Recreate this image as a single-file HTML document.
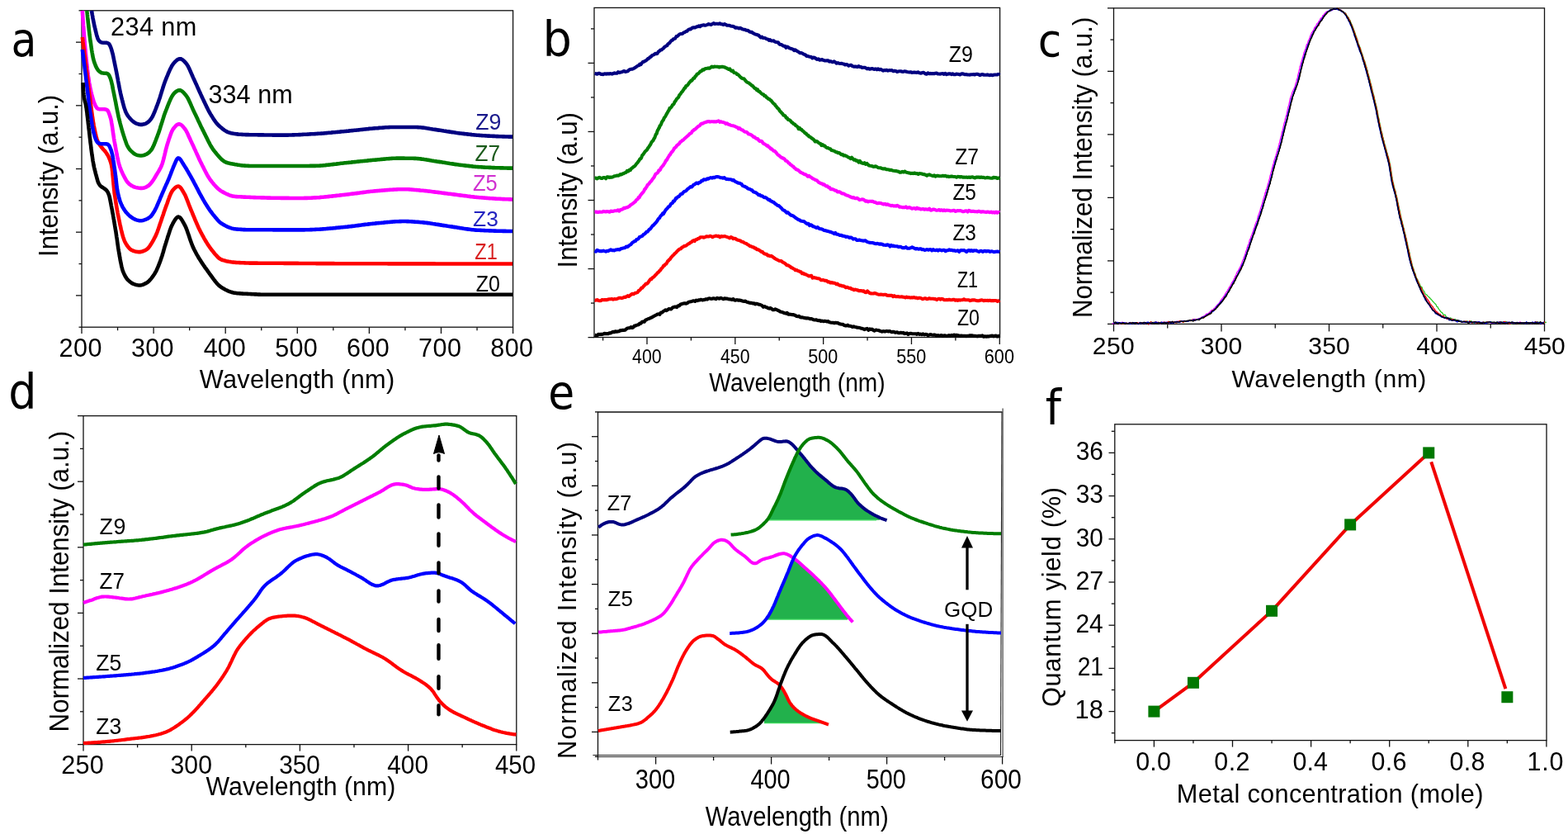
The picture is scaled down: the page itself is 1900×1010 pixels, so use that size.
<!DOCTYPE html>
<html><head><meta charset="utf-8"><title>figure</title>
<style>
html,body{margin:0;padding:0;background:#fff;}
svg{display:block;font-family:"Liberation Sans",Arial,sans-serif;}
</style></head><body>
<svg width="1900" height="1010" viewBox="0 0 1900 1010">
<rect width="1900" height="1010" fill="#fff"/>
<rect x="99" y="12.8" width="522.6" height="383.4" fill="none" stroke="#111" stroke-width="1.3"/>
<line x1="99" y1="396.2" x2="99" y2="404" stroke="#111" stroke-width="1.3"/>
<line x1="142.55" y1="396.2" x2="142.55" y2="400.2" stroke="#111" stroke-width="1.3"/>
<line x1="186.1" y1="396.2" x2="186.1" y2="404" stroke="#111" stroke-width="1.3"/>
<line x1="229.65" y1="396.2" x2="229.65" y2="400.2" stroke="#111" stroke-width="1.3"/>
<line x1="273.2" y1="396.2" x2="273.2" y2="404" stroke="#111" stroke-width="1.3"/>
<line x1="316.75" y1="396.2" x2="316.75" y2="400.2" stroke="#111" stroke-width="1.3"/>
<line x1="360.3" y1="396.2" x2="360.3" y2="404" stroke="#111" stroke-width="1.3"/>
<line x1="403.85" y1="396.2" x2="403.85" y2="400.2" stroke="#111" stroke-width="1.3"/>
<line x1="447.4" y1="396.2" x2="447.4" y2="404" stroke="#111" stroke-width="1.3"/>
<line x1="490.95" y1="396.2" x2="490.95" y2="400.2" stroke="#111" stroke-width="1.3"/>
<line x1="534.5" y1="396.2" x2="534.5" y2="404" stroke="#111" stroke-width="1.3"/>
<line x1="578.05" y1="396.2" x2="578.05" y2="400.2" stroke="#111" stroke-width="1.3"/>
<line x1="621.6" y1="396.2" x2="621.6" y2="404" stroke="#111" stroke-width="1.3"/>
<line x1="95.5" y1="12.8" x2="99" y2="12.8" stroke="#111" stroke-width="1.3"/>
<line x1="92" y1="51.14" x2="99" y2="51.14" stroke="#111" stroke-width="1.3"/>
<line x1="95.5" y1="89.48" x2="99" y2="89.48" stroke="#111" stroke-width="1.3"/>
<line x1="92" y1="127.82" x2="99" y2="127.82" stroke="#111" stroke-width="1.3"/>
<line x1="95.5" y1="166.16" x2="99" y2="166.16" stroke="#111" stroke-width="1.3"/>
<line x1="92" y1="204.5" x2="99" y2="204.5" stroke="#111" stroke-width="1.3"/>
<line x1="95.5" y1="242.84" x2="99" y2="242.84" stroke="#111" stroke-width="1.3"/>
<line x1="92" y1="281.18" x2="99" y2="281.18" stroke="#111" stroke-width="1.3"/>
<line x1="95.5" y1="319.52" x2="99" y2="319.52" stroke="#111" stroke-width="1.3"/>
<line x1="92" y1="357.86" x2="99" y2="357.86" stroke="#111" stroke-width="1.3"/>
<line x1="95.5" y1="396.2" x2="99" y2="396.2" stroke="#111" stroke-width="1.3"/>
<text x="13.57" y="67.85" font-size="56.87" textLength="30.91" lengthAdjust="spacingAndGlyphs" font-family="DejaVu Sans, sans-serif" fill="#000">a</text>
<text x="133.96" y="42.9" font-size="30.71" letter-spacing="0.389" fill="#000">234 nm</text>
<text x="252.58" y="124.6" font-size="30.57" letter-spacing="0.020" fill="#000">334 nm</text>
<text x="576.2" y="157.4" font-size="27.68" textLength="31.16" lengthAdjust="spacingAndGlyphs" fill="#1a1a8c">Z9</text>
<text x="575.51" y="194.8" font-size="27.1" textLength="30.55" lengthAdjust="spacingAndGlyphs" fill="#1b5a1b">Z7</text>
<text x="572.94" y="231" font-size="27.39" textLength="29.74" lengthAdjust="spacingAndGlyphs" fill="#d030d0">Z5</text>
<text x="572.91" y="273.7" font-size="26.38" letter-spacing="0.117" fill="#2424c0">Z3</text>
<text x="575.3" y="313.6" font-size="27.39" textLength="27.41" lengthAdjust="spacingAndGlyphs" fill="#d82020">Z1</text>
<text x="576.65" y="352.9" font-size="26.81" textLength="29.18" lengthAdjust="spacingAndGlyphs" fill="#000">Z0</text>
<text transform="translate(70.3,310.88) rotate(-90)" font-size="32.9" textLength="195.97" lengthAdjust="spacingAndGlyphs" fill="#000">Intensity (a.u.)</text>
<text x="71.57" y="431.6" font-size="30.57" letter-spacing="0.449" fill="#000">200</text>
<text x="158.98" y="431.6" font-size="30.57" letter-spacing="0.296" fill="#000">300</text>
<text x="246.69" y="431.6" font-size="30.57" textLength="50.99" lengthAdjust="spacingAndGlyphs" fill="#000">400</text>
<text x="333.18" y="431.6" font-size="30.57" letter-spacing="0.296" fill="#000">500</text>
<text x="419.97" y="431.6" font-size="30.57" letter-spacing="0.449" fill="#000">600</text>
<text x="507.07" y="431.6" font-size="30.57" letter-spacing="0.449" fill="#000">700</text>
<text x="594.32" y="431.6" font-size="30.57" letter-spacing="0.372" fill="#000">800</text>
<text x="241.85" y="470.4" font-size="30.72" letter-spacing="0.254" fill="#000">Wavelength (nm)</text>
<path d="M111.0,13.0 111.2,14.5 111.5,16.0 111.7,17.4 112.0,18.9 112.3,20.4 112.5,21.9 112.8,23.3 113.1,24.8 113.4,26.3 113.7,27.8 114.0,29.2 114.3,30.7 114.6,32.2 115.0,33.6 115.3,35.1 115.7,36.5 116.0,38.0 116.4,39.4 116.7,40.9 117.1,42.4 117.5,43.8 118.0,45.2 118.4,46.7 119.1,48.0 119.9,49.2 120.9,50.3 122.2,51.1 123.5,51.5 125.0,51.7 126.5,51.7 128.0,51.8 129.5,51.9 130.9,52.4 132.1,53.2 132.9,54.4 133.5,55.7 134.1,57.1 134.6,58.5 135.1,59.9 135.5,61.4 135.9,62.8 136.3,64.3 136.7,65.7 137.0,67.2 137.3,68.6 137.6,70.1 137.9,71.6 138.2,73.1 138.5,74.5 138.8,76.0 139.1,77.5 139.4,78.9 139.7,80.4 140.0,81.9 140.3,83.3 140.6,84.8 140.9,86.3 141.2,87.8 141.5,89.2 141.8,90.7 142.0,92.2 142.3,93.7 142.6,95.1 142.9,96.6 143.1,98.1 143.4,99.6 143.7,101.0 144.0,102.5 144.2,104.0 144.5,105.4 144.8,106.9 145.1,108.4 145.4,109.9 145.7,111.3 146.0,112.8 146.4,114.3 146.7,115.7 147.0,117.2 147.4,118.6 147.9,120.6 148.3,122.0 148.6,123.5 149.0,124.9 149.4,126.4 149.8,127.8 150.2,129.3 150.6,130.7 151.1,132.1 151.6,133.6 152.1,135.0 152.7,136.3 153.4,137.7 154.1,139.0 154.9,140.2 155.8,141.4 156.8,142.6 157.8,143.7 158.8,144.8 159.9,145.9 161.0,146.9 162.1,147.8 163.4,148.6 164.7,149.3 166.1,149.9 167.5,150.3 169.0,150.7 170.4,150.9 171.9,150.9 173.4,150.6 174.9,150.3 176.3,149.8 177.6,149.1 178.9,148.3 180.0,147.4 181.1,146.3 182.0,145.2 183.0,144.0 183.8,142.7 184.6,141.5 185.3,140.1 185.9,138.8 186.5,137.4 187.1,136.0 187.7,134.6 188.2,133.2 188.8,131.8 189.3,130.4 189.8,129.0 190.4,127.6 190.9,126.2 191.4,124.8 192.0,123.4 192.4,122.0 192.9,120.6 193.4,119.2 193.9,117.7 194.3,116.3 194.7,114.9 195.2,113.4 195.6,112.0 196.1,110.6 196.5,109.1 197.0,107.7 197.4,106.3 197.9,104.8 198.3,103.4 198.8,102.0 199.3,100.6 199.8,99.2 200.3,97.8 200.9,96.4 201.4,95.0 202.0,93.6 202.6,92.2 203.2,90.8 203.7,89.4 204.3,88.0 204.9,86.7 205.5,85.3 206.2,83.9 206.8,82.6 207.5,81.3 208.2,79.9 209.0,78.7 209.9,77.4 210.8,76.3 211.8,75.2 212.9,74.1 214.0,73.1 215.2,72.2 216.5,71.5 217.9,71.2 219.3,71.4 220.6,72.0 221.8,72.9 222.9,73.9 224.0,75.0 225.0,76.1 226.0,77.2 226.8,78.5 227.6,79.7 228.3,81.1 228.9,82.4 229.6,83.8 230.2,85.1 230.8,86.5 231.4,87.9 232.0,89.3 232.6,90.6 233.2,92.0 233.8,93.4 234.4,94.7 235.1,96.1 235.7,97.5 236.3,98.8 236.9,100.2 237.6,101.6 238.2,102.9 238.8,104.3 239.4,105.7 240.0,107.0 240.6,108.4 241.2,109.8 241.8,111.1 242.5,112.5 243.1,113.9 243.7,115.2 244.3,116.6 245.0,118.0 245.6,119.3 246.3,120.7 246.9,122.0 247.5,123.4 248.2,124.7 248.8,126.1 249.5,127.4 250.1,128.8 250.8,130.1 251.5,131.5 252.1,132.8 252.8,134.2 253.5,135.5 254.3,136.8 255.0,138.1 255.8,139.4 256.6,140.6 257.4,141.9 258.2,143.2 259.0,144.4 259.8,145.7 260.7,146.9 261.6,148.1 262.5,149.3 263.5,150.4 264.5,151.5 265.6,152.5 266.7,153.5 268.3,154.8 269.4,155.8 270.6,156.7 271.8,157.6 273.1,158.4 274.4,159.2 275.7,159.8 277.1,160.4 278.5,160.8 280.0,161.2 281.5,161.5 282.9,161.8 284.4,162.0 285.9,162.2 287.4,162.4 288.9,162.6 290.4,162.7 291.9,162.8 293.4,162.9 294.9,163.0 296.4,163.0 297.9,163.1 299.4,163.1 300.9,163.1 302.4,163.2 303.9,163.2 305.4,163.2 306.9,163.3 308.4,163.3 309.9,163.3 311.4,163.3 312.9,163.4 314.4,163.4 315.9,163.4 317.4,163.4 318.9,163.4 320.4,163.5 321.9,163.5 323.3,163.5 324.8,163.5 326.3,163.5 327.8,163.5 329.3,163.5 330.8,163.6 332.3,163.6 333.8,163.6 335.3,163.6 336.8,163.6 338.3,163.6 339.8,163.6 341.3,163.6 342.8,163.6 344.3,163.6 345.8,163.6 347.3,163.6 348.8,163.6 350.3,163.5 351.8,163.5 353.3,163.5 354.8,163.4 356.3,163.4 357.8,163.3 359.3,163.3 360.8,163.2 362.3,163.1 363.8,163.1 365.3,163.0 366.8,162.9 368.3,162.8 369.8,162.8 371.3,162.7 372.8,162.6 374.3,162.5 375.8,162.4 377.3,162.3 378.8,162.3 380.3,162.2 381.8,162.1 383.3,162.0 384.8,161.9 386.3,161.8 387.8,161.7 389.3,161.6 390.8,161.5 392.3,161.4 393.8,161.2 395.3,161.1 396.8,161.0 398.3,160.8 399.8,160.7 401.3,160.6 402.7,160.4 404.2,160.3 405.7,160.2 407.2,160.0 408.7,159.9 410.2,159.7 411.7,159.6 413.2,159.4 414.7,159.3 416.2,159.2 417.7,159.0 419.2,158.9 420.7,158.7 422.2,158.6 423.7,158.4 425.1,158.3 426.6,158.1 428.1,158.0 429.6,157.8 431.1,157.7 432.6,157.5 434.1,157.4 435.6,157.2 437.1,157.0 438.6,156.9 440.1,156.7 441.6,156.5 443.0,156.4 444.5,156.2 446.0,156.1 447.5,155.9 449.0,155.8 450.5,155.7 452.0,155.5 453.5,155.4 455.0,155.3 456.5,155.2 458.0,155.1 459.5,154.9 461.0,154.8 462.5,154.7 464.0,154.6 465.5,154.5 467.0,154.3 468.5,154.2 470.0,154.2 471.4,154.1 472.9,154.0 474.4,154.0 475.9,154.0 477.4,154.0 478.9,154.0 480.4,154.0 481.9,154.0 483.4,154.0 484.9,154.0 486.4,154.0 487.9,154.0 489.4,154.0 490.9,154.0 492.4,154.0 493.9,154.0 495.4,154.0 496.9,154.0 498.4,154.0 499.9,154.0 501.4,154.0 503.4,154.0 504.9,154.0 506.4,154.1 507.9,154.2 509.4,154.3 510.9,154.5 512.4,154.6 513.9,154.8 515.4,155.0 516.9,155.3 518.4,155.5 519.8,155.7 521.3,156.0 522.8,156.2 524.3,156.5 525.8,156.7 527.2,156.9 528.7,157.1 530.2,157.4 531.7,157.6 533.2,157.8 534.7,158.0 536.1,158.2 537.6,158.5 539.1,158.7 540.6,158.9 542.1,159.2 543.6,159.4 545.0,159.6 546.5,159.9 548.0,160.1 549.5,160.3 551.0,160.5 552.5,160.8 553.9,161.0 555.4,161.2 556.9,161.4 558.4,161.5 559.9,161.7 561.4,161.9 562.9,162.1 564.4,162.3 565.8,162.4 567.3,162.6 568.8,162.8 570.3,162.9 571.8,163.1 573.3,163.2 574.8,163.4 576.3,163.5 577.8,163.7 579.3,163.8 580.8,163.9 582.3,164.0 583.8,164.1 585.3,164.2 586.8,164.3 588.3,164.4 589.8,164.5 591.3,164.6 592.8,164.6 594.2,164.7 595.7,164.8 597.2,164.9 598.7,164.9 600.2,165.0 601.7,165.1 603.2,165.1 604.7,165.2 606.2,165.3 607.7,165.3 609.2,165.4 610.7,165.4 612.2,165.5 613.7,165.5 615.2,165.5 616.7,165.6 618.2,165.6 619.7,165.6 621.0,165.6" fill="none" stroke="#000080" stroke-width="4.6" stroke-linejoin="round" stroke-linecap="butt" />
<path d="M105.4,13.0 105.5,14.5 105.7,16.0 105.8,17.5 106.0,19.0 106.1,20.5 106.3,22.0 106.4,23.4 106.6,24.9 106.7,26.4 106.9,27.9 107.1,29.4 107.2,30.9 107.4,32.4 107.6,33.9 107.7,35.4 107.9,36.9 108.1,38.4 108.3,39.8 108.4,41.3 108.6,42.8 108.8,44.3 109.0,45.8 109.2,47.3 109.4,48.8 109.6,50.3 109.9,51.7 110.1,53.2 110.3,54.7 110.5,56.2 110.7,57.7 110.9,59.2 111.1,60.6 111.4,62.1 111.6,63.6 111.9,65.1 112.1,66.6 112.4,68.0 112.7,69.5 113.0,71.0 113.4,72.4 113.8,73.9 114.2,75.3 114.7,76.7 115.3,78.1 115.8,79.5 116.4,80.9 117.1,82.2 117.9,83.5 118.7,84.8 119.7,85.9 120.8,86.9 122.0,87.7 123.3,88.3 124.8,88.5 126.3,88.7 127.8,88.7 129.3,88.9 130.6,89.4 131.6,90.4 132.4,91.6 133.0,93.0 133.6,94.4 134.1,95.8 134.5,97.2 134.9,98.7 135.3,100.1 135.6,101.6 136.0,103.0 136.3,104.5 136.5,106.0 136.8,107.5 137.1,108.9 137.4,110.4 137.7,111.9 138.0,113.3 138.3,114.8 138.6,116.3 138.9,117.8 139.2,119.2 139.5,120.7 139.8,122.2 140.1,123.6 140.4,125.1 140.7,127.1 141.0,128.5 141.3,130.0 141.6,131.5 141.9,133.0 142.2,134.4 142.5,135.9 142.8,137.4 143.1,138.8 143.4,140.3 143.7,141.8 144.1,143.2 144.4,144.7 144.8,146.1 145.2,147.6 145.5,149.0 145.9,150.5 146.3,151.9 146.7,153.4 147.1,154.8 147.5,156.3 147.9,157.7 148.3,159.2 148.7,160.6 149.2,162.0 149.6,163.5 150.1,164.9 150.6,166.3 151.0,167.8 151.5,169.2 152.0,170.6 152.5,172.0 153.0,173.4 153.5,174.8 154.1,176.2 154.8,177.5 155.6,178.8 156.4,180.1 157.3,181.2 158.3,182.4 159.4,183.4 160.5,184.4 161.6,185.4 162.8,186.3 164.1,187.0 165.5,187.6 166.9,188.0 168.4,188.3 169.9,188.5 171.4,188.5 172.9,188.3 174.3,188.0 175.7,187.5 177.1,186.9 178.4,186.2 179.6,185.3 180.8,184.4 181.8,183.3 182.8,182.2 183.7,181.0 184.5,179.7 185.2,178.4 185.8,177.0 186.5,175.7 187.0,174.3 187.6,172.9 188.1,171.5 188.7,170.1 189.2,168.7 189.7,167.3 190.3,165.9 190.8,164.5 191.3,163.1 191.9,161.7 192.4,160.3 192.9,158.8 193.3,157.4 193.8,156.0 194.2,154.6 194.7,153.1 195.1,151.7 195.6,150.3 196.0,148.8 196.5,147.4 196.9,146.0 197.4,144.5 197.8,143.1 198.3,141.7 198.7,140.2 199.2,138.8 199.7,137.4 200.2,136.0 200.8,134.6 201.3,133.2 201.9,131.8 202.4,130.4 203.0,129.0 203.5,127.6 204.1,126.2 204.6,124.8 205.2,123.4 205.8,122.1 206.4,120.7 207.0,119.3 207.7,118.0 208.4,116.7 209.2,115.4 210.0,114.2 211.0,113.0 212.1,112.0 213.2,111.0 214.5,110.2 215.8,109.5 217.2,109.2 218.6,109.4 219.9,110.0 221.1,110.9 222.2,111.9 223.2,113.0 224.2,114.1 225.2,115.3 226.1,116.5 226.9,117.7 227.7,119.0 228.3,120.4 229.0,121.7 229.6,123.1 230.3,124.4 230.9,125.8 231.5,127.2 232.1,128.6 232.7,129.9 233.3,131.3 233.9,132.7 234.5,134.0 235.2,135.4 235.8,136.7 236.5,138.1 237.1,139.4 237.8,140.8 238.4,142.2 239.1,143.5 239.7,144.9 240.3,146.2 241.0,147.6 241.6,148.9 242.3,150.3 242.9,151.7 243.5,153.0 244.2,154.4 244.9,155.7 245.5,157.1 246.2,158.4 246.9,159.7 247.5,161.1 248.2,162.4 248.9,163.8 249.5,165.1 250.2,166.4 250.9,167.8 251.5,169.1 252.2,170.5 252.9,171.8 253.6,173.1 254.3,174.5 255.0,175.8 256.0,177.5 256.8,178.8 257.6,180.1 258.5,181.3 259.4,182.5 260.3,183.6 261.2,184.8 262.2,186.0 263.1,187.1 264.1,188.3 265.1,189.4 266.1,190.5 267.1,191.6 268.2,192.7 269.3,193.7 270.5,194.6 271.7,195.5 273.0,196.2 274.4,196.8 275.8,197.2 277.3,197.6 278.7,197.9 280.2,198.2 281.7,198.5 283.1,198.8 284.6,199.1 286.1,199.3 287.6,199.6 289.1,199.8 290.5,200.0 292.0,200.2 293.5,200.4 295.0,200.5 296.5,200.6 298.0,200.8 299.5,200.8 301.0,200.9 302.5,201.0 304.0,201.0 305.5,201.0 307.0,201.0 308.5,201.0 310.0,201.0 311.5,201.0 313.0,201.0 314.5,201.0 316.0,201.0 317.5,201.0 319.0,201.0 320.5,201.0 322.0,201.0 323.5,201.0 325.0,201.0 326.5,201.0 328.0,201.0 329.5,201.0 331.0,201.0 332.5,201.0 334.0,201.0 335.5,201.0 337.0,201.0 338.5,201.0 340.0,201.0 341.5,201.0 343.0,201.0 344.5,201.0 346.0,201.0 347.5,201.0 349.0,201.0 350.5,201.0 352.0,201.0 353.5,201.0 355.0,201.0 356.5,201.0 358.0,201.0 359.5,201.0 361.0,201.0 362.5,201.0 364.0,201.0 365.5,201.0 367.0,201.0 368.5,201.0 370.0,201.0 371.5,201.0 373.0,201.0 374.5,201.0 376.0,200.9 377.5,200.9 379.0,200.9 380.5,200.9 382.0,200.9 383.5,200.8 385.0,200.7 386.5,200.7 388.0,200.6 389.5,200.5 391.0,200.4 392.5,200.2 394.0,200.1 395.5,199.9 397.0,199.8 398.5,199.6 399.9,199.5 401.4,199.3 402.9,199.1 404.4,198.9 405.9,198.7 407.4,198.6 408.9,198.4 410.4,198.2 411.9,198.0 413.3,197.8 414.8,197.7 416.3,197.5 417.8,197.3 419.3,197.2 420.8,197.0 422.3,196.9 423.8,196.7 425.3,196.6 426.8,196.4 428.3,196.3 429.8,196.1 431.2,196.0 432.7,195.8 434.2,195.6 435.7,195.5 437.2,195.3 438.7,195.2 440.2,195.0 441.7,194.9 443.2,194.7 444.7,194.6 446.2,194.4 447.7,194.3 449.2,194.1 450.6,194.0 452.1,193.8 453.6,193.7 455.1,193.6 456.6,193.5 458.1,193.3 459.6,193.2 461.1,193.0 462.6,192.9 464.1,192.8 465.6,192.6 467.1,192.5 468.6,192.3 470.1,192.2 471.6,192.1 473.1,192.0 474.6,191.9 476.1,191.8 477.5,191.7 479.0,191.7 480.5,191.6 482.0,191.6 483.5,191.6 485.0,191.6 486.5,191.6 488.0,191.6 489.5,191.6 491.0,191.7 492.5,191.7 494.0,191.7 495.5,191.7 497.5,191.8 499.0,191.8 500.5,191.8 502.0,191.9 503.5,191.9 505.0,192.0 506.5,192.1 508.0,192.2 509.5,192.4 511.0,192.6 512.5,192.7 514.0,193.0 515.5,193.2 516.9,193.4 518.4,193.7 519.9,193.9 521.4,194.2 522.9,194.5 524.3,194.7 525.8,195.0 527.3,195.2 528.8,195.4 530.3,195.7 531.7,195.9 533.2,196.1 534.7,196.3 536.2,196.6 537.7,196.8 539.2,197.0 540.6,197.3 542.1,197.5 543.6,197.7 545.1,198.0 546.6,198.2 548.0,198.4 549.5,198.6 551.0,198.9 552.5,199.1 554.0,199.3 555.5,199.5 557.0,199.7 558.5,199.9 559.9,200.0 561.4,200.2 562.9,200.4 564.4,200.6 565.9,200.8 567.4,200.9 568.9,201.1 570.4,201.3 571.9,201.4 573.4,201.6 574.8,201.7 576.3,201.9 577.8,202.0 579.3,202.1 580.8,202.2 582.3,202.3 583.8,202.4 585.3,202.5 586.8,202.6 588.3,202.7 589.8,202.7 591.3,202.8 592.8,202.9 594.3,202.9 595.8,203.0 597.3,203.1 598.8,203.1 600.3,203.2 601.8,203.2 603.3,203.3 604.8,203.3 606.3,203.4 607.8,203.4 609.3,203.4 610.8,203.5 612.3,203.5 613.8,203.5 615.3,203.6 616.8,203.6 618.3,203.6 619.7,203.6 621.0,203.6" fill="none" stroke="#007d00" stroke-width="4.6" stroke-linejoin="round" stroke-linecap="butt" />
<path d="M99.8,13.0 99.9,14.5 100.0,16.0 100.1,17.5 100.2,19.0 100.3,20.5 100.4,22.0 100.5,23.5 100.6,25.0 100.7,26.5 100.8,28.0 100.9,29.5 101.0,31.0 101.2,32.5 101.3,33.9 101.4,35.4 101.5,36.9 101.6,38.4 101.7,39.9 101.8,41.4 101.9,42.9 102.1,44.4 102.2,45.9 102.3,47.4 102.4,48.9 102.5,50.4 102.7,51.9 102.8,53.4 102.9,54.9 103.1,56.4 103.2,57.9 103.3,59.4 103.5,60.9 103.6,62.4 103.7,63.8 103.9,65.3 104.0,66.8 104.2,68.3 104.3,69.8 104.5,71.3 104.7,72.8 104.8,74.3 105.0,75.8 105.2,77.3 105.3,78.8 105.5,80.3 105.7,81.7 105.8,83.2 106.0,84.7 106.2,86.2 106.4,87.7 106.6,89.2 106.7,90.7 106.9,92.2 107.1,93.7 107.4,95.1 107.6,96.6 107.8,98.1 108.0,99.6 108.3,101.1 108.5,102.5 108.8,104.0 109.1,105.5 109.4,107.0 109.7,108.4 110.1,109.9 110.4,111.3 110.8,112.8 111.1,114.3 111.5,115.7 111.9,117.2 112.3,118.6 112.7,120.0 113.1,121.5 113.6,122.9 114.1,124.3 114.7,125.7 115.3,127.1 115.9,128.4 116.6,129.7 117.5,130.9 118.6,131.8 120.0,132.1 121.5,132.2 123.0,132.2 124.5,132.3 126.0,132.3 127.5,132.4 128.9,132.7 130.1,133.4 130.9,134.6 131.6,135.9 132.1,137.3 132.6,138.7 133.1,140.1 133.5,141.6 134.0,143.0 134.4,144.4 134.7,145.9 135.0,147.4 135.2,148.9 135.5,150.3 135.7,151.8 136.0,153.3 136.2,154.8 136.4,156.3 136.6,157.8 136.8,159.2 137.0,160.7 137.2,162.2 137.5,163.7 137.7,165.2 137.9,166.7 138.1,168.1 138.4,169.6 138.6,171.1 138.9,172.6 139.2,174.0 139.4,175.5 139.7,177.0 140.0,178.5 140.2,180.0 140.5,181.4 140.8,182.9 141.1,184.4 141.4,185.8 141.6,187.3 141.9,188.8 142.2,190.3 142.5,191.7 142.9,193.2 143.2,194.7 143.5,196.1 143.9,197.6 144.3,199.0 144.8,200.4 145.2,201.9 145.7,203.3 146.2,204.7 146.8,206.1 147.4,207.5 148.0,208.8 148.6,210.2 149.3,211.6 149.9,212.9 150.6,214.2 151.3,215.5 152.1,216.9 152.8,218.2 153.6,219.4 154.5,220.6 155.5,221.7 156.6,222.8 157.8,223.7 159.0,224.6 160.3,225.3 161.6,226.0 163.0,226.5 164.5,226.9 165.9,227.2 167.4,227.5 168.9,227.7 170.4,227.9 171.9,227.9 173.4,227.8 174.8,227.5 176.2,226.9 177.5,226.3 178.8,225.5 180.1,224.7 181.2,223.7 182.2,222.6 183.2,221.5 184.1,220.3 185.0,219.1 185.9,217.9 186.7,216.6 187.5,215.3 188.2,214.0 189.0,212.7 189.7,211.4 190.5,210.2 191.3,208.9 192.1,207.6 192.8,206.3 193.6,205.0 194.3,203.7 195.0,202.3 195.6,201.0 196.1,199.6 196.7,198.2 197.1,196.7 197.5,195.3 197.9,193.9 198.3,192.4 198.7,190.9 199.0,189.5 199.4,188.0 199.7,186.6 200.1,185.1 200.4,183.7 200.8,182.2 201.1,180.7 201.5,179.3 201.9,177.8 202.3,176.4 202.7,175.0 203.2,173.5 203.6,172.1 204.1,170.7 204.5,169.2 205.0,167.8 205.5,166.4 206.0,165.0 206.5,163.6 207.0,162.2 207.5,160.8 208.1,159.4 208.8,158.0 209.5,156.7 210.4,155.5 211.3,154.3 212.3,153.2 213.3,152.1 214.5,151.1 215.7,150.5 217.1,150.2 218.5,150.6 219.8,151.4 220.9,152.4 221.9,153.5 222.8,154.6 223.8,155.8 224.7,157.0 225.5,158.2 226.2,159.6 226.9,160.9 227.5,162.3 228.1,163.6 228.7,165.0 229.3,166.4 230.0,167.7 230.6,169.1 231.2,170.5 231.9,171.8 232.5,173.2 233.1,174.5 233.8,175.9 234.4,177.2 235.0,178.6 235.6,180.0 236.3,181.3 236.9,182.7 237.5,184.1 238.1,185.4 238.7,186.8 239.4,188.2 240.0,189.5 240.6,190.9 241.2,192.3 241.9,193.6 242.5,195.0 243.2,196.3 243.8,197.7 244.5,199.0 245.4,200.8 246.1,202.1 246.8,203.5 247.4,204.8 248.1,206.2 248.8,207.5 249.5,208.8 250.2,210.1 250.9,211.5 251.6,212.8 252.4,214.1 253.2,215.3 254.0,216.6 254.9,217.8 255.8,219.0 256.7,220.2 257.7,221.4 258.6,222.5 259.6,223.7 260.6,224.8 261.6,225.9 262.6,227.0 263.7,228.0 264.8,229.0 266.0,229.9 267.2,230.8 268.5,231.7 269.8,232.4 271.1,233.1 272.4,233.8 273.7,234.5 275.1,235.1 276.5,235.7 277.9,236.3 279.3,236.8 280.7,237.2 282.2,237.6 283.6,237.8 285.1,238.0 286.6,238.1 288.1,238.2 289.6,238.3 291.1,238.3 292.6,238.4 294.1,238.5 295.6,238.6 297.1,238.6 298.6,238.7 300.1,238.8 301.6,238.8 303.1,238.9 304.6,239.0 306.1,239.0 307.6,239.1 309.1,239.1 310.6,239.2 312.1,239.2 313.6,239.3 315.1,239.3 316.6,239.4 318.1,239.4 319.6,239.4 321.1,239.5 322.6,239.5 324.1,239.6 325.6,239.6 327.1,239.6 328.6,239.7 330.1,239.7 331.6,239.7 333.1,239.7 334.6,239.8 336.1,239.8 337.6,239.8 339.1,239.8 340.6,239.9 342.1,239.9 343.6,239.9 345.1,239.9 346.6,239.9 348.1,239.9 349.6,239.9 351.1,240.0 352.6,240.0 354.1,240.0 355.6,240.0 357.1,240.0 358.6,240.0 360.1,240.0 361.6,240.0 363.1,240.0 364.6,240.0 366.1,240.0 367.6,240.0 369.1,239.9 370.6,239.9 372.1,239.9 373.6,239.8 375.1,239.7 376.6,239.7 378.1,239.6 379.6,239.5 381.1,239.4 382.6,239.4 384.1,239.3 385.6,239.2 387.1,239.1 388.6,238.9 390.1,238.8 391.5,238.7 393.0,238.5 394.5,238.4 396.0,238.3 397.5,238.1 399.0,237.9 400.5,237.8 402.0,237.6 403.5,237.4 405.0,237.3 406.5,237.1 408.0,236.9 409.4,236.7 410.9,236.6 412.4,236.4 413.9,236.2 415.4,236.0 416.9,235.9 418.4,235.7 419.9,235.5 421.4,235.4 422.9,235.2 424.3,235.0 425.8,234.8 427.3,234.6 428.8,234.5 430.3,234.3 431.8,234.1 433.3,233.9 434.8,233.7 436.2,233.5 437.7,233.3 439.2,233.1 440.7,232.9 442.2,232.7 443.7,232.5 445.2,232.3 446.7,232.1 448.1,232.0 449.6,231.8 451.1,231.7 452.6,231.5 454.1,231.4 455.6,231.3 457.1,231.1 458.6,231.0 460.1,230.9 461.6,230.8 463.1,230.6 464.6,230.5 466.1,230.4 467.6,230.3 469.1,230.1 470.6,230.0 472.1,229.9 473.6,229.8 475.1,229.7 476.5,229.6 478.0,229.5 479.5,229.5 481.0,229.4 482.5,229.3 484.0,229.3 485.5,229.2 487.0,229.2 488.5,229.2 490.0,229.2 491.5,229.2 493.0,229.3 494.5,229.3 496.0,229.4 497.5,229.5 499.0,229.6 500.5,229.7 502.0,229.9 503.5,230.0 505.0,230.1 506.5,230.3 508.0,230.4 509.5,230.6 511.0,230.7 512.5,230.8 514.0,231.0 515.5,231.1 517.0,231.3 518.4,231.5 519.9,231.6 521.4,231.8 522.9,232.0 524.4,232.2 525.9,232.4 527.4,232.6 528.9,232.8 530.3,232.9 531.8,233.1 533.3,233.3 534.8,233.5 536.3,233.7 537.8,233.9 539.3,234.1 540.8,234.3 542.2,234.5 543.7,234.7 545.2,234.8 546.7,235.0 548.2,235.2 549.7,235.4 551.2,235.6 552.7,235.8 554.2,236.0 555.6,236.2 557.1,236.4 558.6,236.6 560.1,236.8 561.6,237.0 563.1,237.1 564.6,237.3 566.1,237.5 567.5,237.7 569.0,237.9 570.5,238.1 572.0,238.2 573.5,238.4 575.0,238.6 576.5,238.7 578.0,238.9 579.5,239.0 581.0,239.2 582.5,239.3 584.0,239.4 585.4,239.5 586.9,239.6 588.4,239.8 589.9,239.9 591.4,240.0 592.9,240.1 594.4,240.2 595.9,240.3 597.4,240.4 598.9,240.5 600.4,240.6 601.9,240.7 603.4,240.7 604.9,240.8 606.4,240.9 607.9,241.0 609.4,241.1 610.9,241.1 612.4,241.2 613.9,241.3 615.4,241.3 616.9,241.4 618.4,241.4 619.8,241.5 621.0,241.5" fill="none" stroke="#ff00ff" stroke-width="4.6" stroke-linejoin="round" stroke-linecap="butt" />
<path d="M99.8,45.0 100.0,46.5 100.2,48.0 100.4,49.5 100.5,51.0 100.7,52.4 100.9,53.9 101.1,55.4 101.3,56.9 101.5,58.4 101.7,59.9 101.9,61.4 102.0,62.9 102.2,64.3 102.4,65.8 102.6,67.3 102.8,68.8 103.0,70.3 103.2,71.8 103.3,73.3 103.5,74.8 103.7,76.3 103.9,77.7 104.1,79.2 104.3,80.7 104.4,82.2 104.6,83.7 104.8,85.2 105.0,86.7 105.2,88.2 105.4,89.7 105.5,91.1 105.7,92.6 105.9,94.1 106.1,95.6 106.3,97.1 106.4,98.6 106.6,100.1 106.8,101.6 107.0,103.1 107.2,104.5 107.3,106.0 107.5,107.5 107.7,109.0 107.9,110.5 108.1,112.0 108.3,113.5 108.5,115.0 108.7,116.5 108.9,117.9 109.1,119.4 109.3,120.9 109.4,122.4 109.6,123.9 109.8,125.4 110.0,126.9 110.2,128.3 110.4,129.8 110.6,131.3 110.8,132.8 111.0,134.3 111.2,135.8 111.4,137.3 111.6,138.8 111.8,140.2 112.0,141.7 112.3,143.2 112.5,144.7 112.7,146.2 112.9,147.7 113.2,149.1 113.5,150.6 113.7,152.1 114.0,153.6 114.3,155.0 114.6,156.5 114.9,158.0 115.2,159.4 115.5,160.9 115.8,162.4 116.2,163.8 116.5,165.3 116.9,166.7 117.3,168.2 117.8,169.6 118.3,171.0 119.0,172.4 119.7,173.7 120.5,174.9 121.4,176.1 122.3,177.3 123.2,178.5 124.2,179.7 125.5,181.2 126.5,182.3 127.5,183.4 128.4,184.6 129.2,185.9 130.0,187.1 130.8,188.4 131.5,189.8 132.1,191.1 132.7,192.5 133.3,193.9 133.7,195.3 134.2,196.7 134.6,198.2 135.0,199.6 135.3,201.1 135.5,202.6 135.8,204.0 135.9,205.5 136.1,207.0 136.3,208.5 136.4,210.0 136.5,211.5 136.7,213.0 136.8,214.5 137.0,216.0 137.1,217.5 137.2,219.0 137.4,220.5 137.5,222.0 137.6,223.5 137.8,225.0 137.9,226.4 138.1,227.9 138.2,229.4 138.4,230.9 138.5,232.4 138.7,233.9 138.9,235.4 139.1,236.9 139.4,238.4 139.6,239.8 139.8,241.3 140.0,242.8 140.2,244.3 140.5,245.8 140.7,247.3 141.0,248.7 141.2,250.2 141.5,251.7 141.7,253.2 142.0,254.6 142.3,256.1 142.5,257.6 142.8,259.1 143.1,260.5 143.4,262.0 143.7,263.5 144.0,264.9 144.3,266.4 144.6,267.9 144.9,269.4 145.2,270.8 145.5,272.3 145.9,273.8 146.2,275.2 146.5,276.7 146.8,278.1 147.2,279.6 147.5,281.1 147.9,282.5 148.3,284.0 148.7,285.4 149.1,286.9 149.6,288.3 150.1,289.7 150.6,291.1 151.2,292.5 151.9,293.8 152.6,295.1 153.4,296.4 154.2,297.6 155.1,298.8 156.1,300.0 157.1,301.1 158.2,302.1 159.4,302.9 160.8,303.5 162.2,304.0 163.6,304.4 165.1,304.7 166.6,305.0 168.1,305.1 169.6,305.1 171.0,304.9 172.5,304.5 173.9,304.0 175.3,303.4 176.6,302.7 177.9,301.9 179.0,301.0 180.1,299.9 181.0,298.7 181.8,297.5 182.6,296.2 183.4,295.0 184.2,293.7 185.0,292.4 185.7,291.1 186.4,289.8 187.1,288.4 187.8,287.1 188.5,285.8 189.1,284.4 189.7,283.0 190.3,281.6 190.8,280.2 191.3,278.8 191.8,277.4 192.3,276.0 192.8,274.6 193.3,273.1 193.7,271.7 194.2,270.3 194.7,268.9 195.2,267.5 195.7,266.0 196.2,264.6 196.6,263.2 197.1,261.8 197.6,260.4 198.1,258.9 198.5,257.5 199.0,256.1 199.5,254.7 200.0,253.3 200.5,251.8 201.0,250.4 201.5,249.0 202.1,247.6 202.6,246.2 203.1,244.8 203.5,243.4 204.0,242.0 204.6,240.5 205.1,239.1 205.6,237.7 206.2,236.3 206.7,235.0 207.4,233.6 208.1,232.3 208.9,231.0 209.8,229.9 210.8,228.8 211.9,227.7 213.0,226.7 214.3,226.0 215.7,225.6 217.0,225.8 218.2,226.6 219.2,227.7 220.0,228.9 220.8,230.2 221.6,231.5 222.3,232.8 223.1,234.1 223.8,235.4 224.5,236.7 225.1,238.1 225.7,239.5 226.2,240.9 226.8,242.3 227.3,243.7 227.9,245.1 228.4,246.5 228.9,247.9 229.5,249.3 230.0,250.7 230.6,252.1 231.1,253.5 231.7,254.8 232.3,256.2 232.9,257.6 233.4,259.0 234.0,260.4 234.8,262.2 235.4,263.6 235.9,265.0 236.5,266.4 237.1,267.8 237.7,269.1 238.3,270.5 238.9,271.9 239.5,273.3 240.1,274.6 240.7,276.0 241.4,277.3 242.0,278.7 242.7,280.0 243.4,281.4 244.1,282.7 244.8,284.0 245.5,285.3 246.3,286.6 247.0,288.0 247.7,289.3 248.5,290.6 249.2,291.9 250.0,293.1 250.8,294.4 251.6,295.7 252.4,296.9 253.3,298.2 254.1,299.4 255.0,300.6 255.9,301.8 256.8,303.0 257.8,304.2 258.7,305.3 259.6,306.5 260.6,307.7 261.6,308.8 262.6,309.9 263.6,311.0 264.7,312.1 265.8,313.0 267.1,313.8 268.4,314.5 269.8,315.0 271.3,315.4 272.7,315.8 274.2,316.2 275.6,316.5 277.1,316.8 278.6,317.0 280.1,317.3 281.6,317.5 283.0,317.6 284.5,317.7 286.0,317.9 287.5,318.0 289.0,318.0 290.5,318.1 292.0,318.2 293.5,318.3 295.0,318.3 296.5,318.4 298.0,318.5 299.5,318.5 301.0,318.5 302.5,318.6 304.0,318.6 305.5,318.6 307.0,318.6 308.5,318.6 310.0,318.6 311.5,318.6 313.0,318.7 314.5,318.7 316.0,318.7 317.5,318.7 319.0,318.7 320.5,318.7 322.0,318.7 323.5,318.7 325.0,318.7 326.5,318.7 328.0,318.8 329.5,318.8 331.0,318.8 332.5,318.8 334.0,318.8 335.5,318.8 337.0,318.8 338.5,318.8 340.0,318.8 341.5,318.8 343.0,318.8 344.5,318.9 346.0,318.9 347.5,318.9 349.0,318.9 350.5,318.9 352.0,318.9 353.5,318.9 355.0,318.9 356.5,318.9 358.0,318.9 359.5,318.9 361.0,318.9 362.5,319.0 364.0,319.0 365.5,319.0 367.0,319.0 368.5,319.0 370.0,319.0 371.5,319.0 373.0,319.0 374.5,319.0 376.0,319.0 377.5,319.0 379.0,319.0 380.5,319.0 382.0,319.0 383.5,319.1 385.0,319.1 386.5,319.1 388.0,319.1 389.5,319.1 391.0,319.1 392.5,319.1 394.0,319.1 395.5,319.1 397.0,319.1 398.5,319.1 400.0,319.1 401.5,319.1 403.0,319.1 404.5,319.1 406.0,319.2 407.5,319.2 409.0,319.2 410.5,319.2 412.0,319.2 413.5,319.2 415.0,319.2 416.5,319.2 418.0,319.2 419.5,319.2 421.0,319.2 422.5,319.2 424.0,319.2 425.5,319.2 427.0,319.2 428.5,319.2 430.0,319.2 431.5,319.2 433.0,319.2 434.5,319.3 436.0,319.3 437.5,319.3 439.0,319.3 440.5,319.3 442.0,319.3 443.5,319.3 445.0,319.3 446.5,319.3 448.0,319.3 449.5,319.3 451.0,319.3 452.5,319.3 454.0,319.3 455.5,319.3 457.0,319.3 458.5,319.3 460.0,319.3 461.5,319.3 463.0,319.3 464.5,319.3 466.0,319.3 467.5,319.3 469.0,319.3 470.5,319.4 472.0,319.4 473.5,319.4 475.0,319.4 476.5,319.4 478.0,319.4 479.5,319.4 481.0,319.4 483.0,319.4 484.5,319.4 486.0,319.4 487.5,319.4 489.0,319.4 490.5,319.4 492.0,319.4 493.5,319.4 495.0,319.4 496.5,319.4 498.0,319.4 499.5,319.4 501.0,319.4 502.5,319.4 504.0,319.4 505.5,319.4 507.0,319.4 508.5,319.4 510.0,319.4 511.5,319.4 513.0,319.4 514.5,319.4 516.0,319.4 517.5,319.4 519.0,319.4 520.5,319.4 522.0,319.4 523.5,319.4 525.0,319.4 526.5,319.4 528.0,319.5 529.5,319.5 531.0,319.5 532.5,319.5 534.0,319.5 535.5,319.5 537.0,319.5 538.5,319.5 540.0,319.5 541.5,319.5 543.0,319.5 544.5,319.5 546.0,319.5 547.5,319.5 549.0,319.5 550.5,319.5 552.0,319.5 553.5,319.5 555.0,319.5 556.5,319.5 558.0,319.5 559.5,319.5 561.0,319.5 562.5,319.5 564.0,319.5 565.5,319.5 567.0,319.5 568.5,319.5 570.0,319.5 571.5,319.5 573.0,319.5 574.5,319.5 576.0,319.5 577.5,319.5 579.0,319.5 580.5,319.5 582.0,319.5 583.5,319.5 585.0,319.5 586.5,319.5 588.0,319.5 589.5,319.5 591.0,319.5 592.5,319.5 594.0,319.5 595.5,319.5 597.0,319.5 598.5,319.5 600.0,319.5 601.5,319.5 603.0,319.5 604.5,319.5 606.0,319.5 607.5,319.5 609.0,319.5 610.5,319.5 612.0,319.5 613.5,319.5 615.0,319.5 616.5,319.5 618.0,319.5 619.5,319.5 621.0,319.5" fill="none" stroke="#ff0000" stroke-width="4.6" stroke-linejoin="round" stroke-linecap="butt" />
<path d="M99.8,60.0 100.0,61.5 100.2,63.0 100.4,64.5 100.6,66.0 100.8,67.4 100.9,68.9 101.1,70.4 101.3,71.9 101.5,73.4 101.7,74.9 101.9,76.4 102.1,77.9 102.3,79.3 102.5,80.8 102.6,82.3 102.8,83.8 103.0,85.3 103.2,86.8 103.4,88.3 103.6,89.8 103.8,91.2 104.0,92.7 104.1,94.2 104.3,95.7 104.5,97.2 104.7,98.7 104.9,100.2 105.1,101.7 105.2,103.2 105.4,104.6 105.6,106.1 105.8,107.6 105.9,109.1 106.1,110.6 106.3,112.1 106.5,113.6 106.6,115.1 106.8,116.6 107.0,118.1 107.2,119.5 107.4,121.0 107.5,122.5 107.7,124.0 107.9,125.5 108.1,127.0 108.3,128.5 108.5,130.0 108.7,131.4 108.9,132.9 109.1,134.4 109.3,135.9 109.6,137.4 109.8,138.9 110.0,140.4 110.2,141.8 110.4,143.3 110.6,144.8 110.9,146.3 111.1,147.8 111.3,149.3 111.5,150.7 111.8,152.2 112.0,153.7 112.3,155.2 112.6,156.6 112.9,158.1 113.2,159.6 113.6,161.0 114.0,162.5 114.4,163.9 114.8,165.4 115.3,166.8 115.8,168.2 116.4,169.6 117.0,170.9 117.9,172.1 118.9,173.1 120.3,173.7 121.7,174.0 123.2,174.2 124.7,174.2 126.2,174.3 127.7,174.3 129.2,174.4 130.6,174.8 131.7,175.7 132.5,176.9 133.1,178.2 133.7,179.6 134.2,181.0 134.8,182.4 135.2,183.9 135.6,185.3 136.0,186.8 136.3,188.2 136.6,189.7 136.8,191.2 137.1,192.7 137.3,194.1 137.6,195.6 137.8,197.1 138.0,198.6 138.2,200.1 138.4,201.6 138.6,203.0 138.9,204.5 139.1,206.0 139.3,207.5 139.5,209.0 139.7,210.5 139.9,212.0 140.1,213.4 140.3,214.9 140.4,216.4 140.6,217.9 140.8,219.4 140.9,220.9 141.1,222.4 141.3,223.9 141.4,225.4 141.6,226.9 141.8,228.3 142.1,229.8 142.4,231.3 142.6,232.8 143.0,234.2 143.3,235.7 143.6,237.2 144.0,238.6 144.5,240.5 145.0,242.0 145.4,243.4 145.9,244.8 146.5,246.2 147.1,247.6 147.7,248.9 148.4,250.3 149.1,251.6 149.9,252.9 150.7,254.1 151.5,255.4 152.4,256.6 153.4,257.7 154.4,258.8 155.4,259.9 156.5,260.9 157.7,261.9 158.9,262.8 160.1,263.7 161.4,264.5 162.7,265.2 164.0,265.9 165.4,266.4 166.9,266.8 168.3,267.1 169.8,267.2 171.3,267.2 172.8,267.0 174.2,266.6 175.6,266.1 177.0,265.6 178.4,265.0 179.7,264.2 181.0,263.4 182.2,262.5 183.2,261.5 184.2,260.3 185.0,259.1 185.8,257.8 186.6,256.5 187.4,255.2 188.1,253.9 188.7,252.6 189.4,251.2 190.0,249.9 190.6,248.5 191.2,247.1 191.8,245.7 192.4,244.3 193.0,243.0 193.6,241.6 194.1,240.2 194.7,238.8 195.3,237.5 195.9,236.1 196.5,234.7 197.1,233.3 197.7,231.9 198.3,230.6 198.9,229.2 199.5,227.8 200.1,226.4 200.7,225.1 201.3,223.7 202.0,222.3 202.6,221.0 203.2,219.6 203.8,218.2 204.4,216.9 204.9,215.5 205.5,214.1 206.0,212.7 206.6,211.3 207.1,209.9 207.6,208.5 208.2,207.1 208.7,205.7 209.3,204.3 209.8,202.9 210.4,201.5 211.0,200.1 211.6,198.8 212.2,197.4 212.8,196.0 213.4,194.6 214.0,193.3 214.9,192.1 215.9,191.4 217.2,191.7 218.2,192.6 219.1,193.8 219.9,195.1 220.7,196.4 221.5,197.7 222.2,198.9 223.1,200.2 223.9,201.5 224.7,202.7 225.5,204.0 226.3,205.3 227.0,206.6 227.8,207.9 228.5,209.2 229.3,210.5 230.0,211.8 230.8,213.1 231.5,214.4 232.2,215.7 232.9,217.0 233.7,218.3 234.4,219.6 235.1,221.0 235.8,222.3 236.5,223.6 237.2,224.9 237.9,226.3 238.6,227.6 239.3,228.9 240.0,230.3 240.6,231.6 241.3,232.9 242.0,234.3 242.8,235.6 243.5,236.9 244.2,238.2 245.0,239.5 245.7,240.8 246.4,242.1 247.2,243.4 247.9,244.7 248.7,246.0 249.5,247.3 250.3,248.6 251.1,249.8 251.9,251.1 252.7,252.3 253.6,253.6 254.4,254.8 255.3,256.0 256.2,257.2 257.1,258.4 258.0,259.6 259.0,260.8 259.9,261.9 260.9,263.1 261.9,264.2 262.8,265.4 263.8,266.5 264.8,267.6 265.9,268.7 267.0,269.6 268.2,270.5 269.5,271.3 270.8,272.1 272.1,272.8 273.4,273.5 274.8,274.2 276.1,274.8 277.5,275.4 278.9,275.9 280.3,276.4 281.8,276.8 283.2,277.1 284.7,277.3 286.2,277.5 287.7,277.6 289.2,277.7 290.7,277.8 292.2,277.9 293.7,278.0 295.2,278.1 296.7,278.1 298.2,278.2 299.7,278.2 301.2,278.2 302.7,278.2 304.2,278.2 305.7,278.2 307.2,278.2 308.7,278.3 310.2,278.3 311.7,278.3 313.2,278.3 314.7,278.3 316.2,278.3 317.7,278.3 319.2,278.3 320.7,278.3 322.2,278.3 323.7,278.3 325.2,278.3 326.7,278.3 328.2,278.3 329.7,278.3 331.2,278.4 332.7,278.4 334.2,278.4 335.7,278.4 337.2,278.4 338.7,278.4 340.2,278.4 341.7,278.4 343.2,278.4 344.7,278.4 346.2,278.4 347.7,278.4 349.2,278.4 350.7,278.4 352.2,278.4 353.7,278.4 355.2,278.4 356.7,278.4 358.2,278.4 359.7,278.4 361.2,278.4 362.7,278.4 364.2,278.4 365.7,278.4 367.2,278.4 368.7,278.4 370.2,278.3 371.7,278.3 373.2,278.2 374.7,278.2 376.2,278.1 377.7,278.1 379.2,278.0 380.7,278.0 382.2,277.9 383.7,277.8 385.2,277.8 386.7,277.7 388.2,277.6 389.7,277.5 391.2,277.4 392.7,277.3 394.1,277.2 395.6,277.0 397.1,276.9 398.6,276.8 400.1,276.6 401.6,276.5 403.1,276.4 404.6,276.2 406.1,276.1 407.6,275.9 409.1,275.8 410.6,275.6 412.1,275.5 413.6,275.3 415.1,275.2 416.5,275.0 418.0,274.9 419.5,274.7 421.0,274.6 422.5,274.4 424.0,274.3 425.5,274.1 427.0,273.9 429.0,273.7 430.5,273.5 432.0,273.3 433.4,273.1 434.9,272.9 436.4,272.7 437.9,272.5 439.4,272.3 440.9,272.1 442.4,271.9 443.8,271.7 445.3,271.6 446.8,271.4 448.3,271.2 449.8,271.0 451.3,270.9 452.8,270.7 454.3,270.6 455.8,270.4 457.3,270.3 458.8,270.1 460.3,270.0 461.7,269.9 463.2,269.7 464.7,269.6 466.2,269.4 467.7,269.3 469.2,269.1 470.7,269.0 472.2,268.9 473.7,268.7 475.2,268.6 476.7,268.5 478.2,268.4 479.7,268.3 481.2,268.2 482.7,268.2 484.2,268.1 485.7,268.1 487.2,268.0 488.7,268.0 490.2,268.0 491.7,268.0 493.2,268.1 494.7,268.1 496.2,268.2 497.7,268.3 499.2,268.4 500.7,268.5 502.2,268.6 503.7,268.7 505.1,268.8 506.6,268.9 508.1,269.0 509.6,269.2 511.1,269.3 512.6,269.4 514.1,269.6 515.6,269.8 517.1,269.9 518.6,270.1 520.1,270.3 521.6,270.5 523.0,270.7 524.5,271.0 526.0,271.2 527.5,271.4 529.0,271.7 530.4,271.9 531.9,272.1 533.4,272.4 534.9,272.6 536.4,272.9 537.9,273.1 539.3,273.3 540.8,273.5 542.3,273.8 543.8,274.0 545.3,274.2 546.8,274.4 548.2,274.6 549.7,274.9 551.2,275.1 552.7,275.3 554.2,275.6 555.6,275.8 557.1,276.1 558.6,276.3 560.1,276.5 561.6,276.8 563.0,277.0 564.5,277.2 566.0,277.4 567.5,277.6 569.0,277.8 570.5,278.0 572.0,278.2 573.5,278.3 575.0,278.5 576.5,278.6 578.0,278.7 579.4,278.8 580.9,278.8 582.4,278.9 583.9,279.0 585.4,279.0 586.9,279.1 588.4,279.2 589.9,279.2 591.4,279.3 592.9,279.4 594.4,279.4 595.9,279.5 597.4,279.5 598.9,279.6 600.4,279.6 601.9,279.7 603.4,279.7 604.9,279.8 606.4,279.8 607.9,279.8 609.4,279.9 610.9,279.9 612.4,279.9 613.9,280.0 615.4,280.0 616.9,280.0 618.4,280.0 619.8,280.0 621.0,280.0" fill="none" stroke="#0000ff" stroke-width="4.6" stroke-linejoin="round" stroke-linecap="butt" />
<path d="M100.5,100.0 100.6,101.5 100.7,103.0 100.8,104.5 100.8,106.0 100.9,107.5 101.0,109.0 101.1,110.5 101.2,112.0 101.4,113.5 101.5,115.0 101.7,116.5 101.9,117.9 102.2,119.4 102.5,120.9 102.8,122.3 103.2,123.8 103.6,125.2 103.9,126.7 104.2,128.2 104.4,129.7 104.7,131.1 104.9,132.6 105.1,134.1 105.3,135.6 105.5,137.1 105.6,138.6 105.8,140.1 106.0,141.6 106.2,143.1 106.3,144.5 106.5,146.0 106.7,147.5 106.8,149.0 107.0,150.5 107.2,152.0 107.4,153.5 107.5,155.0 107.7,156.5 107.9,158.0 108.1,159.4 108.2,160.9 108.4,162.4 108.6,163.9 108.7,165.4 108.9,166.9 109.1,168.4 109.3,169.9 109.4,171.4 109.6,172.9 109.8,174.3 110.0,175.8 110.2,177.3 110.3,178.8 110.5,180.3 110.7,181.8 110.9,183.3 111.1,184.8 111.3,186.2 111.5,187.7 111.8,189.2 112.0,190.7 112.2,192.2 112.4,193.7 112.6,195.1 112.9,196.6 113.2,198.1 113.4,199.6 113.7,201.0 114.0,202.5 114.4,204.0 114.7,205.4 115.1,206.9 115.5,208.3 115.8,209.8 116.2,211.2 116.6,212.7 117.0,214.1 117.4,215.6 117.8,217.0 118.2,218.5 118.6,219.9 119.2,221.3 119.9,222.6 120.7,223.9 121.6,225.0 122.8,226.0 124.0,226.8 125.3,227.6 126.5,228.4 127.7,229.3 128.8,230.3 129.8,231.5 130.6,232.7 131.2,234.1 131.8,235.5 132.3,236.9 132.7,238.3 133.0,239.8 133.3,241.3 133.6,242.7 133.9,244.2 134.2,245.7 134.5,247.2 134.7,248.6 135.0,250.1 135.3,251.6 135.6,253.1 135.9,254.5 136.1,256.0 136.4,257.5 136.7,259.0 137.0,260.4 137.2,261.9 137.5,263.4 137.7,264.9 138.0,266.3 138.2,267.8 138.5,269.3 138.7,270.8 139.0,272.3 139.2,273.7 139.5,275.2 139.7,276.7 140.0,278.2 140.2,279.7 140.5,281.1 140.7,282.6 140.9,284.1 141.1,285.6 141.3,287.1 141.6,288.6 141.8,290.0 142.0,291.5 142.2,293.0 142.4,294.5 142.6,296.0 142.9,298.0 143.1,299.4 143.3,300.9 143.6,302.4 143.8,303.9 144.1,305.4 144.3,306.8 144.6,308.3 144.8,309.8 145.1,311.3 145.4,312.8 145.6,314.2 145.9,315.7 146.2,317.2 146.5,318.6 146.8,320.1 147.1,321.6 147.4,323.0 147.8,324.5 148.2,326.0 148.6,327.4 149.1,328.8 149.7,330.2 150.3,331.6 150.9,332.9 151.6,334.2 152.4,335.5 153.2,336.8 154.1,338.0 155.1,339.1 156.2,340.1 157.3,341.1 158.5,342.0 159.7,342.9 161.1,343.6 162.5,344.1 163.9,344.6 165.3,345.0 166.8,345.3 168.3,345.5 169.7,345.5 171.2,345.3 172.7,344.9 174.1,344.3 175.4,343.7 176.8,343.1 178.1,342.3 179.3,341.4 180.4,340.5 181.4,339.4 182.4,338.3 183.4,337.1 184.3,335.9 185.2,334.7 186.0,333.5 186.9,332.2 187.7,331.0 188.4,329.7 189.2,328.3 189.8,327.0 190.4,325.6 191.0,324.3 191.6,322.9 192.2,321.5 192.7,320.1 193.3,318.7 193.8,317.3 194.3,315.9 194.8,314.5 195.3,313.1 195.8,311.6 196.3,310.2 196.7,308.8 197.1,307.3 197.6,305.9 198.0,304.5 198.4,303.0 198.8,301.6 199.2,300.1 199.6,298.7 200.1,297.3 200.5,295.8 201.0,294.4 201.4,293.0 201.9,291.5 202.3,290.1 202.8,288.7 203.2,287.2 203.7,285.8 204.1,284.4 204.6,283.0 205.1,281.5 205.5,280.1 206.0,278.7 206.5,277.3 207.0,275.9 207.6,274.5 208.2,273.1 208.9,271.8 209.6,270.4 210.3,269.1 211.1,267.8 211.8,266.6 212.7,265.3 213.6,264.1 214.7,263.1 215.9,262.6 217.2,262.9 218.4,263.7 219.3,264.9 220.2,266.1 221.0,267.4 221.7,268.7 222.5,270.0 223.2,271.3 223.9,272.6 224.6,274.0 225.2,275.3 225.7,276.7 226.3,278.1 226.8,279.5 227.3,280.9 227.8,282.4 228.3,283.8 228.8,285.2 229.2,286.6 229.7,288.0 230.2,289.5 230.7,290.9 231.2,292.3 231.7,293.7 232.2,295.1 232.8,296.5 233.3,297.9 233.9,299.3 234.5,300.6 235.2,302.0 235.9,303.3 236.6,304.7 237.3,306.0 238.0,307.3 238.7,308.6 239.5,309.9 240.2,311.2 241.0,312.5 241.8,313.8 242.6,315.0 243.4,316.3 244.2,317.6 245.0,318.8 245.9,320.1 246.7,321.3 247.6,322.5 248.4,323.8 249.3,325.0 250.2,326.2 251.1,327.4 251.9,328.6 252.8,329.8 253.7,331.1 254.6,332.3 255.4,333.5 256.3,334.7 257.2,335.9 258.1,337.2 259.0,338.4 259.9,339.5 260.8,340.7 261.8,341.9 262.7,343.0 263.7,344.1 264.8,345.2 265.9,346.2 267.1,347.1 268.3,348.0 269.6,348.8 270.9,349.5 272.2,350.3 273.5,351.0 274.9,351.6 276.2,352.3 277.6,352.8 279.0,353.4 280.4,353.8 281.9,354.3 283.3,354.6 284.8,354.8 286.3,355.0 287.8,355.2 289.3,355.3 290.8,355.4 292.3,355.5 293.8,355.6 295.3,355.7 296.8,355.7 298.3,355.8 299.8,355.9 301.3,356.0 302.8,356.0 304.3,356.1 305.8,356.2 307.2,356.3 308.7,356.4 310.2,356.4 311.7,356.5 313.2,356.6 314.7,356.6 316.2,356.7 317.7,356.7 319.2,356.7 320.7,356.7 322.2,356.7 323.7,356.7 325.2,356.7 326.7,356.7 328.2,356.7 329.7,356.7 331.2,356.7 332.7,356.7 334.2,356.7 335.7,356.7 337.2,356.7 338.7,356.7 340.2,356.7 341.7,356.7 343.2,356.7 344.7,356.7 346.2,356.7 347.7,356.7 349.2,356.7 350.7,356.7 352.2,356.7 353.7,356.7 355.2,356.7 356.7,356.7 358.2,356.7 359.7,356.7 361.2,356.7 362.7,356.7 364.2,356.7 365.7,356.7 367.2,356.7 368.7,356.7 370.2,356.7 371.7,356.7 373.2,356.7 374.7,356.7 376.2,356.7 377.7,356.7 379.2,356.7 380.7,356.7 382.2,356.7 383.7,356.7 385.2,356.7 386.7,356.7 388.2,356.7 389.7,356.7 391.2,356.7 392.7,356.7 394.2,356.7 395.7,356.7 397.2,356.7 398.7,356.7 400.2,356.7 401.7,356.7 403.2,356.7 404.7,356.7 406.2,356.7 407.7,356.7 409.2,356.7 410.7,356.7 412.2,356.7 413.7,356.7 415.2,356.7 417.2,356.7 418.7,356.7 420.2,356.7 421.7,356.7 423.2,356.7 424.7,356.7 426.2,356.7 427.7,356.7 429.2,356.7 430.7,356.7 432.2,356.7 433.7,356.7 435.2,356.7 436.7,356.7 438.2,356.7 439.7,356.7 441.2,356.7 442.7,356.7 444.2,356.7 445.7,356.7 447.2,356.7 448.7,356.7 450.2,356.7 451.7,356.7 453.2,356.7 454.7,356.7 456.2,356.7 457.7,356.7 459.2,356.7 460.7,356.7 462.2,356.7 463.7,356.7 465.2,356.7 466.7,356.7 468.2,356.7 469.7,356.7 471.2,356.7 472.7,356.7 474.2,356.7 475.7,356.7 477.2,356.7 478.7,356.7 480.2,356.7 481.7,356.7 483.2,356.7 484.7,356.7 486.2,356.7 487.7,356.7 489.2,356.7 490.7,356.7 492.2,356.7 493.7,356.7 495.2,356.7 496.7,356.7 498.2,356.7 499.7,356.7 501.2,356.7 502.7,356.7 504.2,356.7 505.7,356.7 507.2,356.7 508.7,356.7 510.2,356.7 511.7,356.7 513.2,356.7 514.7,356.7 516.2,356.7 517.7,356.7 519.2,356.7 520.7,356.7 522.2,356.7 523.7,356.7 525.2,356.7 526.7,356.7 528.2,356.7 529.7,356.7 531.2,356.7 532.7,356.7 534.2,356.7 535.7,356.7 537.2,356.7 538.7,356.7 540.2,356.7 541.7,356.7 543.2,356.7 544.7,356.7 546.2,356.7 547.7,356.7 549.2,356.7 550.7,356.7 552.2,356.7 553.7,356.7 555.2,356.7 556.7,356.7 558.2,356.7 559.7,356.7 561.2,356.7 562.7,356.7 564.2,356.7 565.7,356.7 567.2,356.7 568.7,356.7 570.2,356.7 571.7,356.7 573.2,356.7 574.7,356.7 576.2,356.7 577.7,356.7 579.2,356.7 580.7,356.7 582.2,356.7 583.7,356.7 585.2,356.7 586.7,356.7 588.2,356.7 589.7,356.7 591.2,356.7 592.7,356.7 594.2,356.7 595.7,356.7 597.2,356.7 598.7,356.7 600.2,356.7 601.7,356.7 603.2,356.7 604.7,356.7 606.2,356.7 607.7,356.7 609.2,356.7 610.7,356.7 612.2,356.7 613.7,356.7 615.2,356.7 616.7,356.7 618.2,356.7 619.7,356.7 621.0,356.7" fill="none" stroke="#000" stroke-width="4.6" stroke-linejoin="round" stroke-linecap="butt" />
<rect x="720" y="9.4" width="491.6" height="399.1" fill="none" stroke="#111" stroke-width="1.3"/>
<line x1="730.59" y1="408.5" x2="730.59" y2="412.5" stroke="#111" stroke-width="1.3"/>
<line x1="784" y1="408.5" x2="784" y2="417" stroke="#111" stroke-width="1.3"/>
<line x1="837.41" y1="408.5" x2="837.41" y2="412.5" stroke="#111" stroke-width="1.3"/>
<line x1="890.83" y1="408.5" x2="890.83" y2="417" stroke="#111" stroke-width="1.3"/>
<line x1="944.24" y1="408.5" x2="944.24" y2="412.5" stroke="#111" stroke-width="1.3"/>
<line x1="997.65" y1="408.5" x2="997.65" y2="417" stroke="#111" stroke-width="1.3"/>
<line x1="1051.06" y1="408.5" x2="1051.06" y2="412.5" stroke="#111" stroke-width="1.3"/>
<line x1="1104.47" y1="408.5" x2="1104.47" y2="417" stroke="#111" stroke-width="1.3"/>
<line x1="1157.89" y1="408.5" x2="1157.89" y2="412.5" stroke="#111" stroke-width="1.3"/>
<line x1="1211.3" y1="408.5" x2="1211.3" y2="417" stroke="#111" stroke-width="1.3"/>
<line x1="716" y1="34.88" x2="720" y2="34.88" stroke="#111" stroke-width="1.3"/>
<line x1="712.5" y1="76.4" x2="720" y2="76.4" stroke="#111" stroke-width="1.3"/>
<line x1="716" y1="117.93" x2="720" y2="117.93" stroke="#111" stroke-width="1.3"/>
<line x1="712.5" y1="159.45" x2="720" y2="159.45" stroke="#111" stroke-width="1.3"/>
<line x1="716" y1="200.97" x2="720" y2="200.97" stroke="#111" stroke-width="1.3"/>
<line x1="712.5" y1="242.5" x2="720" y2="242.5" stroke="#111" stroke-width="1.3"/>
<line x1="716" y1="284.02" x2="720" y2="284.02" stroke="#111" stroke-width="1.3"/>
<line x1="712.5" y1="325.55" x2="720" y2="325.55" stroke="#111" stroke-width="1.3"/>
<line x1="716" y1="367.08" x2="720" y2="367.08" stroke="#111" stroke-width="1.3"/>
<line x1="712.5" y1="408.6" x2="720" y2="408.6" stroke="#111" stroke-width="1.3"/>
<text x="657.59" y="68.03" font-size="58.19" textLength="35.37" lengthAdjust="spacingAndGlyphs" font-family="DejaVu Sans, sans-serif" fill="#000">b</text>
<text x="1149.65" y="74.5" font-size="27.68" textLength="29.12" lengthAdjust="spacingAndGlyphs" fill="#000">Z9</text>
<text x="1157.16" y="199.1" font-size="26.81" textLength="28.72" lengthAdjust="spacingAndGlyphs" fill="#000">Z7</text>
<text x="1154.47" y="242.2" font-size="26.81" textLength="28.46" lengthAdjust="spacingAndGlyphs" fill="#000">Z5</text>
<text x="1154.47" y="290.8" font-size="26.81" textLength="28.46" lengthAdjust="spacingAndGlyphs" fill="#000">Z3</text>
<text x="1159.96" y="348.3" font-size="26.81" textLength="24.95" lengthAdjust="spacingAndGlyphs" fill="#000">Z1</text>
<text x="1159.91" y="393.8" font-size="27.1" textLength="26.95" lengthAdjust="spacingAndGlyphs" fill="#000">Z0</text>
<text transform="translate(699,324.5) rotate(-90)" font-size="32.61" textLength="188.36" lengthAdjust="spacingAndGlyphs" fill="#000">Intensity (a.u)</text>
<text x="766.12" y="439.5" font-size="23.43" textLength="35.55" lengthAdjust="spacingAndGlyphs" fill="#000">400</text>
<text x="872.95" y="439.5" font-size="23.43" textLength="35.55" lengthAdjust="spacingAndGlyphs" fill="#000">450</text>
<text x="979.34" y="439.5" font-size="23.43" textLength="35.99" lengthAdjust="spacingAndGlyphs" fill="#000">500</text>
<text x="1086.16" y="439.5" font-size="23.43" textLength="35.99" lengthAdjust="spacingAndGlyphs" fill="#000">550</text>
<text x="1192.76" y="439.5" font-size="23.43" textLength="36.22" lengthAdjust="spacingAndGlyphs" fill="#000">600</text>
<text x="859.36" y="473.7" font-size="30.87" textLength="213.28" lengthAdjust="spacingAndGlyphs" fill="#000">Wavelength (nm)</text>
<path d="M720.6,89.0 722.1,89.3 723.6,89.8 725.1,88.9 726.6,88.8 728.1,89.9 729.6,89.9 731.1,90.1 732.6,89.2 734.1,89.6 735.6,89.4 737.1,89.2 738.6,89.4 740.1,89.1 741.6,89.6 743.1,89.0 744.6,88.4 746.1,88.8 747.5,88.7 749.0,87.2 750.5,88.0 752.0,87.6 753.5,87.3 754.9,86.5 756.4,86.1 757.9,86.9 759.3,86.6 760.7,86.2 762.2,84.7 763.5,84.1 764.9,83.8 766.3,83.6 767.6,83.1 769.0,82.2 770.3,81.4 771.6,80.5 772.9,79.5 774.2,79.3 775.4,77.5 776.6,78.1 777.9,76.2 779.1,74.7 780.3,74.8 781.5,73.9 782.7,73.3 783.9,72.4 785.1,71.0 786.3,70.7 787.6,69.1 788.8,68.7 790.1,67.1 791.4,66.6 792.6,66.1 793.9,64.9 795.2,65.1 796.4,65.0 797.7,62.8 799.0,61.9 800.2,60.5 801.4,60.5 802.6,59.4 803.8,58.6 805.0,57.1 806.1,56.4 807.2,55.5 808.3,55.3 809.4,53.1 810.4,52.8 811.5,51.7 812.6,50.3 813.7,49.0 814.8,48.8 815.9,47.3 817.1,47.1 818.3,46.4 819.5,44.1 820.7,44.0 822.0,42.8 823.2,41.6 824.5,41.0 825.8,41.0 827.1,40.7 828.4,39.4 829.7,39.1 831.1,38.1 832.4,37.8 833.8,36.2 835.6,35.2 837.0,35.4 838.4,34.0 839.8,33.4 841.2,33.4 842.6,33.4 844.0,32.4 845.5,32.2 846.9,31.4 848.3,32.2 849.8,30.8 851.3,30.6 852.7,30.3 854.2,30.8 855.7,30.4 857.2,29.9 858.7,29.1 860.1,29.6 861.6,30.0 863.1,29.1 864.6,28.1 866.1,29.0 867.6,28.7 869.1,28.7 870.6,29.0 872.1,28.3 873.6,29.3 875.1,29.3 876.5,30.0 878.0,29.1 879.5,29.8 880.9,30.7 882.4,30.8 883.9,30.7 885.3,31.5 886.8,31.8 888.2,31.9 889.7,32.5 891.1,33.7 892.6,33.4 894.0,33.7 895.5,34.5 896.9,33.8 898.4,34.6 899.8,35.4 901.2,35.8 902.7,35.9 904.1,36.6 905.5,36.7 906.9,37.2 908.3,38.5 909.6,38.9 911.0,38.9 912.4,40.1 913.7,40.7 915.1,41.5 916.4,41.7 917.8,42.2 919.2,42.7 920.5,44.2 921.9,45.4 923.3,44.7 924.7,46.0 926.1,46.0 927.6,46.3 929.0,47.3 930.4,47.5 931.8,48.9 933.2,48.2 934.6,49.4 936.1,49.5 937.5,49.3 938.8,50.6 940.2,50.9 941.6,51.3 943.0,51.3 944.3,53.4 945.7,54.0 947.1,54.1 948.4,55.1 949.8,55.8 951.2,55.8 952.5,57.8 953.9,56.5 955.3,57.3 956.7,58.4 958.1,58.8 959.5,59.2 960.9,59.6 962.3,61.2 963.7,60.4 965.0,61.4 966.4,62.1 967.8,63.0 969.2,64.1 970.5,64.0 971.9,64.4 973.3,65.3 974.6,65.9 976.0,66.5 977.3,68.0 978.7,67.8 980.1,68.4 981.5,68.7 983.0,69.1 984.4,70.4 985.9,69.6 987.3,69.9 988.8,71.1 990.2,71.9 991.7,71.4 993.2,72.7 994.6,72.4 996.1,72.1 997.6,72.9 999.0,73.4 1000.5,73.5 1002.0,73.4 1003.5,73.3 1004.9,74.6 1006.4,74.2 1007.9,74.9 1009.3,75.2 1010.8,74.4 1012.3,75.4 1013.7,76.7 1015.2,76.1 1016.7,76.7 1018.1,77.0 1019.6,76.8 1021.1,77.2 1022.5,77.5 1024.0,78.5 1025.5,78.0 1027.0,78.5 1028.4,79.7 1029.9,79.1 1031.4,78.8 1032.9,80.1 1034.3,80.6 1035.8,80.5 1037.3,80.6 1038.8,81.2 1040.3,80.1 1041.7,80.9 1043.2,81.1 1044.7,82.0 1046.2,81.8 1047.7,81.7 1049.2,82.3 1050.7,83.4 1052.1,82.9 1053.6,83.6 1055.1,83.4 1056.6,83.1 1058.1,83.5 1059.6,83.9 1061.1,83.4 1062.6,84.3 1064.1,83.3 1065.6,84.4 1067.0,83.9 1068.5,84.6 1070.0,85.7 1071.5,85.0 1073.0,85.1 1074.5,84.9 1076.0,85.6 1077.5,85.1 1079.0,85.2 1080.5,85.1 1082.5,86.3 1084.0,85.7 1085.5,86.0 1087.0,86.9 1088.5,86.5 1090.0,86.3 1091.5,86.2 1093.0,86.7 1094.4,86.9 1095.9,86.3 1097.4,86.5 1098.9,87.0 1100.4,87.3 1101.9,87.5 1103.4,87.2 1104.9,87.9 1106.4,87.8 1107.9,87.5 1109.4,87.7 1110.9,87.9 1112.4,87.3 1113.9,88.2 1115.4,88.6 1116.9,88.4 1118.4,87.8 1119.9,88.3 1121.4,89.4 1122.9,89.7 1124.4,88.4 1125.9,89.2 1127.4,88.9 1128.9,89.3 1130.4,89.0 1131.9,89.3 1133.4,88.7 1134.9,88.5 1136.4,89.4 1137.9,89.5 1139.4,89.6 1140.9,89.2 1142.4,89.1 1143.9,89.9 1145.4,88.9 1146.9,90.2 1148.4,89.6 1149.9,89.4 1151.4,89.2 1152.8,90.1 1154.3,89.3 1155.8,90.2 1157.3,90.3 1158.8,89.6 1160.3,89.7 1161.8,90.1 1163.3,90.5 1164.8,89.6 1166.3,89.2 1167.8,89.7 1169.3,90.3 1170.8,90.1 1172.3,90.5 1173.8,90.5 1175.3,90.6 1176.8,90.2 1178.3,90.2 1179.8,90.0 1181.3,90.5 1182.8,89.8 1184.3,89.8 1185.8,90.2 1187.3,91.1 1188.8,90.4 1190.3,90.0 1191.8,90.6 1193.3,90.8 1194.8,90.7 1196.3,90.4 1197.8,90.8 1199.3,91.2 1200.8,90.6 1202.3,91.2 1203.8,90.7 1205.3,90.5 1206.8,90.5 1208.3,90.5 1209.8,89.8 1211.3,90.9" fill="none" stroke="#000080" stroke-width="4.1" stroke-linejoin="round" stroke-linecap="butt" />
<path d="M720.6,215.7 722.1,215.5 723.6,216.4 725.1,215.3 726.6,214.9 728.1,215.9 729.6,215.9 731.1,215.0 732.6,215.0 734.1,216.3 735.5,214.4 737.0,214.4 738.5,215.0 740.0,214.5 741.5,214.7 743.0,214.1 744.4,213.2 745.9,213.2 747.4,212.6 748.8,212.8 750.3,212.3 751.7,211.1 753.1,211.4 754.5,210.3 755.9,210.1 757.2,209.3 758.6,208.9 759.9,206.9 761.2,207.5 762.4,205.9 763.7,206.2 764.8,204.2 766.0,203.5 767.1,202.4 768.2,201.8 769.2,201.1 770.3,199.7 771.2,198.4 772.2,197.4 773.1,196.1 774.0,195.0 774.9,193.4 775.7,192.4 776.6,191.9 777.4,190.5 778.2,188.0 779.1,187.4 779.9,186.3 780.8,184.8 781.7,183.5 782.6,182.6 783.5,181.9 784.4,180.7 785.3,179.0 786.2,178.2 787.0,176.6 787.9,175.5 788.7,174.0 789.5,172.2 790.3,171.3 791.1,170.5 791.8,169.5 792.5,167.8 793.2,167.2 793.8,165.4 794.4,163.6 795.1,162.0 795.7,161.9 796.3,159.4 797.0,157.7 797.6,157.0 798.3,155.2 799.0,154.4 799.6,152.1 800.3,151.9 801.0,150.6 801.7,148.6 802.4,147.0 803.1,146.2 803.8,145.4 804.6,143.2 805.3,142.1 806.0,141.4 806.8,139.9 807.6,138.3 808.3,137.2 809.1,135.8 809.9,134.3 810.7,133.2 811.6,130.8 812.4,130.8 813.3,129.9 814.2,128.6 815.0,126.9 815.9,126.6 816.8,125.3 817.7,123.1 818.6,122.2 819.4,120.8 820.3,119.4 821.4,118.6 822.3,117.4 823.1,115.4 824.0,114.4 824.9,113.4 825.7,111.9 826.6,111.2 827.5,109.8 828.4,108.6 829.4,106.6 830.3,106.6 831.3,103.9 832.3,103.7 833.2,103.1 834.2,101.6 835.2,100.1 836.3,99.1 837.3,97.6 838.3,97.7 839.3,96.2 840.4,94.5 841.4,94.7 842.4,92.5 843.5,91.8 844.5,89.8 845.5,89.5 846.6,88.8 847.7,87.5 848.9,86.2 850.1,86.1 851.3,84.4 852.6,84.8 854.0,83.5 855.4,83.0 856.8,82.8 858.2,82.4 859.7,82.8 861.2,81.7 862.6,80.6 864.1,81.3 865.6,80.6 867.1,80.7 868.6,80.7 870.1,80.9 871.6,81.5 873.1,81.0 874.6,80.9 876.0,80.9 877.5,81.2 878.9,81.7 880.3,82.5 881.7,83.1 883.0,84.0 884.3,83.4 885.6,85.5 886.9,86.2 888.1,85.7 889.4,88.0 890.7,88.3 891.9,88.5 893.2,90.1 894.4,90.3 895.6,91.6 896.8,92.9 898.0,94.0 899.2,94.9 900.4,95.3 901.6,95.3 902.7,96.9 903.9,98.3 905.1,99.4 906.3,100.1 907.5,100.5 908.6,101.7 909.8,102.3 911.0,103.7 912.1,103.9 913.3,105.6 914.5,106.9 915.6,107.0 916.8,109.0 918.0,108.3 919.1,110.6 920.3,110.7 921.5,112.1 922.7,113.3 923.9,114.3 925.0,114.2 926.2,116.0 927.4,116.0 928.6,117.7 929.8,118.5 931.0,119.7 932.2,120.0 933.3,121.2 934.5,121.8 935.6,123.4 936.7,124.7 937.8,125.7 938.8,126.4 939.8,128.1 940.8,129.0 941.7,130.5 942.7,131.2 943.6,132.1 944.5,133.7 945.5,135.1 946.4,135.7 947.4,137.1 948.3,137.7 949.4,139.6 950.4,139.9 951.5,140.4 952.6,142.7 953.7,142.7 954.8,144.9 956.0,145.0 957.1,145.6 958.3,146.7 959.5,148.4 960.6,148.8 961.8,150.2 963.0,150.4 964.2,152.2 965.4,152.7 966.6,153.7 967.7,156.1 968.9,154.9 970.0,156.8 971.2,156.7 972.3,158.2 973.4,158.9 974.6,160.1 975.7,161.4 976.9,161.8 978.0,163.5 979.2,163.8 980.4,165.5 981.6,165.7 982.8,166.8 984.1,167.7 985.3,168.5 986.6,169.8 987.8,171.5 989.1,171.0 990.4,171.5 991.6,172.6 992.9,173.6 994.2,173.9 995.5,176.1 996.8,175.1 998.1,176.5 999.4,176.5 1000.7,178.2 1002.1,179.2 1003.4,179.0 1004.7,180.0 1006.1,180.3 1007.4,182.0 1008.7,182.2 1010.1,182.6 1011.4,183.1 1012.8,184.2 1014.2,184.3 1015.5,185.2 1016.9,185.0 1018.3,186.3 1019.6,187.2 1021.0,187.0 1022.4,188.5 1023.8,188.2 1025.2,188.8 1026.6,189.5 1028.0,190.6 1029.4,190.9 1030.8,192.1 1032.1,190.7 1033.5,192.4 1034.9,193.7 1036.3,193.3 1037.7,194.8 1039.1,194.6 1040.5,196.5 1041.9,194.8 1043.3,196.9 1044.7,197.6 1046.2,198.0 1047.6,197.2 1049.0,198.9 1050.4,197.9 1051.8,199.5 1053.2,200.5 1054.7,200.8 1056.1,201.0 1057.5,201.5 1059.0,201.9 1060.4,201.4 1061.9,201.6 1063.8,202.9 1065.3,203.2 1066.7,203.3 1068.2,203.8 1069.7,204.4 1071.1,204.4 1072.6,204.4 1074.1,205.2 1075.5,205.3 1077.0,205.5 1078.5,206.0 1080.0,205.8 1081.4,206.5 1082.9,206.8 1084.4,207.0 1085.9,207.1 1087.4,207.4 1088.9,207.8 1090.3,208.7 1091.8,208.6 1093.3,207.9 1094.8,208.5 1096.3,207.5 1097.8,208.6 1099.3,208.9 1100.7,209.4 1102.2,209.5 1103.7,210.1 1105.2,209.8 1106.7,210.1 1108.2,209.5 1109.7,210.1 1111.2,210.1 1112.7,211.0 1114.2,210.1 1115.6,210.2 1117.1,210.5 1118.6,211.1 1120.1,211.1 1121.6,211.8 1123.1,212.7 1124.6,211.7 1126.1,211.4 1127.6,212.1 1129.1,212.6 1130.6,213.2 1132.1,212.3 1133.6,213.6 1135.1,212.9 1136.5,212.8 1138.0,213.2 1139.5,213.2 1141.0,213.3 1142.5,212.7 1144.0,213.2 1145.5,212.8 1147.0,213.6 1148.5,213.5 1150.0,214.1 1151.5,213.8 1153.0,213.5 1154.5,213.8 1156.0,214.0 1157.5,214.0 1159.0,214.8 1160.5,213.9 1162.0,214.0 1163.5,214.5 1165.0,214.0 1166.5,214.7 1168.0,214.5 1169.5,214.7 1171.0,214.6 1172.5,214.9 1174.0,214.6 1175.5,215.0 1177.0,214.5 1178.5,214.4 1180.0,215.0 1181.5,215.4 1183.0,214.6 1184.5,214.6 1186.0,214.6 1187.5,215.0 1189.0,214.6 1190.5,215.0 1192.0,214.8 1193.5,215.5 1195.0,215.3 1196.5,214.9 1198.0,215.2 1199.5,215.5 1201.0,215.7 1202.5,215.8 1204.0,214.8 1205.5,215.3 1207.0,215.1 1208.4,215.9 1209.9,215.7 1211.3,214.8" fill="none" stroke="#007d00" stroke-width="4.1" stroke-linejoin="round" stroke-linecap="butt" />
<path d="M720.6,256.7 722.1,256.5 723.6,256.9 725.1,256.9 726.6,256.6 728.1,256.8 729.6,256.8 731.1,255.9 732.6,256.2 734.1,256.5 735.6,256.0 737.1,256.2 738.6,256.8 740.1,255.6 741.5,255.9 743.0,255.9 744.5,255.3 746.0,255.2 747.5,255.2 748.9,254.3 750.4,255.7 751.8,254.1 753.3,253.8 754.7,253.2 756.1,251.8 757.5,252.2 758.9,251.2 760.2,251.2 761.6,250.3 762.9,249.6 764.1,248.2 765.3,247.5 766.5,246.7 767.6,245.9 768.7,244.9 769.8,244.3 770.8,242.5 771.8,241.7 772.8,241.1 773.7,239.1 774.7,239.1 775.7,236.9 776.6,236.0 777.6,234.4 778.5,233.8 779.4,232.6 780.3,231.3 781.2,229.1 782.0,228.7 782.9,227.0 783.8,226.0 784.6,224.0 785.5,223.4 786.3,222.7 787.2,221.3 788.1,220.2 789.0,219.4 789.9,218.3 790.8,216.8 791.7,215.7 792.6,214.6 793.6,212.4 794.5,210.7 795.4,210.1 796.4,209.7 797.3,208.7 798.3,206.4 799.2,206.4 800.1,205.4 801.0,203.1 802.0,202.1 802.9,201.0 803.7,200.2 804.6,198.6 805.5,197.3 806.3,195.8 807.1,194.1 807.9,193.9 808.7,192.2 809.5,190.8 810.3,189.5 811.1,188.1 811.9,187.4 812.8,185.9 813.6,184.4 814.4,184.0 815.3,182.8 816.1,181.5 817.0,179.6 818.0,178.8 818.9,178.3 819.9,176.6 821.0,175.6 822.0,174.8 823.1,173.9 824.2,171.9 825.4,171.6 826.5,170.2 827.6,169.8 828.8,168.6 829.9,167.6 831.1,166.4 832.2,165.5 833.3,164.5 834.4,163.6 835.5,162.3 836.6,161.6 837.7,161.1 838.8,159.0 839.9,158.3 841.0,157.1 842.1,156.8 843.2,155.6 844.4,154.6 845.6,153.3 846.8,152.7 848.0,152.0 849.2,150.3 850.5,149.5 851.7,149.6 853.1,148.6 854.4,148.3 855.9,147.8 857.3,147.3 858.8,147.0 860.3,147.6 861.8,147.3 863.3,147.2 864.8,147.4 866.3,147.4 867.7,147.5 869.2,146.9 870.7,146.4 872.2,147.9 873.7,147.2 875.2,148.0 876.6,148.1 878.1,148.6 879.5,149.9 881.0,149.4 882.4,150.6 883.8,150.9 885.2,151.6 886.6,152.0 888.0,152.3 889.4,152.6 890.8,153.1 892.1,153.9 893.5,154.3 894.8,155.9 896.2,155.2 897.5,156.5 898.8,157.4 900.1,157.5 901.4,159.0 902.7,159.7 904.0,159.7 905.3,160.3 906.6,162.0 907.8,162.5 909.1,162.7 910.4,163.5 911.7,164.4 913.0,165.9 914.3,165.9 915.6,167.2 916.9,168.1 918.2,168.1 919.4,169.9 920.7,171.1 921.9,170.8 923.2,171.2 924.4,173.1 925.6,174.1 926.8,174.6 928.0,175.4 929.2,176.6 930.4,176.4 931.6,178.1 932.8,178.7 934.0,180.4 935.2,180.4 936.3,181.6 937.5,182.8 938.7,182.8 939.9,184.2 941.1,185.6 942.2,187.2 943.4,187.9 945.0,189.2 946.1,190.2 947.3,191.0 948.5,191.5 949.7,192.0 950.8,192.7 952.0,194.8 953.1,194.7 954.3,195.7 955.5,197.4 956.6,197.9 957.8,199.3 958.9,199.8 960.1,201.1 961.2,201.6 962.4,203.2 963.5,203.8 964.7,205.3 965.9,205.5 967.1,206.0 968.4,207.1 969.6,208.5 970.9,209.0 972.2,209.7 973.6,210.4 974.9,211.3 976.3,211.3 977.6,212.5 978.9,213.7 980.3,212.8 981.6,214.2 982.9,214.6 984.2,215.9 985.6,216.7 986.9,217.2 988.2,218.0 989.5,218.2 990.8,219.5 992.1,221.0 993.4,221.3 994.7,222.3 996.0,222.3 997.3,223.6 998.6,223.3 999.9,224.6 1001.2,225.5 1002.6,225.4 1003.9,227.1 1005.2,227.0 1006.6,229.1 1007.9,229.0 1009.3,229.3 1010.7,229.9 1012.0,230.7 1013.4,230.9 1014.8,232.4 1016.1,232.2 1017.5,232.4 1018.9,233.3 1020.3,234.4 1021.6,234.4 1023.0,234.8 1024.4,235.8 1025.8,236.5 1027.2,236.8 1028.7,237.5 1030.1,238.3 1031.5,238.8 1032.9,239.4 1034.4,239.1 1035.8,240.2 1037.2,240.2 1038.7,239.8 1040.1,240.9 1041.6,242.1 1043.1,241.8 1044.5,241.4 1046.0,241.5 1047.4,242.5 1048.9,243.8 1050.4,243.3 1051.8,244.4 1053.3,243.7 1054.8,243.8 1056.3,243.9 1057.7,243.8 1059.2,245.0 1060.7,244.9 1062.1,245.9 1063.6,246.2 1065.1,245.7 1066.6,246.0 1068.0,246.3 1069.5,247.0 1071.0,247.4 1072.5,246.8 1073.9,247.9 1075.4,247.3 1076.9,248.2 1078.4,248.6 1079.8,249.2 1081.3,248.8 1082.8,249.5 1084.3,249.3 1085.8,249.6 1087.2,248.9 1088.7,249.6 1090.2,250.8 1091.7,250.6 1093.2,251.1 1094.7,251.0 1096.2,251.3 1097.7,250.4 1099.2,251.7 1100.6,251.5 1102.1,251.1 1103.6,251.8 1105.1,252.7 1106.6,252.3 1108.1,252.1 1109.6,253.1 1111.1,251.6 1112.6,252.8 1114.1,252.5 1115.6,253.4 1117.1,253.2 1118.6,252.9 1120.1,253.8 1121.6,253.2 1123.1,253.6 1124.6,253.8 1126.1,252.6 1127.6,254.6 1129.0,254.5 1130.5,253.6 1132.0,253.6 1133.5,254.2 1135.0,254.7 1136.5,254.4 1138.0,254.0 1139.5,254.9 1141.0,254.2 1142.5,255.1 1144.0,254.3 1145.5,255.1 1147.0,254.6 1148.5,254.7 1150.0,254.8 1151.5,255.4 1153.0,255.2 1154.5,255.1 1156.0,254.7 1157.5,255.9 1159.0,255.5 1160.5,255.0 1162.0,255.2 1163.5,255.1 1165.0,255.4 1166.5,256.2 1168.0,256.1 1169.5,255.5 1171.0,255.2 1172.5,256.5 1174.0,254.9 1175.5,255.5 1177.0,256.1 1178.5,255.7 1180.0,255.9 1181.5,256.3 1183.0,256.2 1184.5,256.4 1186.0,255.7 1187.5,256.3 1189.0,256.8 1190.5,256.3 1192.0,256.4 1193.5,256.7 1195.0,256.9 1196.5,256.5 1198.0,256.8 1199.5,257.3 1201.0,256.5 1202.5,257.5 1204.0,256.9 1205.5,257.7 1207.0,256.5 1208.4,257.7 1209.9,256.8 1211.3,257.5" fill="none" stroke="#ff00ff" stroke-width="4.1" stroke-linejoin="round" stroke-linecap="butt" />
<path d="M720.6,303.9 722.1,304.6 723.6,302.8 725.1,303.5 726.6,304.1 728.1,304.0 729.6,304.2 731.1,303.6 732.6,304.1 734.1,304.6 735.6,303.9 737.1,304.0 738.6,303.1 740.1,302.4 741.6,303.1 743.1,303.0 744.6,303.4 746.0,302.5 747.5,302.4 749.0,302.1 750.5,302.5 751.9,301.5 753.3,300.9 754.8,300.6 756.2,300.2 757.5,299.9 758.9,298.6 760.2,299.0 761.6,298.0 762.8,297.0 764.1,296.3 765.3,295.0 766.5,293.6 767.7,293.1 768.9,292.0 770.1,291.9 771.3,290.1 772.5,289.8 773.7,289.0 774.9,287.1 776.1,286.8 777.3,286.1 778.5,285.7 779.7,283.9 780.9,283.6 782.0,282.5 783.2,280.9 784.3,280.8 785.4,279.7 786.5,278.1 787.6,277.5 788.6,276.4 789.7,274.8 790.7,273.4 791.6,273.0 792.6,271.9 793.5,270.9 794.5,269.8 795.4,268.9 796.4,267.4 797.3,265.9 798.2,264.5 799.1,264.3 800.1,262.0 801.0,261.0 802.0,260.3 803.0,258.5 803.9,259.1 804.9,257.2 805.9,255.4 806.9,254.0 807.9,253.0 808.8,252.1 809.8,250.5 810.8,250.2 811.8,249.3 812.8,247.0 813.9,246.4 814.9,245.8 815.9,243.6 817.0,243.6 818.0,242.0 819.1,239.8 820.2,239.9 821.3,238.4 822.4,238.3 823.5,237.0 824.6,235.4 825.7,234.8 826.8,234.7 828.0,232.8 829.5,231.7 830.7,231.5 831.9,230.4 833.1,229.0 834.3,228.2 835.5,227.2 836.8,226.1 838.0,226.5 839.3,225.3 840.6,223.6 841.9,223.2 843.2,222.0 844.5,221.5 845.9,222.3 847.2,221.0 848.6,220.7 850.0,218.9 851.4,219.0 852.8,217.3 854.2,217.6 855.6,217.5 857.0,216.2 858.4,216.7 859.9,215.6 861.3,215.1 862.7,215.6 864.2,214.9 865.7,215.1 867.2,214.3 868.7,214.1 870.2,214.1 871.6,214.5 873.1,215.3 874.6,215.2 876.1,215.8 877.6,215.0 879.0,216.4 880.5,217.0 881.9,216.9 883.4,217.3 884.8,217.3 886.2,217.5 887.7,218.5 889.1,218.0 890.5,219.7 891.9,220.3 893.2,220.9 894.6,221.7 895.9,221.7 897.2,222.3 898.5,222.9 899.8,224.9 901.1,225.4 902.4,225.7 903.7,226.6 905.0,227.2 906.3,228.5 907.6,228.8 908.9,229.2 910.2,230.0 911.5,230.5 912.8,232.2 914.2,232.8 915.5,233.1 916.8,233.9 918.1,235.0 919.4,236.3 920.7,235.9 922.0,237.2 923.4,237.3 924.7,238.2 926.0,239.3 927.3,238.9 928.7,239.8 930.0,240.9 931.3,242.1 932.6,241.9 933.9,243.5 935.2,243.8 936.5,244.7 937.7,244.9 939.0,246.6 940.2,247.1 941.4,248.2 942.6,249.0 943.8,249.1 945.0,250.4 946.2,251.3 947.4,252.6 948.5,254.1 949.7,254.6 950.9,255.2 952.2,256.5 953.4,257.7 954.6,257.1 955.9,258.4 957.1,259.5 958.4,260.7 959.7,260.9 961.0,261.4 962.2,262.4 963.5,263.3 964.8,264.3 966.2,265.2 967.5,266.2 968.8,266.2 970.1,267.4 971.5,267.7 972.8,268.0 974.1,268.1 975.5,269.2 976.9,270.4 978.2,271.1 979.6,270.9 981.0,273.2 982.4,272.2 983.8,272.8 985.1,274.3 986.5,274.4 988.0,275.3 989.4,275.9 990.8,275.2 992.2,276.5 993.6,277.1 995.1,277.3 996.5,277.7 997.9,278.7 999.3,279.1 1000.8,279.3 1002.2,279.9 1003.6,280.0 1005.1,280.7 1006.5,280.9 1007.9,281.5 1009.4,282.2 1010.8,283.2 1012.2,281.9 1013.7,283.8 1015.1,283.7 1016.5,284.4 1017.9,285.0 1019.4,284.8 1020.8,285.6 1022.2,285.8 1023.7,286.2 1025.1,286.9 1026.5,286.6 1028.0,287.1 1029.4,287.9 1030.9,287.5 1032.3,288.1 1033.8,289.6 1035.2,289.2 1036.7,289.2 1038.2,291.0 1039.6,291.0 1041.1,290.5 1042.6,291.0 1044.0,291.3 1045.5,291.6 1047.0,291.6 1048.4,291.2 1049.9,292.4 1051.4,293.1 1052.8,293.6 1054.3,293.9 1055.8,294.0 1057.3,294.0 1058.8,294.4 1060.2,295.0 1061.7,295.2 1063.2,294.8 1064.7,295.4 1066.1,295.6 1067.6,295.4 1069.1,295.7 1070.6,296.7 1072.1,296.7 1073.5,297.0 1075.0,296.4 1077.0,296.7 1078.5,298.5 1080.0,296.9 1081.5,297.9 1082.9,297.6 1084.4,298.3 1085.9,298.3 1087.4,298.4 1088.9,299.1 1090.4,298.8 1091.9,299.1 1093.4,300.1 1094.9,300.0 1096.3,300.2 1097.8,299.1 1099.3,300.6 1100.8,300.8 1102.3,300.6 1103.8,300.1 1105.3,299.3 1106.8,300.0 1108.3,300.9 1109.8,301.5 1111.3,301.1 1112.8,301.7 1114.3,301.4 1115.8,301.2 1117.3,302.3 1118.8,302.0 1120.2,302.9 1121.7,302.7 1123.2,302.0 1124.7,302.7 1126.2,302.2 1127.7,302.1 1129.2,303.3 1130.7,302.1 1132.2,303.0 1133.7,303.2 1135.2,302.5 1136.7,303.6 1138.2,302.5 1139.7,302.8 1141.2,303.5 1142.7,302.8 1144.2,302.8 1145.7,304.2 1147.2,303.2 1148.7,303.2 1150.2,302.4 1151.7,303.0 1153.2,302.7 1154.7,303.5 1156.2,303.2 1157.7,303.9 1159.2,303.7 1160.7,303.3 1162.2,305.0 1163.7,303.3 1165.2,303.0 1166.7,303.2 1168.2,303.0 1169.7,303.9 1171.2,305.0 1172.7,303.5 1174.2,303.1 1175.7,304.0 1177.2,303.0 1178.7,304.2 1180.2,303.4 1181.7,303.5 1183.2,303.4 1184.7,304.4 1186.2,304.9 1187.7,304.1 1189.2,303.8 1190.7,304.9 1192.2,304.1 1193.7,303.9 1195.2,304.5 1196.7,304.1 1198.2,304.1 1199.7,304.9 1201.2,304.3 1202.7,304.5 1204.2,305.2 1205.7,304.9 1207.1,304.7 1208.5,304.5 1209.9,304.7 1211.3,305.3" fill="none" stroke="#0000ff" stroke-width="4.1" stroke-linejoin="round" stroke-linecap="butt" />
<path d="M720.6,363.6 722.1,363.7 723.6,363.1 725.1,363.9 726.6,364.2 728.1,364.1 729.6,363.0 731.1,363.3 732.6,363.1 734.1,363.0 735.6,363.1 737.1,362.5 738.6,362.2 740.1,362.3 741.6,362.0 743.0,362.7 744.5,362.1 746.0,362.3 747.5,361.9 749.0,361.3 750.5,360.7 751.9,360.7 753.4,361.1 754.9,360.6 756.3,359.9 757.8,359.9 759.2,359.1 760.6,358.2 762.0,359.0 763.4,357.8 764.8,356.7 766.2,355.7 767.5,356.3 768.9,355.3 770.2,354.7 771.5,354.4 772.7,354.0 773.9,352.0 775.1,351.6 776.2,350.2 777.3,348.5 778.4,348.6 779.5,347.1 780.5,346.0 781.6,345.0 782.7,343.6 783.7,343.6 784.8,343.0 785.9,341.3 787.0,339.6 788.1,338.1 789.3,338.1 790.4,336.4 791.5,335.7 792.6,335.1 793.7,333.6 794.8,332.7 795.8,331.5 796.8,330.2 798.2,329.4 799.2,327.8 800.2,327.4 801.1,325.6 802.1,324.7 803.1,323.5 804.1,321.6 805.1,321.6 806.1,320.1 807.1,319.7 808.0,318.5 809.0,316.3 810.0,315.7 811.0,314.3 812.0,313.8 813.0,312.0 814.0,311.1 815.0,309.8 816.0,308.9 817.1,307.8 818.1,306.6 819.2,305.8 820.3,304.4 821.4,303.5 822.6,302.2 823.7,301.6 825.0,301.3 826.2,299.7 827.5,299.2 828.8,298.1 830.1,297.9 831.4,297.5 832.6,296.5 833.9,295.4 835.2,295.0 836.5,293.8 837.7,293.4 839.0,292.0 840.3,291.2 841.7,292.1 843.0,290.2 844.4,290.0 845.8,289.0 847.2,288.7 848.6,287.3 850.0,287.3 851.5,287.3 853.0,287.7 854.5,287.1 855.9,286.2 857.4,286.4 858.9,286.5 860.4,285.7 861.9,286.3 863.4,287.1 864.9,286.4 866.4,285.9 867.9,285.6 869.4,286.1 870.9,285.9 872.4,287.3 873.9,286.0 875.4,286.5 876.9,286.3 878.4,286.1 879.8,286.6 881.3,287.1 882.8,287.6 884.3,288.3 885.7,287.1 887.2,287.9 888.6,289.1 890.0,288.8 891.4,289.1 892.9,290.3 894.3,290.7 895.7,291.1 897.0,291.5 898.4,292.5 899.8,292.9 901.2,293.5 902.5,294.5 903.9,294.7 905.2,295.7 906.6,296.5 907.9,297.3 909.2,298.3 910.5,298.3 911.9,299.3 913.2,299.3 914.5,300.7 915.8,300.6 917.1,302.1 918.4,302.2 919.8,302.9 921.1,303.8 922.4,304.9 923.7,304.7 925.0,306.4 926.3,307.3 927.7,307.7 929.0,307.9 930.3,309.6 931.7,309.3 933.1,310.3 934.4,309.9 935.8,310.6 937.2,311.8 938.5,312.7 939.9,313.7 941.3,314.3 942.6,315.0 944.0,315.8 945.3,316.0 946.7,316.1 948.0,317.3 949.3,317.9 950.5,318.6 951.8,319.5 953.5,321.2 954.8,321.2 956.1,322.2 957.4,322.7 958.7,324.0 960.0,324.5 961.3,325.3 962.6,325.8 963.9,327.3 965.3,327.0 966.6,327.9 968.0,328.2 969.3,329.2 970.7,329.4 972.0,331.3 973.4,330.9 974.8,332.1 976.2,332.1 977.6,333.0 979.0,333.7 980.4,334.5 981.8,334.1 983.2,333.8 984.6,336.7 986.0,336.0 987.5,336.5 988.9,336.6 990.3,337.2 991.8,337.2 993.2,337.6 994.7,339.1 996.1,339.3 997.5,339.0 999.0,339.7 1000.4,339.9 1001.9,340.1 1003.3,341.5 1004.8,341.2 1006.2,342.5 1007.6,342.0 1009.1,342.6 1010.5,342.6 1011.9,343.0 1013.4,344.3 1014.8,343.7 1016.2,345.0 1017.7,345.8 1019.1,345.6 1020.5,346.5 1022.0,346.4 1023.4,347.0 1024.8,348.2 1026.3,347.7 1027.7,348.3 1029.1,349.0 1030.6,348.9 1032.0,350.1 1033.5,350.3 1034.9,351.2 1036.4,350.5 1037.9,351.2 1039.3,351.4 1040.8,352.2 1042.2,352.0 1043.7,352.1 1045.2,352.7 1046.6,352.3 1048.1,354.0 1049.6,354.1 1051.1,352.5 1052.5,353.9 1054.0,355.0 1055.5,355.4 1057.0,355.5 1058.4,355.5 1059.9,355.0 1061.4,355.4 1062.9,356.1 1064.4,356.7 1065.8,356.7 1067.3,356.5 1068.8,356.8 1070.3,357.1 1071.8,356.8 1073.3,356.8 1074.8,357.8 1076.3,357.9 1077.7,357.7 1079.2,357.9 1080.7,357.8 1082.2,359.2 1083.7,358.2 1085.2,359.1 1086.7,359.3 1088.2,359.1 1089.7,359.5 1091.2,359.5 1092.7,359.3 1094.2,359.7 1095.6,359.8 1097.1,360.5 1098.6,359.6 1100.1,360.3 1101.6,360.1 1103.1,360.6 1104.6,360.3 1106.1,360.5 1107.6,360.0 1109.1,360.8 1110.6,360.6 1112.1,361.3 1113.6,360.8 1115.1,360.8 1116.6,361.4 1118.1,362.3 1119.6,361.5 1121.1,361.2 1123.1,362.2 1124.6,361.9 1126.1,361.2 1127.6,361.8 1129.1,361.8 1130.6,361.7 1132.1,362.1 1133.6,362.1 1135.1,363.1 1136.6,362.1 1138.1,361.8 1139.6,362.6 1141.1,361.9 1142.6,362.3 1144.1,363.2 1145.6,363.2 1147.1,363.1 1148.6,363.3 1150.1,362.7 1151.6,363.2 1153.1,363.3 1154.6,362.9 1156.1,362.7 1157.6,363.7 1159.1,363.2 1160.5,363.9 1162.0,363.2 1163.5,363.6 1165.0,363.3 1166.5,363.2 1168.0,362.3 1169.5,363.3 1171.0,363.3 1172.5,363.3 1174.0,363.3 1175.5,364.2 1177.0,363.6 1178.5,363.4 1180.0,363.2 1181.5,363.6 1183.0,363.9 1184.5,364.3 1186.0,364.2 1187.5,363.8 1189.0,363.4 1190.5,363.5 1192.0,364.3 1193.5,363.8 1195.0,364.0 1196.5,363.9 1198.0,364.1 1199.5,363.8 1201.0,364.2 1202.5,364.0 1204.0,364.1 1205.5,364.0 1207.0,364.0 1208.4,364.9 1209.9,364.5 1211.3,363.5" fill="none" stroke="#ff0000" stroke-width="4.1" stroke-linejoin="round" stroke-linecap="butt" />
<path d="M720.6,405.7 722.1,406.1 723.6,406.3 725.0,404.8 726.5,405.0 728.0,404.7 729.5,404.9 731.0,404.6 732.4,403.7 733.9,404.2 735.4,404.1 736.9,404.3 738.4,403.2 739.8,403.5 741.3,402.6 742.8,401.8 744.2,402.3 745.7,401.2 747.2,401.7 748.6,401.4 750.1,401.3 751.6,400.1 753.0,400.3 754.5,399.7 755.9,399.9 757.4,399.8 758.8,398.5 760.3,397.5 761.7,397.3 763.1,397.1 764.5,396.0 765.9,397.0 767.2,396.5 768.6,394.6 770.0,394.6 771.3,393.7 772.7,393.5 774.0,393.0 775.4,391.5 776.7,391.6 778.0,389.8 779.4,389.6 780.7,389.8 782.0,387.9 783.4,387.1 784.7,386.5 786.0,385.9 787.4,385.6 788.7,384.8 790.1,384.3 791.4,383.4 792.7,382.7 794.1,382.0 795.4,381.4 796.7,380.5 798.1,380.4 799.4,380.9 800.8,378.6 802.2,378.5 803.5,377.3 804.9,376.4 806.3,375.3 807.7,376.2 809.1,375.2 810.4,374.0 811.8,374.3 813.2,374.4 814.6,372.8 816.0,372.0 817.4,371.6 818.8,371.5 820.2,372.1 821.6,370.3 823.0,370.5 824.4,368.7 825.8,368.2 827.3,367.8 828.7,367.4 830.1,367.4 831.5,367.6 833.0,367.0 834.4,365.7 835.8,365.5 837.3,365.3 839.2,364.6 840.7,364.2 842.2,365.0 843.6,363.6 845.1,364.1 846.6,363.3 848.1,363.4 849.6,362.7 851.1,363.5 852.5,363.1 854.0,362.9 855.5,362.2 857.0,362.6 858.5,361.5 860.0,361.4 861.5,361.9 863.0,361.8 864.5,361.3 866.0,361.6 867.5,362.2 869.0,360.9 870.5,361.4 872.0,361.6 873.5,360.7 875.0,361.5 876.5,362.3 878.0,361.3 879.5,361.8 881.0,361.5 882.5,362.3 884.0,362.4 885.5,362.5 887.0,363.0 888.5,362.1 889.9,363.4 891.4,363.7 892.9,363.0 894.4,363.7 895.8,363.4 897.3,363.7 898.8,364.3 900.3,364.7 901.8,364.9 903.2,364.6 904.7,365.7 906.2,366.0 907.6,366.6 909.1,366.9 910.6,366.8 912.0,367.4 913.5,367.2 915.0,368.4 916.4,367.7 917.9,368.1 919.3,368.7 920.7,368.9 922.2,369.4 923.6,370.3 925.0,371.8 926.5,371.0 927.9,371.9 929.3,372.2 930.8,373.2 932.2,373.6 933.6,373.0 935.1,373.9 936.5,375.2 937.9,375.2 939.4,374.4 940.8,374.9 942.3,375.8 943.7,376.2 945.1,377.3 946.6,377.8 948.0,378.0 949.4,378.8 950.9,379.3 952.3,379.6 953.7,378.8 955.2,380.8 956.6,380.6 958.0,380.8 959.5,381.1 960.9,381.0 962.4,381.5 963.8,382.0 965.3,383.0 966.8,383.2 968.2,382.8 969.7,384.2 971.2,384.4 972.6,384.4 974.1,384.9 975.6,385.1 977.0,385.4 978.5,385.4 980.0,385.5 981.4,386.2 982.9,386.0 984.4,386.4 985.9,387.3 987.4,387.5 988.8,387.2 990.3,387.9 991.8,388.1 993.3,388.1 994.7,388.9 996.2,388.6 997.7,389.2 999.2,388.8 1000.7,389.1 1002.1,389.4 1003.6,389.1 1005.1,390.3 1006.6,390.6 1008.0,390.8 1009.5,390.8 1011.0,391.3 1012.5,390.8 1013.9,391.1 1015.4,391.0 1016.9,392.2 1018.3,392.4 1019.8,392.7 1021.3,392.7 1022.7,393.8 1024.2,394.4 1025.7,394.5 1027.1,393.7 1028.6,394.8 1030.1,394.8 1031.6,395.2 1033.0,396.0 1034.5,395.3 1036.0,396.0 1037.5,396.2 1038.9,396.7 1040.4,396.8 1041.9,397.0 1043.4,397.7 1044.9,397.7 1046.3,398.5 1047.8,399.1 1049.3,398.2 1050.8,397.9 1052.3,399.8 1053.8,398.4 1055.3,399.0 1056.7,398.6 1058.2,399.9 1059.7,400.7 1061.2,399.5 1062.7,399.8 1064.2,400.0 1065.7,400.5 1067.2,401.1 1068.7,401.7 1070.1,401.1 1071.6,401.4 1073.1,401.4 1074.6,400.9 1076.1,401.4 1077.6,401.0 1079.1,401.5 1080.6,402.3 1082.1,401.7 1083.6,402.1 1085.1,402.8 1087.1,402.3 1088.6,403.1 1090.1,403.3 1091.6,402.8 1093.0,403.2 1094.5,402.9 1096.0,404.1 1097.5,403.7 1099.0,403.4 1100.5,405.0 1102.0,404.1 1103.5,403.8 1105.0,404.1 1106.5,404.2 1108.0,404.3 1109.5,404.2 1111.0,404.9 1112.5,403.8 1114.0,404.9 1115.5,404.5 1117.0,405.2 1118.5,404.4 1120.0,405.4 1121.5,404.8 1123.0,405.0 1124.5,406.1 1126.0,405.6 1127.5,405.0 1129.0,405.4 1130.5,405.7 1132.0,405.4 1133.5,405.8 1134.9,406.7 1136.4,406.1 1137.9,406.5 1139.4,406.3 1140.9,406.0 1142.4,407.0 1143.9,406.4 1145.4,406.4 1146.9,406.9 1148.4,406.7 1149.9,406.0 1151.4,406.8 1152.9,405.9 1154.4,406.3 1155.9,405.6 1157.4,406.0 1158.9,405.9 1160.4,406.1 1161.9,406.4 1163.4,406.9 1164.9,406.6 1166.4,406.8 1167.9,406.8 1169.4,406.8 1170.9,407.1 1172.4,406.7 1173.9,406.7 1175.4,406.2 1176.9,406.4 1178.4,406.4 1179.9,406.7 1181.4,406.8 1182.9,407.0 1184.4,407.2 1185.9,406.8 1187.4,406.8 1188.9,406.8 1190.4,406.4 1191.9,407.7 1193.4,407.2 1194.9,407.6 1196.4,407.4 1197.9,407.4 1199.4,407.1 1200.9,406.7 1202.4,406.5 1203.9,407.3 1205.4,406.7 1206.9,406.6 1208.4,407.5 1209.8,407.0 1211.3,406.4" fill="none" stroke="#000" stroke-width="4.1" stroke-linejoin="round" stroke-linecap="butt" />
<rect x="1349.5" y="9.85" width="522" height="382.55" fill="none" stroke="#111" stroke-width="1.3"/>
<line x1="1349.5" y1="392.4" x2="1349.5" y2="401.4" stroke="#111" stroke-width="1.3"/>
<line x1="1414.75" y1="392.4" x2="1414.75" y2="397.4" stroke="#111" stroke-width="1.3"/>
<line x1="1480" y1="392.4" x2="1480" y2="401.4" stroke="#111" stroke-width="1.3"/>
<line x1="1545.25" y1="392.4" x2="1545.25" y2="397.4" stroke="#111" stroke-width="1.3"/>
<line x1="1610.5" y1="392.4" x2="1610.5" y2="401.4" stroke="#111" stroke-width="1.3"/>
<line x1="1675.75" y1="392.4" x2="1675.75" y2="397.4" stroke="#111" stroke-width="1.3"/>
<line x1="1741" y1="392.4" x2="1741" y2="401.4" stroke="#111" stroke-width="1.3"/>
<line x1="1806.25" y1="392.4" x2="1806.25" y2="397.4" stroke="#111" stroke-width="1.3"/>
<line x1="1871.5" y1="392.4" x2="1871.5" y2="401.4" stroke="#111" stroke-width="1.3"/>
<line x1="1342" y1="9.85" x2="1349.5" y2="9.85" stroke="#111" stroke-width="1.3"/>
<line x1="1345.5" y1="48.1" x2="1349.5" y2="48.1" stroke="#111" stroke-width="1.3"/>
<line x1="1342" y1="86.36" x2="1349.5" y2="86.36" stroke="#111" stroke-width="1.3"/>
<line x1="1345.5" y1="124.61" x2="1349.5" y2="124.61" stroke="#111" stroke-width="1.3"/>
<line x1="1342" y1="162.87" x2="1349.5" y2="162.87" stroke="#111" stroke-width="1.3"/>
<line x1="1345.5" y1="201.12" x2="1349.5" y2="201.12" stroke="#111" stroke-width="1.3"/>
<line x1="1342" y1="239.38" x2="1349.5" y2="239.38" stroke="#111" stroke-width="1.3"/>
<line x1="1345.5" y1="277.63" x2="1349.5" y2="277.63" stroke="#111" stroke-width="1.3"/>
<line x1="1342" y1="315.89" x2="1349.5" y2="315.89" stroke="#111" stroke-width="1.3"/>
<line x1="1345.5" y1="354.14" x2="1349.5" y2="354.14" stroke="#111" stroke-width="1.3"/>
<line x1="1342" y1="392.4" x2="1349.5" y2="392.4" stroke="#111" stroke-width="1.3"/>
<text x="1257.64" y="67.58" font-size="54.61" textLength="28.57" lengthAdjust="spacingAndGlyphs" font-family="DejaVu Sans, sans-serif" fill="#000">c</text>
<text transform="translate(1323.2,385.1) rotate(-90)" font-size="32.75" textLength="364.41" lengthAdjust="spacingAndGlyphs" fill="#000">Normalized Intensity (a.u.)</text>
<text x="1323.85" y="429.2" font-size="30" letter-spacing="0.450" fill="#000">250</text>
<text x="1454.65" y="429.2" font-size="30" letter-spacing="0.300" fill="#000">300</text>
<text x="1585.15" y="429.2" font-size="30" letter-spacing="0.300" fill="#000">350</text>
<text x="1716.25" y="429.2" font-size="30" letter-spacing="0.000" fill="#000">400</text>
<text x="1846.75" y="429.2" font-size="30" letter-spacing="0.000" fill="#000">450</text>
<text x="1492.45" y="468.7" font-size="30.14" letter-spacing="0.551" fill="#000">Wavelength (nm)</text>
<path d="M1347.7,391.8 1349.2,391.7 1350.7,391.3 1352.2,391.6 1353.7,391.0 1355.2,390.4 1356.7,392.1 1358.2,391.5 1359.7,390.2 1361.2,390.7 1362.7,391.0 1364.2,391.4 1365.7,391.9 1367.2,391.4 1368.7,391.0 1370.2,391.5 1371.7,391.1 1373.2,391.3 1374.7,390.9 1376.2,390.6 1377.7,391.8 1379.2,391.0 1380.7,391.2 1382.2,390.9 1383.7,390.9 1385.2,391.0 1386.7,391.4 1388.2,391.7 1389.7,391.4 1391.2,390.8 1392.7,392.5 1394.2,391.5 1395.7,391.5 1397.2,390.7 1398.7,390.9 1400.2,391.3 1401.7,390.1 1403.2,390.5 1404.7,391.1 1406.2,392.0 1407.7,391.0 1409.2,390.2 1410.7,390.0 1412.2,391.1 1413.7,390.1 1415.2,390.3 1416.7,391.4 1418.2,390.3 1419.7,390.0 1421.2,389.7 1422.7,390.7 1424.2,390.6 1425.7,389.5 1427.2,389.0 1428.7,389.5 1430.2,390.1 1431.6,389.5 1433.1,388.5 1434.6,389.2 1436.1,389.2 1437.6,388.6 1439.1,388.6 1440.6,388.3 1442.1,387.9 1443.6,387.6 1445.0,387.0 1446.5,386.8 1448.0,386.3 1449.5,387.0 1450.9,386.6 1452.3,385.8 1453.7,385.5 1455.1,384.7 1456.4,383.7 1457.8,383.5 1459.1,382.5 1460.4,381.8 1461.7,380.1 1462.9,380.1 1464.2,379.7 1465.4,378.4 1466.6,377.3 1467.8,375.9 1468.9,375.4 1470.0,375.4 1471.0,373.3 1472.1,373.1 1473.1,371.2 1474.1,370.9 1475.1,369.0 1476.1,368.3 1477.0,367.3 1477.9,366.1 1478.9,364.1 1479.8,363.2 1480.6,361.7 1481.5,360.9 1482.4,359.6 1483.2,358.4 1484.0,357.5 1484.8,355.5 1485.7,354.3 1486.5,353.2 1487.2,352.0 1488.0,350.5 1488.7,349.8 1489.5,347.7 1490.2,347.8 1490.9,345.7 1491.6,344.9 1492.4,342.5 1493.1,341.5 1493.8,340.4 1494.5,339.9 1495.2,337.8 1495.9,337.1 1496.6,334.7 1497.3,334.5 1498.0,332.1 1498.7,330.2 1499.4,328.8 1500.1,328.5 1500.8,327.0 1501.4,325.9 1502.1,324.4 1502.7,323.3 1503.3,322.5 1504.0,320.2 1504.5,319.1 1505.1,317.4 1505.7,315.3 1506.2,314.6 1506.7,314.1 1507.2,311.5 1507.7,311.7 1508.2,309.4 1508.7,307.9 1509.1,306.7 1509.6,304.8 1510.1,303.4 1510.6,302.7 1511.1,300.2 1511.6,299.1 1512.1,297.2 1512.5,296.4 1513.0,296.4 1513.5,294.1 1514.0,291.6 1514.5,289.8 1515.0,289.5 1515.5,288.2 1516.0,286.1 1516.5,285.7 1517.0,283.8 1517.5,282.5 1518.0,281.1 1518.5,279.9 1519.0,277.7 1519.5,276.2 1520.0,275.8 1520.5,273.6 1521.0,271.7 1521.5,271.1 1522.0,269.2 1522.5,268.2 1523.0,268.2 1523.5,266.1 1524.0,263.6 1524.4,261.8 1524.9,260.9 1525.4,259.0 1525.8,258.2 1526.3,256.8 1526.7,255.6 1527.2,253.8 1527.6,251.7 1528.2,250.4 1528.6,249.1 1529.0,247.7 1529.5,246.7 1529.9,244.2 1530.3,243.2 1530.8,241.5 1531.2,240.0 1531.6,239.3 1532.0,237.2 1532.5,237.0 1532.9,233.4 1533.4,233.9 1533.8,231.6 1534.2,229.7 1534.7,229.0 1535.1,227.5 1535.5,226.5 1535.9,225.2 1536.4,222.7 1536.8,221.7 1537.2,220.4 1537.6,218.9 1538.0,217.2 1538.4,216.6 1538.7,214.6 1539.1,212.3 1539.5,211.7 1539.8,210.0 1540.2,208.5 1540.6,207.6 1540.9,206.0 1541.3,204.4 1541.7,203.0 1542.1,201.8 1542.5,199.6 1542.9,198.5 1543.3,197.7 1543.7,195.3 1544.1,193.9 1544.6,192.4 1545.0,191.8 1545.5,189.6 1545.9,189.0 1546.4,186.8 1546.8,185.7 1547.3,184.3 1547.7,182.4 1548.1,180.7 1548.6,180.3 1549.0,178.2 1549.3,177.2 1549.7,175.8 1550.1,173.3 1550.5,173.2 1550.8,171.2 1551.2,169.5 1551.5,168.0 1551.9,166.5 1552.2,165.4 1552.6,164.8 1552.9,162.3 1553.3,160.3 1553.6,159.3 1554.0,159.0 1554.4,156.6 1554.7,156.0 1555.1,153.2 1555.5,151.8 1555.8,150.1 1556.2,148.8 1556.6,147.8 1557.0,146.4 1557.3,144.0 1557.7,142.9 1558.1,141.6 1558.4,140.3 1558.8,139.7 1559.1,138.3 1559.5,136.3 1559.8,135.0 1560.2,132.8 1560.5,131.9 1560.9,129.4 1561.2,128.8 1561.6,127.5 1561.9,126.3 1562.3,124.4 1562.6,122.9 1563.0,121.0 1563.4,118.9 1563.8,118.3 1564.3,116.2 1564.7,115.5 1565.2,114.2 1565.7,112.2 1566.3,110.6 1566.8,110.0 1567.3,108.4 1567.9,107.5 1568.4,106.3 1568.9,105.3 1569.5,103.6 1569.9,101.2 1570.4,100.2 1570.8,99.9 1571.2,96.9 1571.6,95.7 1572.0,95.1 1572.4,93.3 1572.7,91.2 1573.0,90.3 1573.4,88.3 1573.7,87.6 1574.1,85.7 1574.4,84.3 1574.8,82.9 1575.1,80.4 1575.5,79.8 1575.9,78.7 1576.3,77.0 1576.7,75.3 1577.1,74.1 1577.5,73.4 1577.9,71.6 1578.4,69.5 1578.8,68.9 1579.2,67.1 1579.7,65.3 1580.1,63.2 1580.6,62.9 1581.1,60.7 1581.5,60.0 1582.0,59.0 1582.5,57.3 1583.0,55.0 1583.5,53.7 1584.1,53.1 1584.6,51.9 1585.1,50.0 1585.7,48.5 1586.2,48.1 1586.8,46.6 1587.4,44.5 1588.0,42.8 1588.6,42.0 1589.2,39.7 1589.9,39.1 1590.6,37.8 1591.4,37.0 1592.2,35.4 1593.0,32.9 1593.8,33.5 1594.6,31.6 1595.5,29.1 1596.3,28.1 1597.2,28.0 1598.0,25.7 1598.9,25.6 1599.7,23.3 1600.5,21.8 1601.3,22.1 1602.1,20.9 1602.9,18.7 1603.8,18.4 1604.8,16.7 1605.8,15.7 1607.0,14.4 1608.2,13.9 1609.4,13.5 1610.8,12.9 1612.3,12.9 1613.7,12.5 1615.2,11.6 1616.7,10.9 1618.2,11.5 1619.7,11.4 1621.1,11.1 1622.6,11.2 1623.9,12.0 1625.3,12.3 1626.5,13.4 1627.8,14.8 1628.9,16.4 1629.9,16.9 1630.9,17.7 1631.7,19.0 1632.5,20.4 1633.3,22.4 1634.0,23.2 1634.6,23.5 1635.3,25.8 1636.0,26.3 1636.6,28.1 1637.2,29.9 1637.8,30.8 1638.4,32.5 1638.9,34.6 1639.4,35.0 1639.9,37.3 1640.4,38.7 1640.9,40.0 1641.4,40.6 1641.8,43.0 1642.3,44.1 1642.8,45.7 1643.2,46.8 1643.7,48.8 1644.2,48.9 1644.7,51.2 1645.2,52.8 1645.7,55.2 1646.2,54.5 1646.7,56.1 1647.2,58.0 1647.7,59.6 1648.2,60.5 1648.7,62.7 1649.2,63.6 1649.7,65.2 1650.2,65.9 1650.7,68.2 1651.1,69.5 1651.6,71.6 1652.0,72.7 1652.5,74.4 1652.9,75.3 1653.4,76.2 1653.8,78.3 1654.2,78.7 1654.7,80.2 1655.1,82.0 1655.5,84.2 1655.9,85.7 1656.3,85.8 1656.7,87.9 1657.1,90.1 1657.5,90.7 1657.9,91.6 1658.3,93.9 1658.6,96.0 1659.0,96.5 1659.4,97.9 1659.7,100.7 1660.1,101.5 1660.4,102.0 1660.8,104.5 1661.2,106.1 1661.5,106.8 1661.9,108.5 1662.2,110.3 1662.6,111.5 1663.0,113.6 1663.4,114.9 1663.7,116.2 1664.1,118.0 1664.5,118.5 1664.8,119.7 1665.2,120.9 1665.6,122.7 1665.9,123.9 1666.3,125.8 1666.6,127.9 1666.9,129.6 1667.2,130.7 1667.6,132.1 1667.9,133.4 1668.1,135.0 1668.4,136.0 1668.7,137.4 1669.0,138.6 1669.3,140.5 1669.6,142.3 1669.9,143.5 1670.2,145.2 1670.5,147.5 1670.8,148.2 1671.1,149.8 1671.4,151.0 1671.7,152.7 1672.0,153.4 1672.4,155.6 1672.7,157.1 1673.0,158.7 1673.3,159.0 1673.7,161.0 1674.0,163.3 1674.4,164.4 1674.7,164.8 1675.1,166.6 1675.4,167.9 1675.8,170.1 1676.2,171.8 1676.6,172.6 1677.0,173.4 1677.4,175.7 1677.8,176.1 1678.2,179.0 1678.6,179.5 1679.0,180.9 1679.4,182.3 1679.8,184.3 1680.2,185.8 1680.6,187.4 1680.9,188.6 1681.3,190.0 1681.7,192.0 1682.1,193.7 1682.5,194.6 1682.8,196.2 1683.2,197.8 1683.5,198.8 1683.8,200.0 1684.0,201.1 1684.3,203.1 1684.5,205.6 1684.7,205.9 1685.0,207.1 1685.2,209.1 1685.4,210.8 1685.7,212.4 1685.9,213.2 1686.1,215.4 1686.4,216.4 1686.7,217.9 1687.0,219.5 1687.3,220.6 1687.6,222.2 1687.9,224.3 1688.3,224.9 1688.7,226.7 1689.1,228.6 1689.5,229.9 1689.9,231.3 1690.3,232.1 1690.6,233.5 1691.0,235.4 1691.4,236.7 1691.7,237.6 1692.1,239.9 1692.4,241.6 1692.7,243.6 1693.0,244.3 1693.3,245.7 1693.5,246.9 1693.8,248.9 1694.1,250.1 1694.4,252.7 1694.6,252.8 1694.9,255.3 1695.2,256.0 1695.5,257.0 1695.9,259.8 1696.3,261.2 1696.6,263.3 1697.0,264.3 1697.3,265.4 1697.7,266.7 1698.1,268.0 1698.5,269.7 1698.8,271.3 1699.2,272.3 1699.6,273.8 1700.0,275.7 1700.4,276.6 1700.7,278.4 1701.1,279.8 1701.4,281.0 1701.8,283.5 1702.1,284.8 1702.4,285.8 1702.8,286.6 1703.1,288.8 1703.4,290.1 1703.7,291.6 1704.1,293.1 1704.4,294.3 1704.7,297.2 1705.1,297.8 1705.4,298.9 1705.7,300.6 1706.0,301.7 1706.3,303.0 1706.6,304.4 1706.9,306.5 1707.3,308.3 1707.6,309.9 1707.9,310.9 1708.2,312.3 1708.5,312.8 1708.9,314.2 1709.2,316.4 1709.6,318.5 1710.0,320.1 1710.4,320.8 1710.8,321.7 1711.3,323.6 1711.7,325.1 1712.2,326.1 1712.7,327.9 1713.2,329.9 1713.7,330.5 1714.2,332.2 1714.8,334.5 1715.3,335.3 1715.8,336.7 1716.4,337.6 1716.9,339.7 1717.5,339.9 1718.1,342.7 1718.6,343.4 1719.2,344.4 1719.8,345.8 1720.4,347.4 1721.0,347.7 1721.6,350.1 1722.3,351.5 1722.9,352.2 1723.6,354.4 1724.3,356.1 1725.0,356.1 1725.7,357.8 1726.4,359.8 1727.1,361.9 1727.8,361.9 1728.6,363.6 1729.4,364.5 1730.2,366.1 1731.0,367.6 1731.8,368.3 1732.7,370.2 1733.5,372.7 1734.4,373.1 1735.3,373.5 1736.2,374.8 1737.2,375.1 1738.2,376.8 1739.3,377.7 1740.4,378.4 1741.6,378.8 1742.8,381.4 1744.1,381.7 1745.4,381.6 1746.7,383.3 1748.1,383.9 1749.4,383.5 1750.8,385.3 1752.3,384.1 1753.7,386.1 1755.1,385.6 1756.5,386.7 1758.0,386.0 1759.5,387.3 1760.9,388.1 1762.4,388.5 1763.9,388.2 1765.3,388.5 1766.8,388.2 1768.3,388.6 1769.8,389.1 1771.3,388.7 1772.8,389.6 1774.3,389.5 1775.7,390.0 1777.2,390.3 1778.7,389.9 1780.2,389.6 1781.7,390.3 1783.2,389.9 1784.7,390.2 1786.2,390.3 1787.7,389.8 1789.2,390.7 1790.7,389.8 1792.2,390.4 1793.7,390.9 1795.2,390.8 1796.7,390.7 1798.2,391.5 1799.7,390.6 1801.2,390.8 1802.7,391.2 1804.2,389.9 1805.7,390.5 1807.2,391.2 1808.7,391.0 1810.2,390.5 1811.7,391.0 1813.2,391.1 1814.7,390.8 1816.2,391.4 1817.7,390.2 1819.2,391.2 1820.7,390.8 1822.2,390.7 1823.7,389.9 1825.2,392.0 1826.7,389.6 1828.2,390.9 1829.7,390.8 1831.2,391.8 1832.7,390.6 1834.2,390.8 1835.7,391.0 1837.2,391.3 1838.7,391.5 1840.2,391.2 1841.7,389.9 1843.2,390.6 1844.7,391.3 1846.2,391.3 1847.7,391.5 1849.2,390.7 1850.7,390.9 1852.2,391.1 1853.7,391.4 1855.2,391.6 1856.7,391.0 1858.2,391.7 1859.7,391.1 1861.2,391.4 1862.7,390.3 1864.2,390.5 1865.7,391.7 1867.2,390.8 1868.7,391.8 1870.2,391.6 1871.3,390.4" fill="none" stroke="#ff00ff" stroke-width="1.25" stroke-linejoin="round" stroke-linecap="butt" />
<path d="M1349.8,391.4 1351.3,390.9 1352.8,391.7 1354.3,390.8 1355.8,390.7 1357.3,391.5 1358.8,391.9 1360.3,391.9 1361.8,392.0 1363.3,391.5 1364.8,391.1 1366.3,391.6 1367.8,391.5 1369.3,391.3 1370.8,390.9 1372.3,391.1 1373.8,391.4 1375.3,390.6 1376.8,391.0 1378.3,390.6 1379.8,392.1 1381.3,391.5 1382.8,391.1 1384.3,391.6 1385.8,391.2 1387.3,390.9 1388.8,391.1 1390.3,391.0 1391.8,392.9 1393.3,390.6 1394.8,389.7 1396.3,391.4 1397.8,390.4 1399.3,390.3 1400.8,391.7 1402.3,390.5 1403.8,390.3 1405.3,390.9 1406.8,390.2 1408.3,391.2 1409.8,390.4 1411.3,390.8 1412.8,391.4 1414.3,391.6 1415.8,389.4 1417.3,390.2 1418.8,390.2 1420.3,390.7 1421.8,390.0 1423.3,389.7 1424.8,390.8 1426.3,390.6 1427.8,389.9 1429.3,388.6 1430.8,389.5 1432.3,388.7 1433.7,390.3 1435.2,389.4 1436.7,389.2 1438.2,389.3 1439.7,389.0 1441.2,387.9 1442.7,388.6 1444.2,388.3 1445.7,386.6 1447.1,388.3 1448.6,387.7 1450.1,387.1 1451.6,387.1 1453.0,385.9 1454.4,386.4 1455.8,385.1 1457.2,384.0 1458.5,385.1 1459.9,383.8 1461.2,382.7 1462.5,382.1 1463.8,381.5 1465.0,381.1 1466.3,379.9 1467.5,379.4 1468.7,377.4 1469.9,376.4 1471.0,375.9 1472.1,375.0 1473.1,373.7 1474.2,372.2 1475.2,371.3 1476.2,370.8 1477.2,369.7 1478.2,367.5 1479.1,367.4 1480.0,366.0 1481.0,364.8 1481.9,363.9 1482.7,362.3 1483.6,361.9 1484.5,359.5 1485.3,358.0 1486.1,357.4 1486.9,356.2 1487.8,354.2 1488.6,353.7 1489.3,352.3 1490.1,350.3 1490.8,349.4 1491.6,348.8 1492.3,347.5 1493.0,345.1 1493.7,344.7 1494.5,343.0 1495.2,342.8 1495.9,340.3 1496.6,339.4 1497.3,336.9 1498.0,337.0 1498.7,335.1 1499.4,333.5 1500.1,332.2 1500.8,331.0 1501.5,329.5 1502.2,328.7 1502.9,326.8 1503.5,325.6 1504.2,325.9 1504.8,323.0 1505.4,321.9 1506.1,320.5 1506.6,318.9 1507.2,317.6 1507.8,315.5 1508.3,315.1 1508.8,313.5 1509.3,312.0 1509.8,309.9 1510.3,309.6 1510.8,307.0 1511.2,306.2 1511.7,304.5 1512.2,302.7 1512.7,302.7 1513.2,301.3 1513.7,299.8 1514.2,297.7 1514.6,295.9 1515.1,295.0 1515.6,293.4 1516.1,291.1 1516.6,291.2 1517.1,289.6 1517.6,287.5 1518.1,285.9 1518.6,284.9 1519.1,283.7 1519.6,283.2 1520.1,280.9 1520.6,278.8 1521.1,278.2 1521.6,275.9 1522.1,274.5 1522.6,273.9 1523.1,272.1 1523.6,270.1 1524.1,269.1 1524.6,267.7 1525.1,266.1 1525.6,264.9 1526.1,263.8 1526.5,262.2 1527.0,260.5 1527.5,259.8 1527.9,258.8 1528.4,257.1 1528.8,254.6 1529.3,253.3 1529.7,252.4 1530.1,251.0 1530.6,249.0 1531.0,248.2 1531.4,246.6 1531.9,244.5 1532.3,242.8 1532.7,242.3 1533.1,240.5 1533.6,240.4 1534.0,237.5 1534.4,236.2 1534.9,236.5 1535.3,233.0 1535.7,232.7 1536.2,230.9 1536.6,229.2 1537.1,227.4 1537.5,226.5 1537.9,225.8 1538.3,224.0 1538.7,222.1 1539.1,221.2 1539.6,219.1 1539.9,217.9 1540.3,217.0 1540.7,214.9 1541.1,213.9 1541.4,212.1 1541.8,210.0 1542.2,209.8 1542.5,207.3 1542.9,206.9 1543.3,205.3 1543.7,204.0 1544.0,202.2 1544.4,200.3 1544.8,198.5 1545.2,197.2 1545.7,195.8 1546.1,195.1 1546.5,192.3 1547.0,192.2 1547.4,190.2 1547.9,189.1 1548.3,187.9 1548.8,186.3 1549.2,185.1 1549.7,182.8 1550.1,181.5 1550.5,179.6 1550.9,178.7 1551.3,177.3 1551.7,176.1 1552.1,174.8 1552.4,173.6 1552.8,172.2 1553.2,169.8 1553.5,168.6 1553.9,167.0 1554.2,165.6 1554.6,164.8 1554.9,163.6 1555.3,161.7 1555.6,160.2 1556.0,158.0 1556.4,156.7 1556.7,155.5 1557.1,152.9 1557.5,152.8 1557.8,151.1 1558.2,150.7 1558.6,148.2 1558.9,146.0 1559.3,145.4 1559.7,143.8 1560.0,142.6 1560.4,140.4 1560.8,139.6 1561.1,137.2 1561.5,136.8 1561.8,135.1 1562.2,132.6 1562.5,132.6 1562.9,131.3 1563.2,129.9 1563.6,128.2 1563.9,126.1 1564.3,124.6 1564.6,123.8 1565.0,122.6 1565.4,122.0 1565.8,119.3 1566.2,116.8 1566.7,116.1 1567.2,115.3 1567.7,113.8 1568.2,112.6 1568.7,110.2 1569.3,109.0 1569.8,108.2 1570.3,106.7 1570.9,105.3 1571.4,103.3 1571.9,102.0 1572.3,101.1 1572.8,99.8 1573.2,97.3 1573.6,96.6 1574.0,95.3 1574.3,93.7 1574.7,92.3 1575.0,90.6 1575.4,88.8 1575.7,88.3 1576.0,85.6 1576.4,84.9 1576.7,82.8 1577.1,81.6 1577.5,80.4 1577.9,78.5 1578.3,77.6 1578.7,76.5 1579.1,75.2 1579.5,73.0 1579.9,71.9 1580.3,70.1 1580.7,68.3 1581.2,67.2 1581.6,67.0 1582.1,64.1 1582.5,62.9 1583.0,61.6 1583.5,60.8 1584.0,59.0 1584.5,57.2 1585.0,55.8 1585.5,54.8 1586.0,53.3 1586.5,50.9 1587.0,50.5 1587.6,49.1 1588.1,47.8 1588.7,46.1 1589.3,45.1 1589.9,42.9 1590.5,42.2 1591.1,42.2 1591.8,39.6 1592.5,37.6 1593.2,37.1 1594.0,36.0 1594.8,34.6 1595.6,32.8 1596.4,31.8 1597.3,30.6 1598.1,30.9 1599.0,27.1 1599.9,26.6 1600.7,25.4 1601.5,24.1 1602.3,23.1 1603.1,22.3 1603.9,19.9 1604.7,19.1 1605.6,17.5 1606.5,17.1 1607.6,16.7 1608.7,14.3 1609.9,13.8 1611.1,12.8 1612.4,11.8 1613.9,11.6 1615.3,11.5 1616.8,10.6 1618.3,11.4 1620.3,10.5 1621.7,10.1 1623.2,11.7 1624.5,12.1 1625.9,13.2 1627.2,13.6 1628.4,14.6 1629.6,15.7 1630.6,15.9 1631.6,18.4 1632.5,19.3 1633.3,20.7 1634.0,21.1 1634.7,22.8 1635.4,24.2 1636.1,24.7 1636.7,27.1 1637.4,28.4 1638.0,29.7 1638.6,31.0 1639.2,32.8 1639.7,33.9 1640.2,35.2 1640.7,36.9 1641.2,37.8 1641.7,39.1 1642.2,41.1 1642.6,42.1 1643.1,43.7 1643.6,44.3 1644.1,46.6 1644.5,47.0 1645.0,49.0 1645.5,50.6 1646.0,53.3 1646.5,53.4 1647.0,55.3 1647.5,56.1 1648.0,57.6 1648.5,58.3 1649.0,61.1 1649.5,62.3 1650.0,63.8 1650.5,65.0 1651.0,66.2 1651.5,68.0 1651.9,69.1 1652.4,71.3 1652.8,72.2 1653.3,73.2 1653.7,74.2 1654.2,76.2 1654.6,77.1 1655.0,79.3 1655.5,80.5 1655.9,81.2 1656.3,84.0 1656.7,84.6 1657.1,85.4 1657.5,88.4 1657.9,89.1 1658.3,90.4 1658.7,91.8 1659.1,93.6 1659.5,95.0 1659.8,95.9 1660.2,97.9 1660.6,99.4 1660.9,101.0 1661.3,101.5 1661.6,103.6 1662.0,104.5 1662.3,106.4 1662.7,107.5 1663.1,109.8 1663.4,111.0 1663.8,112.4 1664.2,114.0 1664.6,114.9 1664.9,116.2 1665.3,117.7 1665.7,120.3 1666.0,121.1 1666.4,123.9 1666.7,124.5 1667.1,125.6 1667.4,127.5 1667.8,128.2 1668.1,130.1 1668.4,131.4 1668.7,133.4 1669.0,133.6 1669.3,135.4 1669.6,137.6 1669.9,139.2 1670.1,141.0 1670.4,141.7 1670.7,143.3 1671.0,144.0 1671.3,146.4 1671.6,147.9 1671.9,149.0 1672.2,150.7 1672.6,152.1 1672.9,153.7 1673.2,155.0 1673.5,157.2 1673.9,158.9 1674.2,159.3 1674.5,160.8 1674.9,161.6 1675.2,163.7 1675.5,165.8 1675.9,166.2 1676.3,167.7 1676.6,170.4 1677.0,170.1 1677.4,173.0 1677.8,174.2 1678.2,175.4 1678.6,176.5 1679.0,178.4 1679.4,180.4 1679.8,180.5 1680.2,183.4 1680.6,184.5 1681.0,185.2 1681.4,186.9 1681.8,188.8 1682.2,189.2 1682.5,190.5 1682.9,192.2 1683.3,193.6 1683.7,195.7 1684.0,197.5 1684.3,198.1 1684.6,199.3 1684.9,201.5 1685.1,202.6 1685.4,204.3 1685.6,206.0 1685.8,207.7 1686.1,209.0 1686.3,210.6 1686.5,211.8 1686.8,214.0 1687.0,214.4 1687.2,217.8 1687.5,217.8 1687.8,219.6 1688.1,220.9 1688.4,221.6 1688.8,223.7 1689.1,225.6 1689.5,227.1 1689.9,228.3 1690.3,229.4 1690.7,230.6 1691.1,231.8 1691.5,234.5 1691.8,236.0 1692.2,236.5 1692.6,238.4 1692.9,239.5 1693.2,241.1 1693.5,242.4 1693.8,244.7 1694.1,245.6 1694.4,246.8 1694.7,249.1 1694.9,249.2 1695.2,251.7 1695.5,253.0 1695.8,253.9 1696.1,254.9 1696.4,256.5 1696.7,258.5 1697.0,259.8 1697.3,260.6 1697.7,263.0 1698.0,264.3 1698.4,265.9 1698.8,267.3 1699.2,268.7 1699.5,270.0 1699.9,272.0 1700.3,273.1 1700.7,275.4 1701.1,276.3 1701.4,277.1 1701.8,280.2 1702.1,280.7 1702.5,282.5 1702.8,283.5 1703.1,284.3 1703.5,286.8 1703.8,288.1 1704.1,288.5 1704.5,290.3 1704.8,292.6 1705.1,293.5 1705.5,295.0 1705.8,297.0 1706.1,299.2 1706.4,299.7 1706.8,301.9 1707.1,301.9 1707.4,304.4 1707.7,305.5 1708.0,305.9 1708.3,308.4 1708.6,309.5 1708.9,311.0 1709.2,314.2 1709.6,313.2 1709.9,315.8 1710.3,316.1 1710.7,318.8 1711.1,320.0 1711.5,322.0 1711.9,323.1 1712.4,324.4 1712.8,325.5 1713.3,327.1 1713.8,329.3 1714.3,330.5 1714.8,330.9 1715.3,332.8 1715.9,334.8 1716.4,336.1 1717.0,338.1 1717.6,338.0 1718.2,340.1 1718.9,341.0 1719.5,342.8 1720.2,343.8 1720.9,345.6 1721.6,347.1 1722.4,347.4 1723.1,347.8 1723.9,350.6 1724.7,351.6 1725.6,352.6 1726.4,354.5 1727.3,356.5 1728.2,356.7 1729.2,357.3 1730.2,358.6 1731.2,359.6 1732.3,360.5 1733.3,361.7 1734.4,362.8 1735.4,363.9 1736.4,365.3 1737.5,366.2 1738.4,367.5 1739.4,368.1 1740.3,369.4 1741.1,371.4 1742.0,371.5 1742.8,373.5 1743.7,374.6 1744.6,375.6 1745.5,377.2 1746.5,378.1 1747.6,378.6 1748.7,380.8 1749.8,381.7 1751.0,381.2 1752.2,383.1 1753.5,384.4 1754.9,385.6 1756.3,385.7 1757.7,384.9 1759.1,385.9 1760.5,386.3 1761.9,386.5 1763.4,386.6 1764.9,387.8 1766.3,388.1 1767.8,388.1 1769.3,388.8 1770.8,388.6 1772.2,389.6 1773.7,389.6 1775.2,389.8 1776.7,389.5 1778.2,388.8 1779.7,389.8 1781.2,390.2 1782.7,388.6 1784.2,390.0 1785.7,391.2 1787.2,389.8 1788.7,390.1 1790.2,390.9 1791.7,391.2 1793.2,390.2 1794.7,391.4 1796.2,390.5 1797.7,390.5 1799.2,390.2 1800.7,390.6 1802.2,391.2 1803.7,389.8 1805.2,390.5 1806.7,389.9 1808.2,390.4 1809.7,390.7 1811.2,390.8 1812.7,390.4 1814.2,390.9 1815.7,390.6 1817.2,391.2 1818.7,389.9 1820.2,389.9 1821.7,391.7 1823.2,390.1 1824.7,389.4 1826.2,390.0 1827.7,390.8 1829.2,391.1 1830.7,391.9 1832.2,391.9 1833.7,390.7 1835.2,391.5 1836.7,391.0 1838.2,391.0 1839.7,391.4 1841.2,391.6 1842.7,390.8 1844.2,391.6 1845.7,391.2 1847.2,391.0 1848.7,390.7 1850.2,391.2 1851.7,391.5 1853.2,391.2 1854.7,390.9 1856.2,391.5 1857.7,391.2 1859.2,390.5 1860.7,391.6 1862.2,389.6 1863.7,390.4 1865.2,390.2 1866.7,391.3 1868.2,391.1 1869.7,391.1 1871.2,391.0 1872.6,390.2 1873.9,390.7" fill="none" stroke="#22cc22" stroke-width="1.25" stroke-linejoin="round" stroke-linecap="butt" />
<path d="M1349.8,391.4 1351.3,390.9 1352.8,391.7 1354.3,390.8 1355.8,390.7 1357.3,391.5 1358.8,391.9 1360.3,391.9 1361.8,392.0 1363.3,391.5 1364.8,391.1 1366.3,391.6 1367.8,391.5 1369.3,391.3 1370.8,390.9 1372.3,391.1 1373.8,391.4 1375.3,390.6 1376.8,391.0 1378.3,390.6 1379.8,392.1 1381.3,391.5 1382.8,391.1 1384.3,391.6 1385.8,391.2 1387.3,390.9 1388.8,391.1 1390.3,391.0 1391.8,392.9 1393.3,390.6 1394.8,389.7 1396.3,391.4 1397.8,390.4 1399.3,390.3 1400.8,391.7 1402.3,390.5 1403.8,390.3 1405.3,390.9 1406.8,390.2 1408.3,391.2 1409.8,390.4 1411.3,390.8 1412.8,391.4 1414.3,391.6 1415.8,389.4 1417.3,390.2 1418.8,390.2 1420.3,390.7 1421.8,390.0 1423.3,389.7 1424.8,390.8 1426.3,390.6 1427.8,389.9 1429.3,388.6 1430.8,389.5 1432.3,388.7 1433.7,390.3 1435.2,389.4 1436.7,389.2 1438.2,389.3 1439.7,389.0 1441.2,387.9 1442.7,388.6 1444.2,388.3 1445.7,386.6 1447.1,388.3 1448.6,387.7 1450.1,387.1 1451.6,387.1 1453.0,385.9 1454.4,386.4 1455.8,385.1 1457.2,384.0 1458.5,385.1 1459.9,383.8 1461.2,382.7 1462.5,382.1 1463.8,381.5 1465.0,381.1 1466.3,379.9 1467.5,379.4 1468.7,377.4 1469.9,376.4 1471.0,375.9 1472.1,375.0 1473.1,373.7 1474.2,372.2 1475.2,371.3 1476.2,370.8 1477.2,369.7 1478.2,367.5 1479.1,367.4 1480.0,366.0 1481.0,364.8 1481.9,363.9 1482.7,362.3 1483.6,361.9 1484.5,359.5 1485.3,358.0 1486.1,357.4 1486.9,356.2 1487.8,354.2 1488.6,353.7 1489.3,352.3 1490.1,350.3 1490.8,349.4 1491.6,348.8 1492.3,347.5 1493.0,345.1 1493.7,344.7 1494.5,343.0 1495.2,342.8 1495.9,340.3 1496.6,339.4 1497.3,336.9 1498.0,337.0 1498.7,335.1 1499.4,333.5 1500.1,332.2 1500.8,331.0 1501.5,329.5 1502.2,328.7 1502.9,326.8 1503.5,325.6 1504.2,325.9 1504.8,323.0 1505.4,321.9 1506.1,320.5 1506.6,318.9 1507.2,317.6 1507.8,315.5 1508.3,315.1 1508.8,313.5 1509.3,312.0 1509.8,309.9 1510.3,309.6 1510.8,307.0 1511.2,306.2 1511.7,304.5 1512.2,302.7 1512.7,302.7 1513.2,301.3 1513.7,299.8 1514.2,297.7 1514.6,295.9 1515.1,295.0 1515.6,293.4 1516.1,291.1 1516.6,291.2 1517.1,289.6 1517.6,287.5 1518.1,285.9 1518.6,284.9 1519.1,283.7 1519.6,283.2 1520.1,280.9 1520.6,278.8 1521.1,278.2 1521.6,275.9 1522.1,274.5 1522.6,273.9 1523.1,272.1 1523.6,270.1 1524.1,269.1 1524.6,267.7 1525.1,266.1 1525.6,264.9 1526.1,263.8 1526.5,262.2 1527.0,260.5 1527.5,259.8 1527.9,258.8 1528.4,257.1 1528.8,254.6 1529.3,253.3 1529.7,252.4 1530.1,251.0 1530.6,249.0 1531.0,248.2 1531.4,246.6 1531.9,244.5 1532.3,242.8 1532.7,242.3 1533.1,240.5 1533.6,240.4 1534.0,237.5 1534.4,236.2 1534.9,236.5 1535.3,233.0 1535.7,232.7 1536.2,230.9 1536.6,229.2 1537.1,227.4 1537.5,226.5 1537.9,225.8 1538.3,224.0 1538.7,222.1 1539.1,221.2 1539.6,219.1 1539.9,217.9 1540.3,217.0 1540.7,214.9 1541.1,213.9 1541.4,212.1 1541.8,210.0 1542.2,209.8 1542.5,207.3 1542.9,206.9 1543.3,205.3 1543.7,204.0 1544.0,202.2 1544.4,200.3 1544.8,198.5 1545.2,197.2 1545.7,195.8 1546.1,195.1 1546.5,192.3 1547.0,192.2 1547.4,190.2 1547.9,189.1 1548.3,187.9 1548.8,186.3 1549.2,185.1 1549.7,182.8 1550.1,181.5 1550.5,179.6 1550.9,178.7 1551.3,177.3 1551.7,176.1 1552.1,174.8 1552.4,173.6 1552.8,172.2 1553.2,169.8 1553.5,168.6 1553.9,167.0 1554.2,165.6 1554.6,164.8 1554.9,163.6 1555.3,161.7 1555.6,160.2 1556.0,158.0 1556.4,156.7 1556.7,155.5 1557.1,152.9 1557.5,152.8 1557.8,151.1 1558.2,150.7 1558.6,148.2 1558.9,146.0 1559.3,145.4 1559.7,143.8 1560.0,142.6 1560.4,140.4 1560.8,139.6 1561.1,137.2 1561.5,136.8 1561.8,135.1 1562.2,132.6 1562.5,132.6 1562.9,131.3 1563.2,129.9 1563.6,128.2 1563.9,126.1 1564.3,124.6 1564.6,123.8 1565.0,122.6 1565.4,122.0 1565.8,119.3 1566.2,116.8 1566.7,116.1 1567.2,115.3 1567.7,113.8 1568.2,112.6 1568.7,110.2 1569.3,109.0 1569.8,108.2 1570.3,106.7 1570.9,105.3 1571.4,103.3 1571.9,102.0 1572.3,101.1 1572.8,99.8 1573.2,97.3 1573.6,96.6 1574.0,95.3 1574.3,93.7 1574.7,92.3 1575.0,90.6 1575.4,88.8 1575.7,88.3 1576.0,85.6 1576.4,84.9 1576.7,82.8 1577.1,81.6 1577.5,80.4 1577.9,78.5 1578.3,77.6 1578.7,76.5 1579.1,75.2 1579.5,73.0 1579.9,71.9 1580.3,70.1 1580.7,68.3 1581.2,67.2 1581.6,67.0 1582.1,64.1 1582.5,62.9 1583.0,61.6 1583.5,60.8 1584.0,59.0 1584.5,57.2 1585.0,55.8 1585.5,54.8 1586.0,53.3 1586.5,50.9 1587.0,50.5 1587.6,49.1 1588.1,47.8 1588.7,46.1 1589.3,45.1 1589.9,42.9 1590.5,42.2 1591.1,42.2 1591.8,39.6 1592.5,37.6 1593.2,37.1 1594.0,36.0 1594.8,34.6 1595.6,32.8 1596.4,31.8 1597.3,30.6 1598.1,30.9 1599.0,27.1 1599.9,26.6 1600.7,25.4 1601.5,24.1 1602.3,23.1 1603.1,22.3 1603.9,19.9 1604.7,19.1 1605.6,17.5 1606.5,17.1 1607.6,16.7 1608.7,14.3 1609.9,13.8 1611.1,12.8 1612.5,11.9 1613.9,11.6 1615.3,11.5 1616.8,10.6 1618.3,11.4 1620.3,10.5 1621.7,10.2 1623.1,11.8 1624.5,12.2 1625.8,13.4 1627.1,13.8 1628.3,14.9 1629.5,16.0 1630.5,16.1 1631.4,18.7 1632.3,19.6 1633.1,21.1 1633.8,21.4 1634.5,23.1 1635.2,24.5 1635.8,25.1 1636.5,27.4 1637.1,28.7 1637.8,30.1 1638.4,31.3 1638.9,33.2 1639.5,34.3 1640.0,35.6 1640.5,37.2 1641.0,38.2 1641.4,39.5 1641.9,41.5 1642.4,42.5 1642.8,44.1 1643.3,44.6 1643.8,46.9 1644.3,47.3 1644.8,49.3 1645.2,51.0 1645.8,53.7 1646.3,53.8 1646.8,55.7 1647.3,56.4 1647.8,58.0 1648.3,58.7 1648.8,61.5 1649.3,62.6 1649.8,64.2 1650.2,65.4 1650.7,66.6 1651.2,68.4 1651.7,69.4 1652.1,71.6 1652.6,72.6 1653.0,73.6 1653.5,74.6 1653.9,76.5 1654.3,77.5 1654.8,79.7 1655.2,80.9 1655.6,81.6 1656.0,84.4 1656.4,85.0 1656.8,85.8 1657.2,88.8 1657.6,89.4 1658.0,90.8 1658.4,92.2 1658.8,94.0 1659.2,95.4 1659.5,96.2 1659.9,98.3 1660.2,99.8 1660.6,101.4 1661.0,101.9 1661.3,103.9 1661.7,104.9 1662.0,106.7 1662.4,107.9 1662.8,110.2 1663.1,111.3 1663.5,112.8 1663.9,114.4 1664.3,115.3 1664.6,116.6 1665.0,118.1 1665.4,120.7 1665.7,121.4 1666.1,124.3 1666.4,124.9 1666.8,126.0 1667.1,127.9 1667.4,128.6 1667.8,130.5 1668.1,131.8 1668.4,133.8 1668.7,134.0 1669.0,135.8 1669.2,138.0 1669.5,139.6 1669.8,141.4 1670.1,142.1 1670.4,143.7 1670.7,144.4 1671.0,146.8 1671.3,148.3 1671.6,149.4 1671.9,151.1 1672.2,152.5 1672.6,154.1 1672.9,155.4 1673.2,157.6 1673.5,159.3 1673.9,159.7 1674.2,161.1 1674.5,162.0 1674.9,164.1 1675.2,166.2 1675.6,166.5 1675.9,168.1 1676.3,170.8 1676.7,170.5 1677.1,173.4 1677.5,174.6 1677.9,175.8 1678.3,176.9 1678.7,178.8 1679.1,180.8 1679.5,180.9 1679.9,183.8 1680.3,184.9 1680.7,185.6 1681.1,187.3 1681.5,189.2 1681.9,189.6 1682.2,190.9 1682.6,192.5 1683.0,194.0 1683.3,196.1 1683.7,197.9 1684.0,198.5 1684.3,199.7 1684.5,201.9 1684.8,203.0 1685.0,204.7 1685.3,206.4 1685.5,208.1 1685.7,209.4 1685.9,211.0 1686.2,212.2 1686.4,214.4 1686.7,214.8 1686.9,218.2 1687.2,218.2 1687.5,220.0 1687.8,221.3 1688.1,222.0 1688.5,224.1 1688.8,226.0 1689.2,227.4 1689.6,228.7 1690.0,229.7 1690.4,231.0 1690.8,232.2 1691.2,234.9 1691.5,236.4 1691.9,236.9 1692.3,238.8 1692.6,239.9 1692.9,241.5 1693.2,242.8 1693.5,245.0 1693.8,246.0 1694.1,247.2 1694.3,249.5 1694.6,249.6 1694.9,252.1 1695.2,253.4 1695.4,254.3 1695.7,255.3 1696.0,256.8 1696.3,258.9 1696.7,260.2 1697.0,261.0 1697.4,263.4 1697.7,264.7 1698.1,266.3 1698.5,267.7 1698.9,269.1 1699.2,270.4 1699.6,272.4 1700.0,273.5 1700.4,275.8 1700.8,276.6 1701.1,277.5 1701.5,280.6 1701.8,281.1 1702.2,282.9 1702.5,283.9 1702.8,284.7 1703.2,287.1 1703.5,288.5 1703.8,288.8 1704.2,290.7 1704.5,293.0 1704.8,293.8 1705.1,295.4 1705.5,297.4 1705.8,299.6 1706.1,300.1 1706.4,302.3 1706.7,302.3 1707.1,304.8 1707.4,305.9 1707.7,306.3 1708.0,308.8 1708.3,309.9 1708.6,311.4 1708.9,314.6 1709.3,313.6 1709.6,316.2 1710.0,316.5 1710.4,319.2 1710.8,320.4 1711.2,322.4 1711.6,323.5 1712.1,324.8 1712.6,325.8 1713.0,327.4 1713.5,329.6 1714.0,330.9 1714.6,331.3 1715.1,333.1 1715.6,335.2 1716.2,336.5 1716.7,338.5 1717.3,338.4 1717.9,340.5 1718.5,341.5 1719.1,343.2 1719.7,344.3 1720.3,346.1 1720.9,347.7 1721.5,348.1 1722.2,348.5 1722.9,351.4 1723.6,352.5 1724.3,353.5 1725.0,355.5 1725.7,357.5 1726.5,357.9 1727.3,358.6 1728.1,360.1 1728.9,361.3 1729.7,362.4 1730.5,363.7 1731.4,364.9 1732.2,366.2 1733.1,367.8 1734.0,368.8 1734.8,370.2 1735.7,370.8 1736.6,372.2 1737.4,374.2 1738.4,374.2 1739.3,376.1 1740.3,377.1 1741.4,377.9 1742.6,379.3 1743.8,380.0 1745.0,380.4 1746.2,382.4 1747.5,383.0 1748.8,382.3 1750.2,384.0 1751.6,385.1 1753.0,386.2 1754.4,386.2 1755.8,385.3 1757.3,386.2 1758.7,386.5 1760.2,386.8 1761.6,386.7 1763.1,387.9 1764.6,388.2 1766.0,388.2 1767.5,388.9 1769.0,388.7 1770.5,389.7 1772.0,389.7 1773.5,389.9 1774.9,389.5 1776.4,388.8 1777.9,389.8 1779.4,390.2 1780.9,388.6 1782.4,390.0 1783.9,391.2 1785.4,389.8 1786.9,390.1 1788.4,390.9 1789.9,391.2 1791.4,390.2 1792.9,391.4 1794.4,390.5 1795.9,390.5 1797.4,390.2 1798.9,390.6 1800.4,391.2 1801.9,389.8 1803.4,390.5 1804.9,389.9 1806.4,390.4 1807.9,390.7 1809.4,390.8 1810.9,390.4 1812.4,390.9 1813.9,390.6 1815.4,391.2 1816.9,389.9 1818.4,389.9 1819.9,391.7 1821.4,390.1 1822.9,389.4 1824.4,390.0 1825.9,390.8 1827.4,391.1 1828.9,391.9 1830.4,391.9 1831.9,390.7 1833.4,391.5 1834.9,391.0 1836.4,391.0 1837.9,391.4 1839.4,391.6 1840.9,390.8 1842.4,391.6 1843.9,391.2 1845.4,391.0 1846.9,390.7 1848.4,391.2 1849.9,391.5 1851.4,391.2 1852.9,390.9 1854.4,391.5 1855.9,391.2 1857.4,390.5 1858.9,391.6 1860.4,389.6 1861.9,390.4 1863.4,390.2 1864.9,391.3 1866.4,391.1 1867.9,391.1 1869.4,391.0 1870.9,390.2 1872.2,390.7" fill="none" stroke="#ff0000" stroke-width="1.25" stroke-linejoin="round" stroke-linecap="butt" />
<path d="M1349.2,391.0 1350.7,391.3 1352.2,390.3 1353.7,390.3 1355.2,390.6 1356.7,390.9 1358.2,390.9 1359.7,391.1 1361.2,391.2 1362.7,390.8 1364.2,391.3 1365.7,391.6 1367.2,391.4 1368.7,391.7 1370.2,392.2 1371.7,390.9 1373.2,392.0 1374.7,390.7 1376.2,391.2 1377.7,391.7 1379.2,391.9 1380.7,391.5 1382.2,391.5 1383.7,391.8 1385.2,391.2 1386.7,391.5 1388.2,390.8 1389.7,390.3 1391.2,390.0 1392.7,391.8 1394.2,391.4 1395.7,390.8 1397.2,390.7 1398.7,390.7 1400.2,390.4 1401.7,390.5 1403.2,390.7 1404.7,391.4 1406.2,391.0 1407.7,390.0 1409.2,391.3 1410.7,391.1 1412.2,390.7 1413.7,390.6 1415.2,390.8 1416.7,390.5 1418.2,390.0 1419.7,391.2 1421.2,390.7 1422.7,390.3 1424.2,389.6 1425.7,389.4 1427.2,390.3 1428.7,389.8 1430.2,389.8 1431.7,388.9 1433.1,389.3 1434.6,388.5 1436.1,388.8 1437.6,388.8 1439.1,389.4 1440.6,388.1 1442.1,387.8 1443.6,388.4 1445.1,388.3 1446.5,386.9 1448.0,387.7 1449.5,387.7 1451.0,386.6 1452.4,386.4 1453.8,386.2 1455.2,385.6 1456.6,384.6 1457.9,383.9 1459.3,383.5 1460.6,383.0 1461.9,381.8 1463.2,380.8 1464.4,380.7 1465.7,379.9 1466.9,379.1 1468.1,377.5 1469.3,377.5 1470.4,376.9 1471.5,374.4 1472.5,373.8 1473.6,372.9 1474.6,370.5 1475.6,370.2 1476.6,368.6 1477.6,367.8 1478.5,366.3 1479.4,365.5 1480.4,364.5 1481.3,363.2 1482.1,362.7 1483.0,360.9 1483.9,360.0 1484.7,358.7 1485.5,357.1 1486.3,355.9 1487.2,355.1 1488.0,353.8 1488.7,352.7 1489.5,350.5 1490.2,349.8 1491.0,348.2 1491.7,347.0 1492.4,346.0 1493.1,345.1 1493.9,342.3 1494.6,341.3 1495.3,340.8 1496.0,339.2 1496.7,338.5 1497.4,336.8 1498.1,335.2 1499.0,333.6 1499.7,333.0 1500.4,330.5 1501.1,329.3 1501.8,327.3 1502.5,326.5 1503.2,325.4 1503.8,323.8 1504.4,322.7 1505.0,320.6 1505.7,319.7 1506.2,318.5 1506.8,317.1 1507.3,316.4 1507.9,313.4 1508.4,313.3 1508.9,311.8 1509.4,309.1 1509.8,308.1 1510.3,307.4 1510.8,306.6 1511.3,303.9 1511.8,302.8 1512.2,301.5 1512.7,299.5 1513.2,298.8 1513.7,297.9 1514.2,295.6 1514.7,293.8 1515.2,293.1 1515.7,291.6 1516.2,289.2 1516.7,289.3 1517.2,287.8 1517.7,286.0 1518.2,284.6 1518.6,283.1 1519.1,281.6 1519.6,280.4 1520.1,278.3 1520.6,277.3 1521.1,275.9 1521.6,275.0 1522.1,273.3 1522.6,271.7 1523.1,270.3 1523.6,269.7 1524.1,267.7 1524.6,266.1 1525.1,263.5 1525.6,263.5 1526.1,261.3 1526.6,260.7 1527.0,259.4 1527.5,256.2 1527.9,256.4 1528.4,255.7 1528.8,253.2 1529.3,252.7 1529.7,249.7 1530.1,248.5 1530.5,247.8 1531.0,245.7 1531.4,245.4 1531.8,243.8 1532.3,241.4 1532.7,240.5 1533.1,239.5 1533.5,237.9 1534.0,236.5 1534.4,234.5 1534.9,232.9 1535.3,232.1 1535.7,229.6 1536.2,228.9 1536.6,227.7 1537.0,225.6 1537.4,224.3 1537.9,223.8 1538.3,221.3 1538.7,220.2 1539.1,218.8 1539.5,217.5 1539.9,215.5 1540.2,214.6 1540.6,212.3 1541.0,210.7 1541.3,211.2 1541.7,209.5 1542.1,206.4 1542.4,205.6 1542.8,203.8 1543.2,202.8 1543.6,201.4 1544.0,199.7 1544.4,199.2 1544.8,196.5 1545.2,194.9 1545.6,194.2 1546.1,193.3 1546.5,189.8 1547.0,190.1 1547.4,188.4 1547.9,187.4 1548.3,186.1 1548.8,183.8 1549.2,183.1 1549.6,181.3 1550.1,179.8 1550.5,178.1 1550.8,176.4 1551.2,176.2 1551.6,173.6 1552.0,172.4 1552.3,171.4 1552.7,168.9 1553.0,167.9 1553.4,166.3 1553.7,165.3 1554.1,163.5 1554.4,162.1 1554.8,160.3 1555.1,159.3 1555.5,157.9 1555.9,156.6 1556.2,154.6 1556.6,153.4 1557.0,152.3 1557.3,150.7 1557.7,148.4 1558.1,147.4 1558.5,146.4 1558.8,144.9 1559.2,144.2 1559.6,142.0 1559.9,139.9 1560.3,138.7 1560.6,137.7 1561.0,135.7 1561.3,134.6 1561.7,132.9 1562.0,131.8 1562.4,130.5 1562.7,128.8 1563.1,128.0 1563.4,125.0 1563.8,124.6 1564.1,123.0 1564.5,121.6 1564.9,119.6 1565.3,118.3 1565.8,118.0 1566.2,116.2 1566.7,114.6 1567.2,113.4 1567.8,110.9 1568.3,110.7 1568.8,108.1 1569.4,106.8 1569.9,105.8 1570.4,105.0 1571.0,102.6 1571.4,102.2 1571.9,101.1 1572.3,99.4 1572.7,97.6 1573.1,95.4 1573.5,94.2 1573.9,92.6 1574.2,91.5 1574.5,90.0 1574.9,88.4 1575.2,88.0 1575.6,86.6 1575.9,84.5 1576.3,82.9 1576.6,81.8 1577.0,80.0 1577.4,77.3 1577.8,76.9 1578.2,75.6 1578.6,74.6 1579.0,73.2 1579.4,70.6 1579.9,69.2 1580.3,68.0 1580.7,67.0 1581.2,64.3 1581.6,64.5 1582.1,62.3 1582.6,60.6 1583.0,59.4 1583.5,58.9 1584.0,56.6 1584.5,55.2 1585.0,53.7 1585.6,52.8 1586.1,51.5 1586.6,49.7 1587.2,48.9 1587.7,47.7 1588.3,46.1 1588.9,44.6 1589.5,42.9 1590.1,41.4 1590.7,41.0 1591.4,38.8 1592.1,37.6 1592.9,37.4 1593.7,35.0 1594.5,33.9 1595.3,32.5 1596.1,31.9 1597.0,29.7 1597.8,28.8 1598.7,28.0 1599.5,25.6 1600.4,25.5 1601.2,23.2 1602.0,22.7 1602.8,22.1 1603.6,19.8 1604.4,19.4 1605.3,18.5 1606.3,16.4 1607.3,16.0 1608.5,14.5 1609.7,13.7 1611.0,12.4 1612.3,11.7 1613.8,11.7 1615.2,11.7 1616.7,10.5 1618.2,10.4 1620.1,11.5 1621.6,11.9 1622.9,12.3 1624.3,12.4 1625.6,13.9 1626.8,14.6 1628.0,14.6 1629.0,15.8 1630.0,18.0 1630.9,18.6 1631.7,20.7 1632.4,22.3 1633.1,22.3 1633.8,25.0 1634.5,25.1 1635.1,26.8 1635.8,28.6 1636.4,30.3 1637.0,30.9 1637.6,32.4 1638.1,33.2 1638.6,35.6 1639.1,36.9 1639.6,38.4 1640.1,38.6 1640.6,41.1 1641.0,42.5 1641.5,44.2 1642.0,43.9 1642.4,46.8 1642.9,47.5 1643.4,49.3 1643.9,50.6 1644.4,51.5 1644.9,53.8 1645.4,56.1 1645.9,57.1 1646.4,58.3 1646.9,59.5 1647.4,60.6 1647.9,61.7 1648.4,63.2 1648.9,64.9 1649.4,65.8 1649.9,67.1 1650.3,68.3 1650.8,70.1 1651.2,72.2 1651.7,74.2 1652.1,74.4 1652.6,75.5 1653.0,77.7 1653.4,79.1 1653.9,81.2 1654.3,81.9 1654.7,84.0 1655.1,85.3 1655.5,86.6 1655.9,87.9 1656.3,89.8 1656.7,90.3 1657.1,92.8 1657.5,93.5 1657.9,95.1 1658.2,96.4 1658.6,97.5 1658.9,99.6 1659.3,100.1 1659.7,102.0 1660.0,103.3 1660.4,105.4 1660.7,107.0 1661.1,107.6 1661.5,110.7 1661.8,110.3 1662.2,112.5 1662.6,113.6 1663.0,115.7 1663.3,117.0 1663.7,118.2 1664.1,119.0 1664.4,121.0 1664.8,122.8 1665.1,123.9 1665.5,125.5 1665.8,125.8 1666.2,128.6 1666.5,130.5 1666.8,130.9 1667.1,132.5 1667.4,134.4 1667.7,135.4 1668.0,137.6 1668.3,139.3 1668.5,140.3 1668.8,141.9 1669.1,143.6 1669.4,144.8 1669.7,145.5 1670.0,147.8 1670.3,148.5 1670.6,150.3 1671.0,152.4 1671.3,154.1 1671.6,155.5 1671.9,156.5 1672.2,157.8 1672.6,159.3 1672.9,160.9 1673.3,162.8 1673.6,164.0 1673.9,165.6 1674.3,166.9 1674.7,168.3 1675.0,169.3 1675.4,171.4 1675.8,172.3 1676.2,174.0 1676.6,175.2 1677.0,175.7 1677.4,178.2 1677.8,179.9 1678.2,180.4 1678.6,182.9 1679.0,184.8 1679.4,185.6 1679.8,187.8 1680.2,189.2 1680.6,189.6 1680.9,190.8 1681.3,192.3 1681.7,194.4 1682.1,194.7 1682.4,197.3 1682.7,198.9 1683.0,199.0 1683.3,201.0 1683.5,203.4 1683.8,204.8 1684.0,205.2 1684.2,207.2 1684.5,209.1 1684.7,210.4 1684.9,211.5 1685.2,212.8 1685.4,215.1 1685.6,216.1 1685.9,217.8 1686.2,219.5 1686.5,221.1 1686.8,221.4 1687.2,224.1 1687.5,225.7 1687.9,226.4 1688.3,228.5 1688.7,229.1 1689.1,231.0 1689.5,232.5 1689.9,234.1 1690.2,234.4 1690.6,236.7 1691.0,237.7 1691.3,239.0 1691.6,240.2 1691.9,242.5 1692.2,243.3 1692.5,245.8 1692.8,246.8 1693.1,248.4 1693.3,249.9 1693.6,250.7 1693.9,253.2 1694.2,253.8 1694.5,255.4 1694.7,257.3 1695.1,258.8 1695.4,259.5 1695.7,262.0 1696.1,263.3 1696.4,264.7 1696.8,265.3 1697.2,267.2 1697.6,269.1 1697.9,270.4 1698.3,271.5 1698.7,273.2 1699.1,274.9 1699.5,275.3 1699.8,277.3 1700.2,278.8 1700.5,279.8 1700.9,282.5 1701.2,282.4 1701.5,284.6 1701.9,286.6 1702.2,288.2 1702.5,289.7 1702.9,290.9 1703.2,292.2 1703.5,293.6 1703.8,295.5 1704.2,297.5 1704.5,297.6 1704.8,299.2 1705.2,300.8 1705.5,302.5 1705.8,304.6 1706.1,305.7 1706.4,308.2 1706.7,308.4 1707.0,309.8 1707.3,312.0 1707.6,312.2 1708.0,314.9 1708.3,315.6 1708.7,316.7 1709.1,318.4 1709.5,319.9 1709.9,321.6 1710.3,322.2 1710.8,324.8 1711.2,325.8 1711.7,326.7 1712.2,328.7 1712.7,329.3 1713.2,331.9 1713.8,332.6 1714.3,333.8 1714.8,335.7 1715.4,337.0 1715.9,338.5 1716.5,340.6 1717.1,341.1 1717.6,342.9 1718.4,344.1 1719.0,345.3 1719.6,347.5 1720.2,347.8 1720.8,349.8 1721.4,351.3 1722.1,352.7 1722.8,354.4 1723.4,355.4 1724.1,356.4 1724.8,357.6 1725.5,359.4 1726.2,361.3 1727.0,362.9 1727.7,362.7 1728.5,365.3 1729.3,365.7 1730.1,367.2 1730.9,367.4 1731.8,369.4 1732.6,370.4 1733.5,372.1 1734.4,372.8 1735.3,374.5 1736.2,375.9 1737.2,376.3 1738.3,377.9 1739.5,379.9 1740.6,379.2 1741.9,381.2 1743.1,381.1 1744.4,382.3 1745.7,383.2 1747.1,384.3 1748.4,383.8 1749.8,384.8 1751.3,385.4 1752.7,385.7 1754.1,385.5 1755.5,385.6 1757.0,386.0 1758.4,387.9 1759.9,387.3 1761.4,387.8 1762.9,387.4 1764.3,388.8 1765.8,390.0 1767.3,388.9 1768.8,389.2 1770.3,388.9 1771.7,389.7 1773.2,390.0 1774.7,390.2 1776.2,389.5 1777.7,390.1 1779.2,389.7 1780.7,390.5 1782.2,390.6 1783.7,390.1 1785.2,390.3 1786.7,390.7 1788.2,390.2 1789.7,390.7 1791.2,390.1 1792.7,389.7 1794.2,390.6 1795.7,390.4 1797.2,391.1 1798.7,390.9 1800.2,391.9 1801.7,391.0 1803.2,390.3 1804.7,390.3 1806.2,389.7 1807.7,390.9 1809.2,390.5 1810.7,390.8 1812.2,391.0 1813.7,390.4 1815.2,390.5 1816.7,390.7 1818.2,391.1 1819.7,390.9 1821.2,390.7 1822.7,390.7 1824.2,391.2 1825.7,390.9 1827.2,390.6 1828.7,390.0 1830.2,391.1 1831.7,390.9 1833.2,390.0 1834.7,391.5 1836.2,391.2 1837.7,391.1 1839.2,390.6 1840.7,391.0 1842.2,391.5 1843.7,391.1 1845.2,391.2 1846.7,391.1 1848.2,391.8 1849.7,389.7 1851.2,391.6 1852.7,390.6 1854.2,391.0 1855.7,390.6 1857.2,390.0 1858.7,391.6 1860.2,389.9 1861.7,390.9 1863.2,390.2 1864.7,391.0 1866.2,391.0 1867.7,391.9 1869.2,390.7 1870.6,390.9" fill="none" stroke="#0000ff" stroke-width="1.25" stroke-linejoin="round" stroke-linecap="butt" />
<path d="M1349.7,390.9 1351.2,391.4 1352.7,391.3 1354.2,391.3 1355.7,391.5 1357.2,391.6 1358.7,391.4 1360.2,391.4 1361.7,390.7 1363.2,391.6 1364.7,391.1 1366.2,391.8 1367.7,391.9 1369.2,390.4 1370.7,391.9 1372.2,390.9 1373.7,390.7 1375.2,391.1 1376.7,391.4 1378.2,391.7 1379.7,392.6 1381.2,390.4 1382.7,391.0 1384.2,391.3 1385.7,390.9 1387.2,390.3 1388.7,391.0 1390.2,391.1 1391.7,391.3 1393.2,390.9 1394.7,391.7 1396.2,391.2 1397.7,391.4 1399.2,390.5 1400.7,389.7 1402.2,391.4 1403.7,391.1 1405.2,391.3 1406.7,390.9 1408.2,390.7 1409.7,390.6 1411.2,391.2 1412.7,390.3 1414.2,390.4 1415.7,390.5 1417.2,390.6 1418.7,391.5 1420.2,390.0 1421.7,391.5 1423.2,390.2 1424.7,390.1 1426.2,389.7 1427.7,390.3 1429.2,390.5 1430.7,389.1 1432.2,389.4 1433.6,389.2 1435.1,388.9 1436.6,388.5 1438.1,389.1 1439.6,389.1 1441.1,388.7 1442.6,388.1 1444.1,388.3 1445.6,388.4 1447.0,387.9 1448.5,387.9 1450.0,387.1 1451.5,387.2 1452.9,386.7 1454.3,385.6 1455.7,385.2 1457.1,384.3 1458.4,384.1 1459.8,383.3 1461.1,382.7 1462.4,382.0 1463.7,380.9 1464.9,380.6 1466.2,379.0 1467.4,378.7 1468.6,376.6 1469.8,376.3 1470.9,376.1 1472.0,374.6 1473.0,373.8 1474.1,372.1 1475.1,370.7 1476.1,369.9 1477.1,369.3 1478.1,367.9 1479.0,367.8 1479.9,366.7 1480.9,365.0 1481.8,363.0 1482.6,362.3 1483.5,360.7 1484.4,359.5 1485.2,358.3 1486.0,357.3 1486.8,355.8 1487.7,354.7 1488.5,352.5 1489.2,351.9 1490.0,351.2 1490.7,349.8 1491.5,347.6 1492.2,347.1 1492.9,345.7 1493.6,343.7 1494.4,343.1 1495.1,341.9 1495.8,340.3 1496.5,339.9 1497.2,337.4 1497.9,336.5 1498.6,335.3 1499.5,333.5 1500.2,331.7 1500.9,330.9 1501.6,329.5 1502.3,329.1 1503.0,327.3 1503.7,325.3 1504.3,324.6 1504.9,322.1 1505.5,321.3 1506.2,320.6 1506.7,317.5 1507.3,317.6 1507.8,315.9 1508.4,314.0 1508.9,313.3 1509.4,310.8 1509.9,310.5 1510.3,308.6 1510.8,307.7 1511.3,305.2 1511.8,304.6 1512.3,303.3 1512.7,301.0 1513.2,300.9 1513.7,298.1 1514.2,298.3 1514.7,296.8 1515.2,294.0 1515.7,293.8 1516.2,291.8 1516.7,290.3 1517.2,288.9 1517.7,286.5 1518.2,285.9 1518.7,284.4 1519.1,283.4 1519.6,280.6 1520.1,280.2 1520.6,279.3 1521.1,277.1 1521.6,276.3 1522.1,274.9 1522.6,273.0 1523.1,271.9 1523.6,270.8 1524.1,268.2 1524.6,267.8 1525.1,266.0 1525.6,264.7 1526.1,263.0 1526.6,261.6 1527.1,260.8 1527.5,259.2 1528.0,257.4 1528.4,255.3 1528.9,254.9 1529.3,253.5 1529.8,252.8 1530.2,250.1 1530.6,249.1 1531.0,247.4 1531.5,244.8 1531.9,244.3 1532.3,243.4 1532.8,241.4 1533.2,241.2 1533.6,239.2 1534.0,237.3 1534.5,236.6 1534.9,234.4 1535.4,233.7 1535.8,231.9 1536.2,230.5 1536.7,228.6 1537.1,227.5 1537.5,226.2 1537.9,224.6 1538.4,223.4 1538.8,222.5 1539.2,220.1 1539.6,218.4 1540.0,217.7 1540.4,215.6 1540.7,215.2 1541.1,212.8 1541.5,211.1 1541.8,210.2 1542.2,208.1 1542.6,206.9 1542.9,206.1 1543.3,203.3 1543.7,202.9 1544.1,201.1 1544.5,199.9 1544.9,198.9 1545.3,197.2 1545.7,195.9 1546.1,193.9 1546.6,193.4 1547.0,191.5 1547.5,188.9 1547.9,189.0 1548.4,186.3 1548.8,186.1 1549.3,183.6 1549.7,182.9 1550.1,181.8 1550.6,179.7 1551.0,178.5 1551.3,177.2 1551.7,174.6 1552.1,174.9 1552.5,172.4 1552.8,171.3 1553.2,169.7 1553.5,168.6 1553.9,166.7 1554.2,164.6 1554.6,164.2 1554.9,161.2 1555.3,161.3 1555.6,158.6 1556.0,158.5 1556.4,156.8 1556.7,155.1 1557.1,153.4 1557.5,152.2 1557.8,150.3 1558.2,149.6 1558.6,148.0 1559.0,146.8 1559.3,144.4 1559.7,143.1 1560.1,141.7 1560.4,139.5 1560.8,138.4 1561.1,137.8 1561.5,136.8 1561.8,134.4 1562.2,132.8 1562.5,132.5 1562.9,129.4 1563.2,129.3 1563.6,126.5 1563.9,126.2 1564.3,124.4 1564.6,123.3 1565.0,121.7 1565.4,119.9 1565.8,118.6 1566.3,117.0 1566.7,116.3 1567.2,113.9 1567.7,113.5 1568.3,111.5 1568.8,109.6 1569.3,109.4 1569.9,106.8 1570.4,105.4 1570.9,104.5 1571.5,103.3 1571.9,102.3 1572.4,100.9 1572.8,98.6 1573.2,97.4 1573.6,95.8 1574.0,93.6 1574.4,92.9 1574.7,90.6 1575.0,90.1 1575.4,88.2 1575.7,86.9 1576.1,86.0 1576.4,84.5 1576.8,83.4 1577.1,80.6 1577.5,80.1 1577.9,79.1 1578.3,76.4 1578.7,75.0 1579.1,73.8 1579.5,72.8 1579.9,70.7 1580.4,70.2 1580.8,68.0 1581.2,65.3 1581.7,65.6 1582.1,64.1 1582.6,62.7 1583.1,62.0 1583.5,59.6 1584.0,58.2 1584.5,57.1 1585.0,55.1 1585.5,54.0 1586.1,52.5 1586.6,51.5 1587.1,49.6 1587.7,48.2 1588.2,46.5 1588.8,46.6 1589.4,44.6 1590.0,43.4 1590.6,42.3 1591.2,40.7 1591.9,38.9 1592.6,37.6 1593.4,37.7 1594.2,34.6 1595.0,33.6 1595.8,33.0 1596.6,31.5 1597.5,30.6 1598.3,28.0 1599.2,27.1 1600.0,26.4 1600.9,24.5 1601.7,24.8 1602.5,22.3 1603.3,20.9 1604.1,20.0 1604.9,19.0 1605.8,18.4 1606.8,16.7 1607.8,15.3 1609.0,14.7 1610.2,13.9 1611.5,12.7 1612.8,13.0 1614.3,11.6 1615.7,10.7 1617.2,11.4 1618.7,11.3 1620.6,10.3 1622.0,11.8 1623.4,11.6 1624.8,12.8 1626.0,13.6 1627.2,14.3 1628.4,15.7 1629.4,16.7 1630.4,17.6 1631.2,18.9 1632.0,20.6 1632.7,21.4 1633.5,23.0 1634.1,24.5 1634.8,26.1 1635.4,26.1 1636.1,28.7 1636.7,29.0 1637.3,31.5 1637.9,33.0 1638.4,34.4 1638.9,35.4 1639.4,36.2 1639.9,38.2 1640.4,39.2 1640.9,41.6 1641.3,42.8 1641.8,44.3 1642.3,45.3 1642.7,46.1 1643.2,48.3 1643.7,49.7 1644.2,51.9 1644.7,52.7 1645.2,54.1 1645.7,54.6 1646.2,56.4 1646.7,57.3 1647.2,60.7 1647.7,62.2 1648.2,62.7 1648.7,64.3 1649.2,65.3 1649.7,66.7 1650.2,67.3 1650.6,69.7 1651.1,70.6 1651.5,72.9 1652.0,73.8 1652.4,75.3 1652.9,76.9 1653.3,78.1 1653.7,79.3 1654.2,80.8 1654.6,81.7 1655.0,83.8 1655.4,84.9 1655.8,86.7 1656.2,88.0 1656.6,89.7 1657.0,91.2 1657.4,92.5 1657.8,94.1 1658.1,94.9 1658.5,97.2 1658.9,97.4 1659.2,99.9 1659.6,101.5 1659.9,103.2 1660.3,104.2 1660.7,105.9 1661.0,106.4 1661.4,108.7 1661.7,109.5 1662.1,111.6 1662.5,113.6 1662.9,113.7 1663.2,115.3 1663.6,117.7 1664.0,118.6 1664.3,120.7 1664.7,121.2 1665.1,122.5 1665.4,124.9 1665.7,126.6 1666.1,126.8 1666.4,128.7 1666.7,130.7 1667.0,131.2 1667.4,132.3 1667.6,134.2 1667.9,136.2 1668.2,138.2 1668.5,139.1 1668.8,140.2 1669.1,141.9 1669.4,142.3 1669.7,144.6 1670.0,145.7 1670.3,147.6 1670.6,149.8 1670.9,150.1 1671.2,152.5 1671.5,153.8 1671.9,155.2 1672.2,156.3 1672.5,158.1 1672.8,159.9 1673.2,161.8 1673.5,162.1 1673.9,164.3 1674.2,165.1 1674.6,167.3 1674.9,168.6 1675.3,168.7 1675.7,170.9 1676.1,172.1 1676.4,173.9 1676.8,175.5 1677.2,176.9 1677.7,178.7 1678.1,180.0 1678.5,181.6 1678.9,183.3 1679.3,183.9 1679.7,185.5 1680.1,186.4 1680.4,188.2 1680.8,190.5 1681.2,191.8 1681.6,193.3 1682.0,195.3 1682.3,196.1 1682.7,197.5 1683.0,199.1 1683.2,201.1 1683.5,201.3 1683.8,202.4 1684.0,205.1 1684.2,205.6 1684.5,208.0 1684.7,208.8 1684.9,210.3 1685.2,212.1 1685.4,212.2 1685.6,214.5 1685.9,216.7 1686.2,218.8 1686.5,220.3 1686.8,221.5 1687.1,222.2 1687.4,223.8 1687.8,226.2 1688.2,227.2 1688.6,228.5 1689.0,229.8 1689.4,231.2 1689.8,232.4 1690.1,233.6 1690.5,235.3 1690.9,237.3 1691.2,238.4 1691.6,240.0 1691.9,241.6 1692.2,243.1 1692.5,243.3 1692.8,246.1 1693.0,247.3 1693.3,249.2 1693.6,251.0 1693.9,251.8 1694.1,253.5 1694.4,254.6 1694.7,256.4 1695.0,257.8 1695.3,258.6 1695.7,261.3 1696.0,262.5 1696.3,264.5 1696.7,264.7 1697.1,266.6 1697.5,266.8 1697.8,268.7 1698.2,270.9 1698.6,271.9 1699.0,273.5 1699.4,275.0 1699.7,276.0 1700.1,278.4 1700.4,280.0 1700.8,281.9 1701.1,281.9 1701.5,283.7 1701.8,284.9 1702.1,286.3 1702.5,288.7 1702.8,290.7 1703.1,291.0 1703.5,292.5 1703.8,293.7 1704.1,294.9 1704.4,296.4 1704.8,298.8 1705.1,300.2 1705.4,301.4 1705.7,302.7 1706.0,303.2 1706.3,305.4 1706.6,307.2 1707.0,308.2 1707.3,310.3 1707.6,312.2 1707.9,312.9 1708.2,314.6 1708.6,315.7 1708.9,317.6 1709.3,319.0 1709.7,319.5 1710.2,321.4 1710.6,322.5 1711.1,325.0 1711.5,326.6 1712.0,327.7 1712.5,328.1 1713.0,330.1 1713.5,330.9 1714.1,333.8 1714.6,334.3 1715.2,336.0 1715.7,337.1 1716.3,339.4 1716.8,339.5 1717.4,342.2 1717.9,343.1 1718.7,344.4 1719.3,345.7 1719.9,348.1 1720.5,348.8 1721.1,350.4 1721.8,351.5 1722.4,353.5 1723.1,354.3 1723.8,355.8 1724.5,357.2 1725.2,359.1 1725.9,359.8 1726.6,360.1 1727.3,363.4 1728.1,363.9 1728.9,364.6 1729.6,365.9 1730.5,368.0 1731.3,368.6 1732.1,369.8 1733.0,369.8 1733.9,372.4 1734.8,373.4 1735.7,375.7 1736.6,375.8 1737.7,376.7 1738.7,378.1 1739.9,379.3 1741.1,380.1 1742.3,380.8 1743.6,381.9 1744.9,381.7 1746.2,382.4 1747.5,384.0 1748.9,384.6 1750.3,384.7 1751.7,384.2 1753.2,385.2 1754.6,384.5 1756.0,387.9 1757.5,387.3 1758.9,387.8 1760.4,387.7 1761.9,387.4 1763.3,388.6 1764.8,388.1 1766.3,388.7 1767.8,388.2 1769.3,388.5 1770.8,390.0 1772.2,390.0 1773.7,389.1 1775.2,390.2 1776.7,389.8 1778.2,390.2 1779.7,391.2 1781.2,390.2 1782.7,390.3 1784.2,390.6 1785.7,390.2 1787.2,391.0 1788.7,389.9 1790.2,390.1 1791.7,390.1 1793.2,390.6 1794.7,391.9 1796.2,390.3 1797.7,390.4 1799.2,391.1 1800.7,390.3 1802.2,390.4 1803.7,390.7 1805.2,389.9 1806.7,390.6 1808.2,390.9 1809.7,390.9 1811.2,390.2 1812.7,391.9 1814.2,390.0 1815.7,390.2 1817.2,390.0 1818.7,389.9 1820.2,390.5 1821.7,390.0 1823.2,391.1 1824.7,390.6 1826.2,391.3 1827.7,390.6 1829.2,390.7 1830.7,390.9 1832.2,391.2 1833.7,390.6 1835.2,391.0 1836.7,391.2 1838.2,390.3 1839.7,390.6 1841.2,391.0 1842.7,391.0 1844.2,391.0 1845.7,391.2 1847.2,391.0 1848.7,391.7 1850.2,391.4 1851.7,390.8 1853.2,391.1 1854.7,391.5 1856.2,390.9 1857.7,390.8 1859.2,390.6 1860.7,390.1 1862.2,391.1 1863.7,391.5 1865.2,391.0 1866.7,389.9 1868.2,391.1 1869.7,391.0 1870.8,389.9" fill="none" stroke="#000080" stroke-width="1.25" stroke-linejoin="round" stroke-linecap="butt" />
<path d="M1350.0,391.7 1351.5,389.8 1353.0,391.1 1354.5,392.0 1356.0,390.7 1357.5,391.3 1359.0,392.0 1360.5,390.7 1362.0,391.7 1363.5,392.2 1365.0,391.5 1366.5,392.1 1368.0,391.2 1369.5,391.0 1371.0,391.5 1372.5,390.5 1374.0,391.8 1375.5,391.2 1377.0,390.6 1378.5,391.8 1380.0,391.5 1381.5,391.0 1383.0,390.9 1384.5,391.3 1386.0,390.4 1387.5,390.6 1389.0,391.8 1390.5,391.3 1392.0,391.7 1393.5,391.2 1395.0,391.9 1396.5,390.5 1398.0,391.7 1399.5,391.5 1401.0,391.6 1402.5,391.8 1404.0,390.8 1405.5,391.0 1407.0,391.9 1408.5,391.5 1410.0,391.3 1411.5,390.1 1413.0,391.7 1414.5,390.9 1416.0,391.1 1417.5,389.7 1419.0,390.6 1420.5,389.2 1422.0,390.7 1423.5,390.2 1425.0,390.2 1426.5,389.5 1428.0,390.0 1429.5,389.7 1431.0,388.8 1432.5,389.6 1433.9,389.2 1435.4,388.5 1436.9,389.5 1438.4,388.2 1439.9,388.3 1441.4,387.6 1442.9,387.5 1444.4,388.4 1445.9,389.2 1447.3,387.4 1448.8,387.3 1450.3,387.0 1451.8,387.4 1453.2,387.6 1454.6,386.1 1456.0,385.2 1457.4,385.2 1458.7,384.5 1460.1,383.3 1461.4,382.8 1462.7,381.6 1464.0,381.3 1465.2,379.7 1466.5,380.3 1467.7,379.4 1468.9,376.7 1470.1,375.7 1471.2,375.4 1472.3,374.7 1473.3,374.3 1474.4,372.4 1475.4,372.1 1476.4,369.6 1477.4,369.1 1478.4,368.0 1479.3,366.4 1480.2,365.3 1481.2,364.9 1482.1,363.6 1482.9,362.7 1483.8,359.9 1484.7,360.5 1485.5,359.4 1486.3,358.4 1487.1,356.0 1488.0,354.4 1488.8,353.8 1489.5,352.2 1490.3,351.4 1491.0,348.3 1491.8,348.1 1492.5,347.1 1493.2,345.1 1493.9,343.8 1494.7,343.9 1495.4,342.0 1496.1,339.8 1496.8,339.9 1497.5,337.5 1498.2,335.9 1498.9,334.6 1499.6,333.4 1500.3,332.7 1501.0,331.1 1501.7,329.9 1502.4,328.2 1503.1,327.4 1503.7,325.3 1504.4,324.6 1505.0,322.4 1505.6,322.2 1506.3,320.7 1506.8,318.8 1507.4,317.6 1508.0,315.8 1508.5,314.5 1509.0,313.4 1509.5,312.5 1510.0,309.6 1510.5,308.9 1511.0,308.0 1511.4,305.6 1511.9,304.1 1512.4,303.9 1512.9,301.7 1513.4,301.5 1513.9,299.6 1514.4,297.8 1514.8,296.3 1515.3,294.8 1515.8,293.4 1516.3,291.8 1516.8,289.9 1517.3,289.0 1517.8,288.0 1518.3,285.8 1518.8,284.4 1519.3,283.2 1519.8,283.0 1520.3,281.4 1520.8,279.6 1521.3,277.6 1521.8,277.0 1522.3,274.1 1522.8,274.0 1523.3,272.3 1523.8,272.0 1524.3,269.7 1524.8,267.8 1525.3,266.7 1525.8,264.8 1526.3,264.0 1526.7,262.1 1527.2,261.3 1527.7,260.0 1528.1,257.5 1528.6,257.4 1529.0,253.8 1529.5,253.1 1529.9,252.7 1530.5,250.8 1530.9,250.0 1531.3,247.4 1531.8,246.0 1532.2,245.1 1532.6,242.9 1533.1,242.1 1533.5,240.0 1533.9,238.7 1534.3,237.9 1534.8,236.3 1535.2,234.1 1535.7,233.9 1536.1,231.0 1536.5,230.5 1537.0,229.3 1537.4,227.2 1537.8,225.3 1538.2,224.0 1538.7,223.2 1539.1,222.6 1539.5,220.1 1539.9,217.8 1540.3,217.0 1540.7,215.0 1541.0,215.1 1541.4,213.2 1541.8,211.8 1542.1,209.0 1542.5,207.7 1542.9,206.5 1543.2,205.5 1543.6,204.1 1544.0,202.5 1544.4,201.8 1544.8,199.3 1545.2,199.0 1545.6,197.3 1546.0,195.1 1546.4,193.9 1546.9,193.7 1547.3,191.5 1547.8,189.2 1548.2,188.3 1548.7,186.8 1549.1,185.9 1549.6,183.7 1550.0,183.1 1550.4,181.1 1550.9,179.5 1551.3,178.9 1551.6,177.1 1552.0,174.5 1552.4,174.1 1552.8,172.5 1553.1,171.3 1553.5,170.2 1553.8,167.4 1554.2,167.0 1554.5,165.1 1554.9,164.2 1555.2,161.9 1555.6,161.0 1555.9,160.2 1556.3,157.9 1556.7,156.9 1557.0,153.7 1557.4,153.0 1557.8,151.6 1558.1,150.5 1558.5,149.1 1558.9,148.1 1559.3,145.7 1559.6,145.9 1560.0,144.5 1560.4,141.6 1560.7,140.9 1561.1,140.0 1561.4,137.4 1561.8,136.3 1562.1,135.3 1562.5,133.9 1562.8,131.9 1563.2,130.3 1563.5,129.2 1563.9,127.4 1564.2,126.5 1564.6,124.4 1564.9,122.9 1565.3,121.2 1565.7,121.1 1566.1,118.5 1566.6,116.6 1567.0,116.1 1567.5,114.1 1568.0,113.3 1568.6,111.5 1569.1,110.2 1569.6,108.8 1570.2,107.6 1570.7,105.9 1571.2,104.1 1571.8,103.3 1572.2,102.0 1572.7,99.5 1573.1,98.7 1573.5,97.6 1573.9,96.4 1574.3,95.4 1574.7,93.6 1575.0,92.0 1575.3,90.2 1575.7,88.9 1576.0,87.2 1576.4,86.1 1576.7,83.3 1577.1,82.8 1577.4,82.3 1577.8,79.7 1578.2,77.8 1578.6,76.8 1579.0,75.5 1579.4,74.7 1579.8,71.7 1580.2,71.2 1580.7,70.5 1581.1,68.6 1581.5,66.6 1582.0,66.2 1582.4,64.2 1582.9,62.6 1583.4,61.3 1583.8,59.6 1584.3,58.9 1584.8,57.6 1585.3,55.7 1585.8,54.6 1586.4,52.8 1586.9,51.2 1587.4,50.1 1588.0,48.4 1588.5,47.2 1589.1,45.7 1589.7,45.2 1590.3,42.2 1590.9,41.5 1591.5,40.7 1592.2,38.6 1592.9,37.6 1593.7,36.4 1594.5,35.0 1595.3,33.9 1596.1,32.2 1596.9,31.1 1597.8,29.5 1598.6,28.6 1599.5,27.2 1600.3,25.5 1601.2,25.0 1602.0,23.9 1602.8,22.7 1603.6,21.3 1604.4,20.4 1605.2,18.9 1606.1,17.7 1607.1,17.0 1608.1,15.5 1609.3,14.0 1610.5,13.9 1611.8,12.8 1613.1,11.3 1614.5,11.5 1616.0,10.8 1617.5,11.2 1619.0,10.8 1620.4,10.1 1621.9,11.0 1623.2,12.7 1624.6,12.8 1625.9,13.6 1627.1,14.2 1628.3,15.3 1629.4,16.9 1630.3,17.7 1631.2,18.5 1632.0,20.0 1632.8,22.0 1633.5,22.9 1634.2,23.9 1634.8,26.0 1635.5,26.1 1636.1,26.8 1636.8,29.2 1637.4,30.8 1637.9,32.3 1638.5,32.8 1639.0,34.9 1639.5,36.1 1640.0,38.3 1640.5,39.7 1640.9,40.7 1641.4,41.5 1641.9,43.7 1642.3,44.9 1642.8,46.3 1643.3,47.8 1643.8,49.7 1644.3,50.1 1644.8,51.3 1645.3,53.5 1645.8,55.1 1646.3,56.2 1646.8,56.8 1647.3,58.9 1647.8,60.1 1648.3,61.8 1648.8,63.3 1649.3,64.1 1649.8,65.8 1650.2,67.1 1650.7,68.8 1651.2,70.9 1651.6,71.2 1652.1,73.4 1652.5,74.8 1652.9,75.6 1653.4,78.0 1653.8,77.7 1654.2,81.3 1654.7,82.5 1655.1,83.1 1655.5,84.2 1655.9,85.8 1656.3,87.0 1656.7,90.0 1657.1,89.9 1657.5,92.1 1657.9,92.7 1658.2,94.9 1658.6,96.6 1659.0,97.6 1659.3,99.8 1659.7,100.7 1660.0,102.5 1660.4,103.5 1660.8,104.6 1661.1,106.4 1661.5,108.2 1661.8,109.9 1662.2,110.6 1662.6,111.9 1663.0,113.7 1663.3,114.9 1663.7,116.6 1664.1,117.9 1664.4,119.8 1664.8,121.4 1665.2,122.0 1665.5,124.1 1665.9,125.2 1666.2,127.4 1666.5,128.0 1666.9,129.4 1667.2,130.6 1667.5,132.6 1667.8,134.2 1668.1,135.2 1668.3,137.2 1668.6,137.4 1668.9,140.2 1669.2,141.6 1669.5,142.0 1669.8,145.2 1670.1,146.2 1670.4,147.8 1670.7,149.5 1671.0,150.1 1671.3,151.2 1671.7,154.3 1672.0,154.5 1672.3,155.3 1672.6,156.7 1673.0,160.3 1673.3,160.7 1673.6,162.3 1674.0,163.7 1674.3,165.3 1674.7,167.5 1675.0,167.7 1675.4,169.9 1675.8,171.0 1676.1,172.1 1676.5,173.4 1676.9,175.2 1677.3,176.4 1677.7,178.6 1678.2,180.4 1678.6,181.3 1679.0,182.2 1679.4,183.2 1679.8,184.8 1680.2,187.3 1680.5,188.6 1680.9,190.4 1681.3,190.7 1681.7,192.6 1682.1,194.7 1682.4,195.7 1682.8,196.4 1683.1,198.0 1683.4,199.1 1683.6,200.7 1683.9,203.6 1684.1,203.8 1684.4,206.5 1684.6,207.8 1684.8,209.0 1685.1,209.9 1685.3,212.8 1685.5,213.7 1685.8,215.3 1686.0,216.2 1686.3,216.9 1686.6,219.4 1686.9,221.0 1687.2,221.4 1687.5,223.5 1687.9,225.1 1688.3,225.8 1688.7,228.0 1689.1,229.3 1689.4,231.0 1689.8,232.2 1690.2,233.5 1690.6,235.0 1691.0,236.3 1691.3,238.8 1691.7,239.7 1692.0,240.6 1692.3,242.4 1692.6,244.4 1692.9,246.0 1693.2,246.5 1693.4,248.7 1693.7,250.1 1694.0,251.6 1694.3,252.3 1694.5,254.9 1694.8,255.5 1695.1,256.6 1695.5,260.3 1695.9,260.8 1696.2,262.3 1696.6,264.7 1696.9,264.1 1697.3,266.1 1697.7,266.9 1698.1,269.1 1698.4,271.6 1698.8,272.5 1699.2,274.1 1699.6,274.8 1700.0,276.2 1700.3,277.6 1700.7,280.5 1701.0,281.0 1701.4,282.8 1701.7,282.9 1702.0,285.6 1702.4,286.0 1702.7,288.2 1703.0,290.1 1703.4,291.4 1703.7,293.0 1704.0,293.7 1704.3,295.2 1704.7,297.3 1705.0,299.2 1705.3,299.9 1705.6,301.5 1705.9,303.0 1706.3,304.2 1706.6,305.9 1706.9,307.0 1707.2,308.7 1707.5,310.6 1707.8,311.1 1708.1,313.1 1708.5,314.6 1708.8,316.1 1709.2,317.2 1709.6,319.0 1710.0,320.7 1710.4,322.4 1710.8,322.3 1711.3,324.9 1711.8,325.9 1712.2,328.3 1712.7,328.5 1713.3,330.2 1713.8,331.9 1714.3,332.2 1714.8,335.5 1715.4,336.5 1715.9,337.2 1716.5,338.1 1717.0,340.3 1717.6,341.9 1718.2,343.3 1718.8,344.7 1719.3,346.3 1719.9,347.6 1720.6,347.0 1721.2,350.7 1721.8,351.8 1722.5,352.3 1723.1,353.9 1723.8,355.7 1724.5,355.9 1725.2,358.9 1725.9,359.0 1726.6,360.6 1727.3,361.4 1728.1,363.3 1728.8,365.3 1729.6,366.4 1730.4,366.9 1731.3,367.2 1732.1,369.3 1733.0,370.3 1733.8,371.9 1734.7,372.5 1735.6,375.1 1736.6,375.8 1737.6,376.5 1738.6,377.5 1739.8,378.7 1741.0,380.0 1742.2,379.9 1743.4,381.0 1744.7,382.0 1746.0,382.6 1747.4,383.8 1748.7,384.0 1750.1,385.1 1751.6,384.8 1753.0,385.0 1754.4,385.9 1755.8,385.3 1757.3,386.5 1758.7,387.6 1760.2,388.3 1761.7,387.2 1763.2,388.0 1764.6,388.6 1766.1,387.7 1767.6,389.3 1769.1,389.4 1770.6,389.8 1772.0,390.0 1773.5,389.3 1775.0,389.2 1776.5,390.1 1778.0,390.2 1779.5,391.8 1781.0,389.5 1782.5,389.7 1784.0,390.3 1785.5,390.0 1787.0,389.6 1788.5,390.0 1790.0,391.0 1791.5,390.4 1793.0,390.9 1794.5,390.6 1796.0,391.8 1797.5,390.3 1799.0,390.9 1800.5,390.3 1802.0,390.2 1803.5,390.1 1805.0,390.0 1806.5,390.4 1808.0,390.3 1809.5,390.1 1811.0,390.3 1812.5,390.9 1814.0,390.1 1815.5,391.3 1817.0,391.2 1818.5,390.8 1820.0,390.7 1821.5,391.5 1823.0,391.5 1824.5,391.8 1826.0,391.6 1827.5,390.9 1829.0,390.3 1830.5,390.6 1832.0,389.9 1833.5,390.7 1835.0,390.7 1836.5,391.2 1838.0,390.6 1839.5,391.4 1841.0,391.3 1842.5,390.7 1844.0,390.9 1845.5,390.8 1847.0,390.9 1848.5,390.7 1850.0,390.5 1851.5,390.6 1853.0,391.2 1854.5,390.5 1856.0,390.5 1857.5,390.9 1859.0,391.9 1860.5,391.3 1862.0,390.9 1863.5,391.4 1865.0,391.2 1866.5,389.7 1868.0,391.0 1869.5,391.3 1871.0,391.5" fill="none" stroke="#000" stroke-width="1.25" stroke-linejoin="round" stroke-linecap="butt" />
<rect x="101" y="503.6" width="524.8" height="398" fill="none" stroke="#111" stroke-width="1.3"/>
<line x1="101" y1="901.6" x2="101" y2="909.6" stroke="#111" stroke-width="1.3"/>
<line x1="166.6" y1="901.6" x2="166.6" y2="905.3" stroke="#111" stroke-width="1.3"/>
<line x1="232.2" y1="901.6" x2="232.2" y2="909.6" stroke="#111" stroke-width="1.3"/>
<line x1="297.8" y1="901.6" x2="297.8" y2="905.3" stroke="#111" stroke-width="1.3"/>
<line x1="363.4" y1="901.6" x2="363.4" y2="909.6" stroke="#111" stroke-width="1.3"/>
<line x1="429" y1="901.6" x2="429" y2="905.3" stroke="#111" stroke-width="1.3"/>
<line x1="494.6" y1="901.6" x2="494.6" y2="909.6" stroke="#111" stroke-width="1.3"/>
<line x1="560.2" y1="901.6" x2="560.2" y2="905.3" stroke="#111" stroke-width="1.3"/>
<line x1="625.8" y1="901.6" x2="625.8" y2="909.6" stroke="#111" stroke-width="1.3"/>
<line x1="94" y1="503.6" x2="101" y2="503.6" stroke="#111" stroke-width="1.3"/>
<line x1="97" y1="543.4" x2="101" y2="543.4" stroke="#111" stroke-width="1.3"/>
<line x1="94" y1="583.2" x2="101" y2="583.2" stroke="#111" stroke-width="1.3"/>
<line x1="97" y1="623" x2="101" y2="623" stroke="#111" stroke-width="1.3"/>
<line x1="94" y1="662.8" x2="101" y2="662.8" stroke="#111" stroke-width="1.3"/>
<line x1="97" y1="702.6" x2="101" y2="702.6" stroke="#111" stroke-width="1.3"/>
<line x1="94" y1="742.4" x2="101" y2="742.4" stroke="#111" stroke-width="1.3"/>
<line x1="97" y1="782.2" x2="101" y2="782.2" stroke="#111" stroke-width="1.3"/>
<line x1="94" y1="822" x2="101" y2="822" stroke="#111" stroke-width="1.3"/>
<line x1="97" y1="861.8" x2="101" y2="861.8" stroke="#111" stroke-width="1.3"/>
<line x1="94" y1="901.6" x2="101" y2="901.6" stroke="#111" stroke-width="1.3"/>
<text x="10.14" y="495.13" font-size="58.19" textLength="34.2" lengthAdjust="spacingAndGlyphs" font-family="DejaVu Sans, sans-serif" fill="#000">d</text>
<text x="120.6" y="646.9" font-size="26.81" letter-spacing="0.475" fill="#000">Z9</text>
<text x="120.62" y="712.6" font-size="27.25" textLength="30.33" lengthAdjust="spacingAndGlyphs" fill="#000">Z7</text>
<text x="116.21" y="812.4" font-size="27.39" textLength="30.91" lengthAdjust="spacingAndGlyphs" fill="#000">Z5</text>
<text x="116.21" y="889.4" font-size="27.39" textLength="30.91" lengthAdjust="spacingAndGlyphs" fill="#000">Z3</text>
<text transform="translate(82.9,886.4) rotate(-90)" font-size="33.33" textLength="364.51" lengthAdjust="spacingAndGlyphs" fill="#000">Normalized Intensity (a.u.)</text>
<text x="74.27" y="937.4" font-size="30.57" letter-spacing="0.299" fill="#000">250</text>
<text x="206.59" y="937.4" font-size="30.57" textLength="50.37" lengthAdjust="spacingAndGlyphs" fill="#000">300</text>
<text x="338.21" y="937.4" font-size="30.57" textLength="49.74" lengthAdjust="spacingAndGlyphs" fill="#000">350</text>
<text x="469.3" y="937.4" font-size="30.57" textLength="49.64" lengthAdjust="spacingAndGlyphs" fill="#000">400</text>
<text x="600.01" y="937.4" font-size="30.57" textLength="49.02" lengthAdjust="spacingAndGlyphs" fill="#000">450</text>
<text x="249.55" y="963.4" font-size="30.87" textLength="229.73" lengthAdjust="spacingAndGlyphs" fill="#000">Wavelength (nm)</text>
<path d="M101.0,659.6 102.5,659.5 104.0,659.3 105.5,659.2 107.0,659.0 108.5,658.9 110.0,658.8 111.5,658.6 112.9,658.5 114.4,658.3 115.9,658.2 117.4,658.1 118.9,657.9 120.4,657.8 121.9,657.7 123.4,657.6 124.9,657.4 126.4,657.3 127.9,657.2 129.4,657.1 130.9,656.9 132.4,656.8 133.9,656.7 135.4,656.6 136.9,656.5 138.4,656.4 139.9,656.3 141.4,656.2 142.8,656.0 144.3,655.9 145.8,655.8 147.3,655.7 148.8,655.6 150.3,655.5 151.8,655.4 153.3,655.3 154.8,655.2 156.3,655.1 157.8,655.0 159.3,654.9 160.8,654.8 162.3,654.7 163.8,654.5 165.3,654.4 166.8,654.3 168.3,654.2 169.8,654.0 171.3,653.9 172.8,653.7 174.2,653.6 175.7,653.4 177.2,653.2 178.7,653.1 180.2,652.9 181.7,652.7 183.2,652.5 184.7,652.3 186.2,652.2 187.7,652.0 189.1,651.8 190.6,651.6 192.1,651.4 193.6,651.2 195.1,651.0 196.6,650.8 198.1,650.6 200.0,650.3 201.5,650.1 203.0,649.9 204.5,649.7 206.0,649.5 207.5,649.3 209.0,649.1 210.5,649.0 211.9,648.8 213.4,648.6 214.9,648.4 216.4,648.3 217.9,648.1 219.4,647.9 220.9,647.8 222.4,647.6 223.9,647.5 225.4,647.3 226.9,647.2 228.3,647.0 229.8,646.8 231.3,646.7 232.8,646.5 234.3,646.3 235.8,646.2 237.3,646.0 238.8,645.8 240.3,645.6 241.7,645.4 243.2,645.1 244.7,644.9 246.2,644.7 247.7,644.4 249.1,644.1 250.6,643.8 252.1,643.4 253.5,643.0 254.9,642.6 256.4,642.1 257.8,641.7 259.2,641.3 260.7,640.9 262.1,640.5 263.6,640.1 265.0,639.8 266.5,639.4 268.0,639.1 269.4,638.8 270.9,638.5 272.4,638.2 273.8,637.8 275.3,637.5 276.8,637.2 278.2,636.9 279.7,636.6 281.2,636.3 282.6,635.9 284.1,635.6 285.5,635.2 287.0,634.8 288.4,634.4 289.9,634.0 291.3,633.6 292.7,633.1 294.2,632.6 295.6,632.1 297.0,631.6 298.4,631.1 299.8,630.5 301.2,630.0 302.6,629.4 303.9,628.8 305.3,628.2 306.7,627.7 308.1,627.1 309.5,626.5 310.8,625.9 312.2,625.3 313.6,624.7 315.0,624.1 316.3,623.5 317.7,622.9 319.1,622.4 320.5,621.8 321.9,621.3 323.3,620.7 324.7,620.2 326.1,619.7 327.5,619.2 328.9,618.6 330.3,618.1 331.8,617.6 333.2,617.1 334.6,616.6 336.0,616.1 337.4,615.5 338.8,615.0 340.2,614.4 341.6,613.9 342.9,613.3 344.3,612.7 345.7,612.1 347.0,611.4 348.4,610.8 349.7,610.1 351.0,609.4 352.3,608.6 353.6,607.8 354.9,607.0 356.1,606.2 357.3,605.3 358.5,604.4 359.7,603.5 360.9,602.6 362.1,601.7 363.3,600.8 364.5,599.9 365.7,599.0 366.9,598.1 368.2,597.3 369.4,596.4 370.6,595.6 371.9,594.7 373.1,593.9 374.4,593.1 375.6,592.2 376.9,591.4 378.1,590.5 379.4,589.7 380.6,588.9 381.9,588.1 383.6,587.1 384.9,586.4 386.3,585.7 387.6,585.1 389.0,584.5 390.4,584.0 391.8,583.5 393.3,583.1 394.7,582.7 396.2,582.3 397.6,582.0 399.1,581.7 400.6,581.4 402.0,581.1 403.5,580.8 405.0,580.4 406.4,580.0 407.8,579.6 409.3,579.2 410.7,578.7 412.1,578.1 413.4,577.5 414.8,576.8 416.1,576.1 417.4,575.3 418.6,574.5 419.9,573.7 421.2,572.9 422.4,572.1 423.6,571.2 424.9,570.4 426.1,569.5 427.4,568.7 428.6,567.9 429.9,567.1 431.2,566.3 432.4,565.5 433.7,564.7 435.0,563.9 436.3,563.1 437.5,562.3 438.8,561.5 440.1,560.7 441.3,559.9 442.6,559.1 443.8,558.2 445.1,557.4 446.3,556.6 447.6,555.7 448.8,554.8 450.0,554.0 451.2,553.1 452.4,552.2 453.6,551.3 454.8,550.3 455.9,549.4 457.1,548.4 458.2,547.5 459.4,546.5 460.5,545.5 461.7,544.6 462.8,543.6 464.0,542.7 465.2,541.7 466.3,540.8 467.5,539.9 468.7,539.0 469.9,538.1 471.1,537.2 472.4,536.3 473.6,535.4 474.8,534.6 476.0,533.7 477.3,532.8 478.5,532.0 479.7,531.2 481.0,530.3 482.2,529.5 483.5,528.7 484.8,527.9 486.1,527.2 487.4,526.4 488.7,525.7 490.0,525.0 491.4,524.3 492.7,523.7 494.0,523.0 495.4,522.3 496.7,521.7 498.1,521.0 499.5,520.4 500.9,519.8 502.2,519.3 503.6,518.8 505.1,518.3 506.5,517.9 508.0,517.5 509.4,517.2 510.9,516.9 512.4,516.7 513.9,516.5 515.3,516.3 516.8,516.2 518.3,516.0 519.8,515.9 521.3,515.8 522.8,515.7 524.3,515.5 525.8,515.4 527.3,515.3 528.8,515.1 530.3,514.9 531.8,514.7 533.2,514.5 534.7,514.2 536.2,514.0 537.7,513.8 539.2,513.7 540.7,513.7 542.2,513.7 543.7,513.8 545.2,514.0 546.6,514.1 548.1,514.4 549.6,514.6 551.1,514.9 552.5,515.2 554.0,515.6 555.4,516.0 556.8,516.5 558.1,517.2 559.8,518.2 561.0,519.1 562.2,520.0 563.4,520.9 564.6,521.8 565.8,522.6 567.1,523.4 568.5,524.0 569.9,524.5 571.3,524.9 572.8,525.2 574.2,525.5 575.7,525.8 577.2,526.2 578.6,526.7 580.0,527.2 581.3,527.9 582.5,528.7 583.7,529.6 584.8,530.6 585.9,531.6 586.9,532.7 588.0,533.8 589.0,534.9 590.0,536.0 590.9,537.2 591.9,538.3 592.8,539.5 593.6,540.7 594.5,542.0 595.4,543.2 596.2,544.5 597.0,545.7 597.9,546.9 598.7,548.2 599.6,549.4 600.5,550.6 601.4,551.8 602.3,553.0 603.2,554.2 604.1,555.4 605.0,556.6 605.9,557.8 606.8,559.0 607.7,560.2 608.6,561.4 609.5,562.6 610.4,563.8 611.3,565.0 612.1,566.2 613.0,567.5 613.9,568.7 614.7,569.9 615.5,571.2 616.4,572.4 617.2,573.7 618.0,574.9 618.8,576.2 619.7,577.4 620.5,578.7 621.3,580.0 622.1,581.2 622.8,582.5 623.6,583.7 624.3,584.9 625.0,586.0" fill="none" stroke="#007d00" stroke-width="4.2" stroke-linejoin="round" stroke-linecap="butt" />
<path d="M101.0,730.0 102.4,729.5 103.8,729.0 105.3,728.5 106.7,728.1 108.1,727.6 109.5,727.1 111.0,726.7 112.4,726.2 113.8,725.6 115.2,725.1 116.6,724.6 118.0,724.1 119.4,723.7 120.9,723.3 122.3,722.9 123.8,722.7 125.3,722.6 126.8,722.5 128.3,722.5 129.8,722.6 131.3,722.7 132.8,722.8 134.3,723.0 135.7,723.1 137.2,723.3 138.7,723.5 140.2,723.6 141.7,723.8 143.2,724.0 144.7,724.3 146.2,724.5 147.6,724.7 149.1,724.9 150.6,725.1 152.1,725.3 153.6,725.4 155.1,725.5 156.6,725.5 158.1,725.4 159.6,725.3 161.0,725.1 162.5,724.8 164.0,724.5 165.4,724.1 166.9,723.8 168.4,723.4 169.8,723.0 171.3,722.7 172.7,722.3 174.2,722.0 175.6,721.7 177.1,721.3 178.6,721.0 180.0,720.7 181.5,720.4 183.0,720.1 184.4,719.8 185.9,719.4 187.4,719.1 188.8,718.8 190.3,718.4 191.7,718.1 193.2,717.7 194.7,717.4 196.6,716.9 198.1,716.5 199.5,716.1 201.0,715.7 202.4,715.3 203.8,714.9 205.3,714.5 206.7,714.1 208.2,713.7 209.6,713.2 211.0,712.8 212.5,712.4 213.9,711.9 215.3,711.4 216.7,711.0 218.2,710.5 219.6,710.0 221.0,709.5 222.4,709.0 223.8,708.4 225.2,707.9 226.6,707.4 228.0,706.8 229.4,706.2 230.8,705.6 232.1,705.0 233.5,704.4 234.8,703.7 236.2,703.0 237.5,702.3 238.8,701.6 240.1,700.9 241.4,700.1 242.7,699.4 244.0,698.6 245.3,697.8 246.6,697.1 247.8,696.3 249.1,695.5 250.4,694.7 251.7,693.9 253.0,693.1 254.2,692.4 255.5,691.6 256.8,690.8 258.1,690.1 259.4,689.3 260.7,688.6 262.1,687.9 263.4,687.2 264.7,686.5 266.0,685.8 267.4,685.1 268.7,684.4 270.0,683.7 271.4,683.0 272.7,682.3 274.0,681.6 275.3,680.9 276.6,680.1 277.9,679.3 279.1,678.5 280.4,677.7 281.6,676.8 282.8,675.9 284.0,675.0 285.1,674.0 286.2,673.0 287.4,672.0 288.5,671.0 289.6,670.0 290.7,669.0 291.8,667.9 292.9,666.9 294.0,665.9 295.1,664.9 296.3,664.0 297.4,663.0 298.6,662.1 299.8,661.2 301.0,660.3 302.2,659.5 303.5,658.6 304.7,657.8 306.0,657.0 307.3,656.2 308.5,655.4 309.8,654.6 311.1,653.8 312.4,653.1 313.7,652.3 315.0,651.6 316.3,650.9 317.7,650.2 319.0,649.5 320.3,648.9 321.7,648.2 323.1,647.6 324.4,646.9 325.8,646.3 327.1,645.7 328.5,645.1 329.9,644.5 331.3,644.0 332.7,643.4 334.1,642.9 335.5,642.4 336.9,641.9 338.4,641.5 339.8,641.1 341.3,640.7 342.7,640.4 344.2,640.0 345.7,639.7 347.1,639.4 348.6,639.2 350.1,638.9 351.6,638.6 353.0,638.3 354.5,638.1 356.0,637.8 357.4,637.5 358.9,637.2 360.4,636.9 361.8,636.6 363.3,636.2 364.8,635.9 366.2,635.5 367.7,635.2 369.6,634.7 371.1,634.3 372.5,634.0 374.0,633.6 375.4,633.2 376.9,632.8 378.3,632.4 379.8,632.1 381.2,631.7 382.7,631.3 384.1,630.9 385.6,630.5 387.0,630.1 388.5,629.7 389.9,629.3 391.4,628.8 392.8,628.4 394.2,628.0 395.6,627.5 397.1,627.0 398.5,626.5 399.9,626.0 401.3,625.4 402.7,624.9 404.0,624.3 405.4,623.6 406.7,623.0 408.1,622.3 409.4,621.6 410.7,620.9 412.1,620.2 413.4,619.5 414.7,618.8 416.0,618.1 417.4,617.4 418.7,616.7 420.0,616.0 421.4,615.3 422.7,614.7 424.0,614.0 425.4,613.3 426.7,612.6 428.1,612.0 429.4,611.3 430.7,610.6 432.1,610.0 433.4,609.3 434.8,608.6 436.1,607.9 437.5,607.3 438.8,606.6 440.1,605.9 441.5,605.3 442.8,604.6 444.2,603.9 445.5,603.2 446.8,602.6 448.2,601.9 449.5,601.2 450.9,600.6 452.2,599.9 453.6,599.2 454.9,598.6 456.2,597.9 457.6,597.2 458.9,596.5 460.2,595.8 461.6,595.1 462.8,594.3 464.1,593.6 465.4,592.8 466.6,591.9 467.9,591.1 469.2,590.3 470.4,589.5 471.7,588.8 473.1,588.1 474.4,587.5 475.8,587.0 477.3,586.6 478.7,586.3 480.2,586.2 481.7,586.1 483.2,586.2 484.7,586.3 486.2,586.5 487.6,586.7 489.1,586.9 490.6,587.2 492.0,587.6 493.4,588.1 494.8,588.6 496.2,589.2 497.6,589.8 499.0,590.4 500.4,590.9 501.8,591.3 503.2,591.7 504.7,592.0 506.2,592.2 507.7,592.4 509.2,592.6 510.7,592.7 512.2,592.8 513.6,592.9 515.1,592.9 516.6,592.9 518.1,592.9 519.6,592.8 521.1,592.7 522.6,592.6 524.1,592.5 525.6,592.4 527.1,592.3 528.6,592.2 530.1,592.1 531.6,592.1 533.1,592.2 534.6,592.5 536.0,592.8 537.4,593.2 538.8,593.7 540.2,594.3 541.6,594.9 542.9,595.5 544.3,596.2 545.6,596.9 546.9,597.7 548.6,598.7 549.8,599.6 551.0,600.5 552.2,601.4 553.4,602.3 554.5,603.3 555.7,604.3 556.8,605.2 558.0,606.2 559.1,607.2 560.2,608.2 561.3,609.2 562.4,610.3 563.4,611.3 564.5,612.4 565.5,613.5 566.6,614.6 567.6,615.6 568.6,616.7 569.7,617.8 570.8,618.8 571.9,619.8 573.0,620.8 574.1,621.8 575.3,622.8 576.5,623.7 577.6,624.7 578.8,625.6 580.0,626.5 581.2,627.4 582.4,628.3 583.6,629.2 584.8,630.1 586.0,631.0 587.2,631.9 588.4,632.8 589.6,633.7 590.8,634.6 592.0,635.5 593.2,636.4 594.4,637.3 595.6,638.2 596.8,639.0 598.1,639.9 599.3,640.8 600.5,641.7 601.7,642.5 602.9,643.4 604.2,644.2 605.4,645.1 606.7,645.9 608.0,646.7 609.2,647.5 610.5,648.3 611.8,649.0 613.1,649.8 614.4,650.5 615.7,651.3 617.0,652.0 618.3,652.7 619.7,653.4 621.0,654.1 622.3,654.7 623.7,655.4 625.0,656.0" fill="none" stroke="#ff00ff" stroke-width="4.2" stroke-linejoin="round" stroke-linecap="butt" />
<path d="M101.0,821.0 102.5,820.9 104.0,820.8 105.5,820.7 107.0,820.6 108.5,820.5 110.0,820.4 111.5,820.3 113.0,820.2 114.5,820.1 116.0,820.0 117.5,819.9 119.0,819.8 120.5,819.7 122.0,819.6 123.4,819.5 124.9,819.4 126.4,819.3 127.9,819.2 129.4,819.0 130.9,818.9 132.4,818.8 133.9,818.7 135.4,818.6 136.9,818.5 138.4,818.4 139.9,818.3 141.4,818.1 142.9,818.0 144.4,817.9 145.9,817.8 147.4,817.7 148.9,817.6 150.4,817.4 151.9,817.3 153.4,817.2 154.9,817.1 156.4,816.9 157.8,816.8 159.3,816.7 160.8,816.5 162.3,816.4 163.8,816.2 165.3,816.1 166.8,815.9 168.3,815.8 169.8,815.6 171.3,815.5 172.8,815.3 174.3,815.1 175.7,814.9 177.2,814.7 178.7,814.5 180.2,814.3 181.7,814.1 183.2,813.9 184.7,813.7 186.1,813.5 187.6,813.3 189.1,813.0 190.6,812.8 192.1,812.5 193.5,812.2 195.0,812.0 196.5,811.7 198.0,811.4 199.4,811.1 200.9,810.8 202.4,810.4 203.8,810.1 205.3,809.7 206.7,809.3 208.2,808.9 209.6,808.5 211.0,808.0 212.5,807.6 213.9,807.1 215.3,806.6 216.7,806.1 218.1,805.6 219.5,805.1 220.9,804.5 222.3,804.0 223.7,803.4 225.1,802.8 226.5,802.2 227.8,801.6 229.2,800.9 230.5,800.3 231.8,799.6 233.2,798.9 234.5,798.1 235.8,797.4 237.1,796.6 238.4,795.9 239.7,795.1 240.9,794.3 242.2,793.6 243.5,792.8 244.8,792.0 246.1,791.2 247.3,790.4 249.0,789.4 250.3,788.5 251.5,787.7 252.8,786.9 254.0,786.0 255.2,785.1 256.4,784.2 257.6,783.3 258.8,782.4 259.9,781.4 261.0,780.4 262.1,779.3 263.1,778.3 264.2,777.2 265.2,776.1 266.1,774.9 267.1,773.8 268.1,772.6 269.0,771.5 270.0,770.3 271.0,769.2 271.9,768.0 272.9,766.9 273.9,765.8 274.9,764.6 275.8,763.5 276.8,762.3 277.8,761.2 278.8,760.1 279.7,758.9 280.7,757.8 281.7,756.6 282.7,755.5 283.7,754.4 284.6,753.3 285.6,752.1 286.6,751.0 287.6,749.9 288.6,748.8 289.6,747.7 290.6,746.5 291.6,745.4 292.6,744.3 293.6,743.2 294.6,742.0 295.6,740.9 296.6,739.8 297.6,738.7 298.6,737.5 299.6,736.4 300.5,735.3 301.5,734.2 302.5,733.0 303.5,731.9 304.5,730.7 305.4,729.6 306.4,728.4 307.4,727.3 308.3,726.1 309.2,724.9 310.1,723.7 311.0,722.5 311.9,721.3 312.7,720.1 313.6,718.8 314.4,717.6 315.2,716.3 316.1,715.1 316.9,713.9 317.8,712.7 318.8,711.5 319.8,710.4 320.8,709.3 321.9,708.3 323.0,707.3 324.1,706.3 325.3,705.4 326.5,704.5 327.7,703.6 328.9,702.7 330.2,701.9 331.4,701.0 332.7,700.2 333.9,699.4 335.2,698.5 336.4,697.6 337.6,696.8 338.8,695.9 340.0,694.9 341.1,694.0 342.3,693.0 343.4,692.0 344.5,691.0 345.6,689.9 346.6,688.9 347.7,687.9 348.8,686.8 349.9,685.8 351.0,684.7 352.1,683.7 353.2,682.7 354.3,681.8 355.5,680.9 356.7,680.0 358.0,679.2 359.3,678.5 360.6,677.8 362.0,677.2 363.4,676.5 364.7,676.0 366.1,675.4 367.5,674.8 368.9,674.3 370.3,673.8 371.8,673.3 373.2,672.9 374.6,672.5 376.1,672.1 377.5,671.8 379.0,671.5 380.5,671.3 382.0,671.2 383.5,671.2 385.0,671.2 386.4,671.5 387.9,671.8 389.3,672.2 390.7,672.7 392.1,673.3 393.5,673.9 394.8,674.5 396.2,675.2 397.4,676.0 398.7,676.8 399.9,677.6 401.1,678.5 402.3,679.4 403.5,680.4 404.7,681.3 405.9,682.2 407.1,683.0 408.3,683.9 409.6,684.7 410.9,685.4 412.2,686.1 413.6,686.8 414.9,687.5 416.3,688.1 417.6,688.8 419.0,689.4 420.3,690.1 421.6,690.8 423.0,691.5 424.3,692.2 425.6,692.9 426.9,693.6 428.3,694.3 429.6,695.0 430.9,695.7 432.2,696.5 433.5,697.2 434.8,697.9 436.2,698.6 437.5,699.3 438.8,700.1 440.1,700.9 441.3,701.7 442.6,702.5 443.8,703.4 445.0,704.2 446.3,705.1 447.5,705.9 448.8,706.7 450.1,707.4 451.4,708.1 452.8,708.6 454.2,709.1 455.7,709.3 457.1,709.4 458.6,709.3 460.0,709.0 461.5,708.6 462.9,708.1 464.2,707.5 465.6,706.8 466.9,706.1 468.2,705.4 469.5,704.7 470.9,704.1 472.3,703.5 473.6,702.9 475.1,702.5 476.5,702.1 478.0,701.8 479.5,701.6 480.9,701.3 482.4,701.2 483.9,701.0 485.4,700.8 486.9,700.6 488.4,700.5 489.9,700.3 491.4,700.1 493.3,699.8 494.8,699.6 496.3,699.3 497.7,698.9 499.2,698.5 500.6,698.1 502.1,697.7 503.5,697.2 504.9,696.8 506.4,696.3 507.8,695.9 509.2,695.5 510.7,695.2 512.2,694.9 513.6,694.6 515.1,694.4 516.6,694.2 518.1,694.1 519.6,693.9 521.1,693.8 522.6,693.7 524.1,693.6 525.6,693.6 527.1,693.7 528.5,693.9 530.0,694.2 531.4,694.6 532.8,695.0 534.2,695.6 535.6,696.2 537.0,696.7 538.4,697.3 539.8,697.8 541.2,698.3 542.7,698.8 544.1,699.2 545.5,699.7 546.9,700.1 548.4,700.6 549.8,701.1 551.2,701.5 552.6,702.1 554.0,702.6 555.4,703.2 556.7,703.9 558.1,704.6 559.3,705.3 560.6,706.2 561.8,707.1 562.9,708.0 564.0,709.0 565.1,710.1 566.2,711.1 567.3,712.1 568.4,713.1 569.5,714.1 570.7,715.1 571.9,716.0 573.1,716.8 574.3,717.7 575.6,718.5 576.9,719.3 578.1,720.1 579.4,720.9 580.7,721.6 582.0,722.4 583.3,723.2 584.6,724.0 585.8,724.8 587.1,725.6 588.3,726.4 589.6,727.2 590.8,728.1 592.0,729.0 593.2,729.9 594.4,730.8 595.6,731.7 596.8,732.7 597.9,733.6 599.1,734.5 600.3,735.5 601.4,736.4 602.6,737.4 603.7,738.4 604.9,739.3 606.0,740.3 607.2,741.2 608.4,742.2 609.5,743.1 610.7,744.1 611.8,745.0 613.0,746.0 614.2,746.9 615.3,747.9 616.5,748.8 617.6,749.8 618.8,750.7 619.9,751.7 621.1,752.6 622.2,753.6 623.3,754.4 624.3,755.3" fill="none" stroke="#0000ff" stroke-width="4.2" stroke-linejoin="round" stroke-linecap="butt" />
<path d="M101.0,900.0 102.5,899.9 104.0,899.8 105.5,899.8 107.0,899.7 108.5,899.6 110.0,899.5 111.5,899.4 113.0,899.3 114.5,899.2 116.0,899.1 117.5,899.0 119.0,898.9 120.5,898.8 122.0,898.7 123.5,898.5 124.9,898.4 126.4,898.3 127.9,898.2 129.4,898.0 130.9,897.9 132.4,897.8 133.9,897.6 135.4,897.5 136.9,897.3 138.4,897.2 139.9,897.0 141.4,896.8 142.9,896.7 144.4,896.5 145.8,896.3 147.3,896.2 148.8,896.0 150.3,895.8 151.8,895.6 153.3,895.4 154.8,895.2 156.3,895.1 157.8,894.9 159.2,894.7 160.7,894.5 162.2,894.3 163.7,894.2 165.2,894.0 166.7,893.8 168.2,893.6 169.7,893.5 171.2,893.3 172.6,893.1 174.1,892.9 175.6,892.7 177.1,892.4 178.6,892.2 180.1,892.0 181.5,891.7 183.0,891.4 184.5,891.2 186.0,890.8 187.4,890.5 188.9,890.2 190.3,889.8 191.8,889.5 193.2,889.1 194.7,888.7 196.1,888.2 197.5,887.8 199.0,887.3 200.4,886.8 201.8,886.2 203.1,885.6 204.5,885.0 205.8,884.3 207.1,883.6 208.4,882.8 209.7,882.0 211.0,881.2 212.2,880.4 213.5,879.6 214.7,878.7 215.9,877.9 217.2,877.0 218.4,876.1 219.6,875.3 220.8,874.4 222.0,873.5 223.2,872.5 224.4,871.6 225.5,870.6 226.7,869.7 227.8,868.7 228.9,867.7 230.0,866.7 231.1,865.6 232.2,864.6 233.2,863.6 234.3,862.5 235.3,861.4 236.4,860.3 237.4,859.2 238.4,858.1 239.4,857.0 240.4,855.9 241.4,854.7 242.4,853.6 243.4,852.5 244.7,851.0 245.6,849.8 246.6,848.7 247.6,847.6 248.6,846.4 249.6,845.3 250.6,844.2 251.6,843.1 252.6,841.9 253.5,840.8 254.5,839.7 255.5,838.5 256.5,837.4 257.4,836.2 258.4,835.1 259.3,833.9 260.3,832.7 261.2,831.6 262.1,830.4 263.0,829.2 263.9,828.0 264.8,826.8 265.7,825.6 266.6,824.3 267.4,823.1 268.3,821.9 269.1,820.6 270.0,819.4 270.8,818.1 271.6,816.9 272.4,815.6 273.2,814.3 274.0,813.1 274.8,811.8 275.5,810.5 276.3,809.2 277.0,807.9 277.7,806.5 278.3,805.2 279.0,803.8 279.6,802.5 280.3,801.1 280.9,799.8 281.5,798.4 282.2,797.1 282.8,795.7 283.5,794.3 284.1,793.0 284.8,791.7 285.5,790.3 286.2,789.0 287.0,787.7 287.8,786.5 288.6,785.2 289.5,784.0 290.4,782.8 291.3,781.6 292.2,780.4 293.1,779.2 294.1,778.1 295.1,776.9 296.0,775.8 297.0,774.7 298.0,773.5 299.0,772.4 300.0,771.3 301.0,770.2 302.0,769.1 303.1,768.0 304.1,766.9 305.2,765.9 306.2,764.8 307.3,763.8 308.4,762.8 309.6,761.8 310.7,760.8 311.8,759.8 313.0,758.9 314.1,757.9 315.3,756.9 316.4,756.0 317.6,755.0 318.8,754.1 319.9,753.1 321.1,752.3 322.4,751.4 323.6,750.6 324.9,749.9 326.3,749.2 327.7,748.7 329.1,748.2 330.5,747.9 332.0,747.6 333.5,747.3 335.0,747.1 336.4,746.9 337.9,746.7 339.4,746.5 340.9,746.3 342.4,746.2 343.9,746.0 345.4,745.9 346.9,745.8 348.4,745.7 349.9,745.6 351.4,745.6 352.9,745.6 354.4,745.6 355.9,745.6 357.4,745.7 358.9,745.8 360.3,746.0 361.8,746.2 363.3,746.5 364.8,746.8 366.2,747.2 367.7,747.5 369.1,748.0 370.5,748.5 371.9,749.0 373.3,749.6 374.6,750.3 376.0,750.9 377.3,751.6 378.6,752.3 380.0,753.0 381.3,753.7 382.6,754.4 384.0,755.1 385.3,755.8 386.6,756.5 388.0,757.1 389.3,757.8 390.7,758.5 392.0,759.1 393.3,759.8 394.7,760.5 396.0,761.2 397.3,761.9 398.7,762.5 400.0,763.2 401.4,763.9 402.7,764.6 404.0,765.2 405.4,765.9 406.7,766.6 408.1,767.2 409.4,767.9 410.8,768.6 412.1,769.2 413.4,769.9 414.8,770.6 416.1,771.3 417.5,772.0 418.8,772.6 420.1,773.3 421.4,774.0 422.8,774.7 424.1,775.4 425.4,776.1 426.7,776.9 428.1,777.6 429.4,778.3 430.7,779.0 432.0,779.8 433.3,780.5 434.6,781.2 435.9,781.9 437.2,782.7 438.6,783.4 439.9,784.1 441.2,784.8 442.5,785.5 443.8,786.2 445.2,786.9 446.5,787.6 447.9,788.2 449.2,788.9 450.6,789.5 451.9,790.2 453.3,790.8 454.6,791.5 456.0,792.1 457.3,792.8 458.7,793.4 460.0,794.1 461.4,794.8 462.7,795.5 464.0,796.2 465.3,797.0 466.6,797.8 467.8,798.6 469.1,799.4 470.3,800.2 471.5,801.1 472.8,802.0 474.0,802.9 475.2,803.8 476.4,804.7 477.6,805.6 478.8,806.5 480.0,807.4 481.2,808.2 482.4,809.1 483.6,810.0 484.9,810.8 486.1,811.6 487.4,812.4 488.7,813.2 490.0,814.0 491.3,814.7 493.0,815.7 494.4,816.4 495.7,817.1 497.0,817.7 498.4,818.4 499.7,819.1 501.0,819.8 502.3,820.5 503.7,821.2 505.0,822.0 506.3,822.7 507.6,823.5 508.8,824.3 510.1,825.1 511.4,825.9 512.6,826.7 513.9,827.5 515.1,828.4 516.3,829.3 517.5,830.2 518.7,831.1 519.8,832.1 520.9,833.1 522.0,834.1 523.0,835.3 523.9,836.4 524.8,837.6 525.7,838.8 526.5,840.1 527.3,841.3 528.2,842.6 529.0,843.9 529.8,845.1 530.7,846.3 531.6,847.5 532.5,848.7 533.5,849.8 534.5,850.9 535.5,852.0 536.6,853.1 537.7,854.1 538.8,855.1 539.9,856.1 541.1,857.0 542.3,857.9 543.5,858.8 544.7,859.6 546.0,860.4 547.3,861.2 548.6,861.9 549.9,862.7 551.3,863.3 552.6,864.0 554.0,864.7 555.3,865.3 556.7,865.9 558.0,866.5 559.4,867.2 560.8,867.8 562.1,868.4 563.5,869.0 564.8,869.7 566.2,870.3 567.6,871.0 568.9,871.6 570.3,872.2 571.6,872.9 573.0,873.5 574.4,874.1 575.7,874.7 577.1,875.3 578.5,875.9 579.9,876.5 581.3,877.1 582.6,877.7 584.0,878.2 585.4,878.8 586.8,879.3 588.2,879.9 589.6,880.5 591.0,881.0 592.4,881.6 593.8,882.1 595.2,882.6 596.6,883.2 598.0,883.7 599.4,884.2 600.8,884.6 602.3,885.1 603.7,885.5 605.2,885.9 606.6,886.3 608.1,886.6 609.5,887.0 611.0,887.3 612.5,887.6 613.9,887.9 615.4,888.1 616.9,888.4 618.4,888.7 619.8,888.9 621.3,889.1 622.8,889.3 624.1,889.4 625.5,889.6" fill="none" stroke="#ff0000" stroke-width="4.2" stroke-linejoin="round" stroke-linecap="butt" />
<line x1="531.5" y1="551.5" x2="531.5" y2="557.5" stroke="#000" stroke-width="4.4" stroke-linecap="round"/>
<line x1="531.5" y1="577.5" x2="531.5" y2="591.5" stroke="#000" stroke-width="4.4" stroke-linecap="round"/>
<line x1="531.5" y1="611.5" x2="531.5" y2="626.5" stroke="#000" stroke-width="4.4" stroke-linecap="round"/>
<line x1="531.5" y1="646.5" x2="531.5" y2="660.7" stroke="#000" stroke-width="4.4" stroke-linecap="round"/>
<line x1="531.5" y1="681.5" x2="531.5" y2="694.3" stroke="#000" stroke-width="4.4" stroke-linecap="round"/>
<line x1="531.5" y1="715.5" x2="531.5" y2="728.5" stroke="#000" stroke-width="4.4" stroke-linecap="round"/>
<line x1="531.5" y1="749.9" x2="531.5" y2="764.0" stroke="#000" stroke-width="4.4" stroke-linecap="round"/>
<line x1="531.5" y1="781.1" x2="531.5" y2="797.7" stroke="#000" stroke-width="4.4" stroke-linecap="round"/>
<line x1="531.5" y1="819.2" x2="531.5" y2="833.7" stroke="#000" stroke-width="4.4" stroke-linecap="round"/>
<line x1="531.5" y1="854.1" x2="531.5" y2="865.3" stroke="#000" stroke-width="4.4" stroke-linecap="round"/>
<path d="M532,527 L538.5,549.5 Q532,546 525.5,549.5 Z" fill="#000" stroke="#000" stroke-width="1" stroke-linejoin="round"/>
<line x1="724.5" y1="499" x2="1214.6" y2="499" stroke="#111" stroke-width="1.5"/>
<line x1="724.5" y1="498.4" x2="724.5" y2="920.4" stroke="#111" stroke-width="1.3"/>
<line x1="1214" y1="499" x2="1212.5" y2="914.5" stroke="#222" stroke-width="1.1"/>
<line x1="718.4" y1="914.5" x2="1213" y2="914.5" stroke="#222" stroke-width="1.1"/>
<line x1="720.8" y1="916.5" x2="1215.3" y2="916.5" stroke="#222" stroke-width="1.1"/>
<line x1="1215.1" y1="494.5" x2="1215.1" y2="917" stroke="#333" stroke-width="1.1"/>
<line x1="794.6" y1="916.5" x2="794.6" y2="925.5" stroke="#111" stroke-width="1.3"/>
<line x1="864.6" y1="916.5" x2="864.6" y2="921" stroke="#111" stroke-width="1.3"/>
<line x1="934.6" y1="916.5" x2="934.6" y2="925.5" stroke="#111" stroke-width="1.3"/>
<line x1="1004.6" y1="916.5" x2="1004.6" y2="921" stroke="#111" stroke-width="1.3"/>
<line x1="1074.6" y1="916.5" x2="1074.6" y2="925.5" stroke="#111" stroke-width="1.3"/>
<line x1="1144.6" y1="916.5" x2="1144.6" y2="921" stroke="#111" stroke-width="1.3"/>
<line x1="1214.6" y1="916.5" x2="1214.6" y2="925.5" stroke="#111" stroke-width="1.3"/>
<line x1="721" y1="498.9" x2="724.5" y2="498.9" stroke="#111" stroke-width="1.3"/>
<line x1="717" y1="528.71" x2="724.5" y2="528.71" stroke="#111" stroke-width="1.3"/>
<line x1="721" y1="558.52" x2="724.5" y2="558.52" stroke="#111" stroke-width="1.3"/>
<line x1="717" y1="588.33" x2="724.5" y2="588.33" stroke="#111" stroke-width="1.3"/>
<line x1="721" y1="618.14" x2="724.5" y2="618.14" stroke="#111" stroke-width="1.3"/>
<line x1="717" y1="647.95" x2="724.5" y2="647.95" stroke="#111" stroke-width="1.3"/>
<line x1="721" y1="677.76" x2="724.5" y2="677.76" stroke="#111" stroke-width="1.3"/>
<line x1="717" y1="707.57" x2="724.5" y2="707.57" stroke="#111" stroke-width="1.3"/>
<line x1="721" y1="737.38" x2="724.5" y2="737.38" stroke="#111" stroke-width="1.3"/>
<line x1="717" y1="767.19" x2="724.5" y2="767.19" stroke="#111" stroke-width="1.3"/>
<line x1="721" y1="797" x2="724.5" y2="797" stroke="#111" stroke-width="1.3"/>
<line x1="717" y1="826.81" x2="724.5" y2="826.81" stroke="#111" stroke-width="1.3"/>
<line x1="721" y1="856.62" x2="724.5" y2="856.62" stroke="#111" stroke-width="1.3"/>
<line x1="717" y1="886.43" x2="724.5" y2="886.43" stroke="#111" stroke-width="1.3"/>
<line x1="721" y1="916.24" x2="724.5" y2="916.24" stroke="#111" stroke-width="1.3"/>
<text x="664.34" y="495.15" font-size="56.7" textLength="31.97" lengthAdjust="spacingAndGlyphs" font-family="DejaVu Sans, sans-serif" fill="#000">e</text>
<text x="735.64" y="618.4" font-size="25.22" letter-spacing="0.239" fill="#000">Z7</text>
<text x="736.62" y="734" font-size="26.52" textLength="30.27" lengthAdjust="spacingAndGlyphs" fill="#000">Z5</text>
<text x="736.64" y="861" font-size="25.22" letter-spacing="0.787" fill="#000">Z3</text>
<text x="1144" y="746.5" font-size="26.67" textLength="59.14" lengthAdjust="spacingAndGlyphs" fill="#000">GQD</text>
<text transform="translate(697.7,919.07) rotate(-90)" font-size="30.87" letter-spacing="1.301" fill="#000">Normalized Intensity (a.u)</text>
<text x="769.74" y="955" font-size="33.14" textLength="48.59" lengthAdjust="spacingAndGlyphs" fill="#000">300</text>
<text x="909.42" y="955" font-size="33.14" textLength="48.29" lengthAdjust="spacingAndGlyphs" fill="#000">400</text>
<text x="1049.65" y="955" font-size="33.14" textLength="48.06" lengthAdjust="spacingAndGlyphs" fill="#000">500</text>
<text x="1188.11" y="955" font-size="33.14" textLength="49.63" lengthAdjust="spacingAndGlyphs" fill="#000">600</text>
<text x="854.75" y="999.5" font-size="33.77" textLength="221.96" lengthAdjust="spacingAndGlyphs" fill="#000">Wavelength (nm)</text>
<polygon points="929.6,629.79 930.6,628.5 931.6,627.02 932.6,625.32 933.6,623.44 934.6,621.45 935.6,619.38 936.6,617.28 937.6,615.21 938.6,613.21 939.6,611.22 940.6,609.23 941.6,607.19 942.6,605.09 943.6,602.9 944.6,600.6 945.6,598.16 946.6,595.6 947.6,592.97 948.6,590.28 949.6,587.58 950.6,584.89 951.6,582.26 952.6,579.7 953.6,577.22 954.6,574.76 955.6,572.33 956.6,569.92 957.6,567.54 958.6,565.2 959.6,562.91 960.6,560.64 961.6,558.34 962.6,556.05 963.6,553.79 964.6,551.62 965.6,549.57 966.6,547.68 967.6,546.65 968.6,547.8 969.6,548.96 970.6,550.13 971.6,551.32 972.6,552.52 973.6,553.73 974.6,554.98 975.6,556.26 976.6,557.55 977.6,558.85 978.6,560.13 979.6,561.38 980.6,562.59 981.6,563.74 982.6,564.87 983.6,565.98 984.6,567.06 985.6,568.13 986.6,569.17 987.6,570.18 988.6,571.17 989.6,572.13 990.6,573.05 991.6,573.95 992.6,574.83 993.6,575.69 994.6,576.52 995.6,577.34 996.6,578.14 997.6,578.94 998.6,579.72 999.6,580.52 1000.6,581.35 1001.6,582.22 1002.6,583.09 1003.6,583.97 1004.6,584.85 1005.6,585.71 1006.6,586.54 1007.6,587.34 1008.6,588.08 1009.6,588.77 1010.6,589.38 1011.6,589.92 1012.6,590.36 1013.6,590.7 1014.6,590.93 1015.6,591.11 1016.6,591.26 1017.6,591.37 1018.6,591.48 1019.6,591.58 1020.6,591.69 1021.6,591.82 1022.6,591.99 1023.6,592.2 1024.6,592.5 1025.6,593.03 1026.6,593.75 1027.6,594.62 1028.6,595.58 1029.6,596.59 1030.6,597.6 1031.6,598.62 1032.6,599.77 1033.6,601.05 1034.6,602.41 1035.6,603.82 1036.6,605.24 1037.6,606.64 1038.6,607.97 1039.6,609.21 1040.6,610.31 1041.6,611.26 1042.6,612.17 1043.6,613.05 1044.6,613.9 1045.6,614.72 1046.6,615.51 1047.6,616.28 1048.6,617.02 1049.6,617.73 1050.6,618.42 1051.6,619.08 1052.6,619.73 1053.6,620.35 1054.6,620.95 1055.6,621.54 1056.6,622.1 1057.6,622.65 1058.6,623.2 1059.6,623.73 1060.6,624.25 1061.6,624.77 1062.6,625.27 1063.6,625.76 1064.6,626.23 1065.6,626.7 1066,629.8 929.6,629.8" fill="#22b14c"/>
<polygon points="926.8,750.1 927.8,750.1 928.8,749.22 929.8,747.8 930.8,746.27 931.8,744.65 932.8,742.94 933.8,741.17 934.8,739.33 935.8,737.43 936.8,735.38 937.8,733.19 938.8,730.88 939.8,728.48 940.8,726.03 941.8,723.55 942.8,721.07 943.8,718.62 944.8,716.23 945.8,713.9 946.8,711.57 947.8,709.24 948.8,706.92 949.8,704.59 950.8,702.26 951.8,699.92 952.8,697.58 953.8,695.22 954.8,692.84 955.8,690.35 956.8,687.79 957.8,685.2 958.8,682.65 959.8,680.19 960.8,677.88 961.8,676.08 962.8,676.73 963.8,677.43 964.8,678.19 965.8,679.01 966.8,679.87 967.8,680.76 968.8,681.68 969.8,682.61 970.8,683.54 971.8,684.46 972.8,685.37 973.8,686.25 974.8,687.13 975.8,688.01 976.8,688.88 977.8,689.76 978.8,690.64 979.8,691.53 980.8,692.42 981.8,693.31 982.8,694.21 983.8,695.12 984.8,696.04 985.8,696.97 986.8,697.9 987.8,698.85 988.8,699.81 989.8,700.78 990.8,701.76 991.8,702.75 992.8,703.75 993.8,704.76 994.8,705.77 995.8,706.81 996.8,707.85 997.8,708.92 998.8,710 999.8,711.09 1000.8,712.21 1001.8,713.35 1002.8,714.52 1003.8,715.73 1004.8,716.96 1005.8,718.23 1006.8,719.52 1007.8,720.83 1008.8,722.16 1009.8,723.5 1010.8,724.85 1011.8,726.2 1012.8,727.55 1013.8,728.89 1014.8,730.23 1015.8,731.55 1016.8,732.85 1017.8,734.17 1018.8,735.49 1019.8,736.82 1020.8,738.16 1021.8,739.49 1022.8,740.81 1023.8,742.11 1024.8,743.4 1025.8,744.67 1026.8,745.91 1027.8,747.12 1028.8,748.3 1029.8,749.45 1030,750.1 926.8,750.1" fill="#22b14c"/>
<polygon points="926,869.7 927,868.32 928,866.88 929,865.39 930,863.84 931,862.27 932,860.68 933,859.07 934,857.41 935,855.7 936,853.9 937,852 938,849.98 939,847.8 940,845.32 941,842.58 942,839.66 943,836.65 944,833.61 945,830.65 946,830.95 947,832.3 948,833.81 949,835.44 950,837.14 951,838.86 952,840.68 953,842.75 954,844.95 955,847.14 956,849.21 957,851 958,852.44 959,853.71 960,854.9 961,856.02 962,857.05 963,858.02 964,858.93 965,859.78 966,860.57 967,861.33 968,862.04 969,862.73 970,863.39 971,864.02 972,864.62 973,865.2 974,865.76 975,866.3 976,866.82 977,867.32 978,867.8 979,868.27 980,868.72 981,869.17 982,869.6 983,870 984,870.38 985,870.75 986,871.1 987,871.45 988,871.79 989,872.14 990,872.5 991,872.86 992,873.22 993,873.59 994,873.95 995,874.3 996,874.66 997,875.02 998,875.38 999,875.6 1000,875.6 1000,875.6 926,875.6" fill="#22b14c"/>
<line x1="929.6" y1="629.8" x2="1062" y2="629.8" stroke="#3ddc5c" stroke-width="1.2"/>
<line x1="926.8" y1="750.1" x2="1027" y2="750.1" stroke="#3ddc5c" stroke-width="1.2"/>
<line x1="926" y1="875.6" x2="998" y2="875.6" stroke="#3ddc5c" stroke-width="1.2"/>
<path d="M725.2,638.6 726.4,637.7 727.6,636.8 728.8,635.9 730.1,635.1 731.4,634.4 732.7,633.8 734.1,633.2 735.5,632.7 737.0,632.3 738.4,632.0 739.9,631.9 741.4,631.9 742.9,632.0 744.3,632.4 745.7,632.9 747.1,633.5 748.5,634.1 749.8,634.6 751.3,635.1 752.7,635.4 754.2,635.5 755.6,635.4 757.1,635.2 758.6,634.8 760.0,634.4 761.4,634.0 762.9,633.5 764.2,632.9 765.6,632.3 767.0,631.7 768.3,631.0 769.7,630.4 771.0,629.8 772.4,629.2 773.8,628.6 775.2,628.0 776.6,627.4 777.9,626.8 779.3,626.2 780.7,625.6 782.0,625.0 783.4,624.3 784.7,623.7 786.1,623.0 787.4,622.3 788.7,621.6 790.1,620.9 791.4,620.2 792.7,619.5 794.0,618.8 795.3,618.0 796.6,617.3 797.9,616.4 799.1,615.6 800.3,614.7 801.5,613.8 802.7,612.8 803.8,611.9 804.9,610.9 806.0,609.8 807.1,608.8 808.2,607.8 809.3,606.7 810.3,605.7 811.4,604.6 812.5,603.6 813.6,602.6 814.8,601.6 815.9,600.7 817.1,599.7 818.6,598.5 819.8,597.5 821.0,596.6 822.2,595.7 823.4,594.8 824.6,593.9 825.7,592.9 826.9,592.0 828.1,591.1 829.2,590.1 830.4,589.1 831.5,588.1 832.6,587.1 833.6,586.0 834.7,584.9 835.7,583.8 836.7,582.8 837.7,581.7 838.8,580.6 839.8,579.5 841.0,578.5 842.1,577.6 843.3,576.7 844.6,575.9 845.9,575.2 847.2,574.5 848.6,573.8 849.9,573.2 851.3,572.6 852.7,572.0 854.1,571.5 855.5,571.0 856.9,570.5 858.4,570.1 859.8,569.6 861.2,569.2 862.7,568.8 864.1,568.4 865.5,567.9 867.0,567.5 868.4,567.0 869.8,566.6 871.3,566.1 872.7,565.6 874.1,565.1 875.5,564.6 876.9,564.0 878.3,563.4 879.6,562.8 881.0,562.1 882.3,561.4 883.6,560.7 884.9,559.9 886.2,559.1 887.4,558.3 888.7,557.5 889.9,556.7 891.2,555.9 892.5,555.0 893.7,554.2 895.0,553.4 896.2,552.6 897.5,551.8 898.7,550.9 900.0,550.1 901.2,549.2 902.4,548.4 903.6,547.5 904.9,546.6 906.1,545.7 907.3,544.9 908.5,544.0 909.7,543.0 910.8,542.1 912.0,541.1 913.1,540.2 914.3,539.2 915.4,538.2 916.5,537.2 917.7,536.2 918.8,535.3 920.0,534.3 921.1,533.3 922.3,532.4 923.5,531.6 924.8,531.0 926.2,530.8 927.7,530.7 929.2,530.8 930.6,531.1 932.1,531.4 933.6,531.8 935.0,532.3 936.3,532.8 937.7,533.4 939.1,534.0 940.5,534.4 942.0,534.7 943.5,534.9 945.0,534.9 946.4,534.9 947.9,534.8 949.4,534.6 950.9,534.4 952.3,534.3 953.8,534.5 955.1,534.9 956.5,535.6 957.7,536.4 958.9,537.3 960.0,538.3 961.1,539.3 962.1,540.4 963.1,541.5 964.1,542.7 965.1,543.8 966.1,544.9 967.1,546.1 968.1,547.2 969.0,548.3 970.0,549.5 971.0,550.6 971.9,551.7 972.9,552.9 973.8,554.1 974.8,555.2 975.7,556.4 976.6,557.6 977.6,558.8 978.5,560.0 979.4,561.1 980.4,562.3 981.3,563.4 982.3,564.6 983.3,565.7 984.4,566.8 985.4,567.9 986.4,569.0 987.5,570.0 988.5,571.1 990.0,572.5 991.1,573.5 992.2,574.5 993.3,575.4 994.5,576.4 995.7,577.4 996.8,578.3 998.0,579.2 999.2,580.2 1000.3,581.1 1001.5,582.1 1002.6,583.1 1003.7,584.1 1004.9,585.1 1006.0,586.0 1007.2,587.0 1008.4,587.8 1009.6,588.7 1010.9,589.4 1012.3,590.1 1013.7,590.6 1015.1,590.9 1016.6,591.2 1018.1,591.4 1019.5,591.6 1021.0,591.8 1022.5,592.1 1023.9,592.5 1025.3,593.1 1026.5,593.9 1027.7,594.8 1028.8,595.8 1029.8,596.8 1030.9,597.9 1031.9,599.0 1032.9,600.2 1033.8,601.4 1034.7,602.6 1035.6,603.8 1036.4,605.0 1037.3,606.2 1038.2,607.4 1039.1,608.6 1040.1,609.7 1041.2,610.8 1042.3,611.8 1043.4,612.8 1044.5,613.8 1045.7,614.7 1046.8,615.7 1048.0,616.6 1049.3,617.5 1050.5,618.3 1051.7,619.1 1053.0,619.9 1054.3,620.7 1055.6,621.5 1056.9,622.2 1058.2,623.0 1059.5,623.7 1060.8,624.4 1062.2,625.0 1063.5,625.7 1064.9,626.3 1066.2,627.0 1067.6,627.6 1069.0,628.1 1070.4,628.7 1071.8,629.2 1073.2,629.6 1074.6,630.1" fill="none" stroke="#000080" stroke-width="4.0" stroke-linejoin="round" stroke-linecap="butt" />
<path d="M885.6,647.6 887.1,647.5 888.6,647.4 890.1,647.3 891.6,647.2 893.1,647.0 894.6,646.8 896.0,646.6 897.5,646.4 899.0,646.1 900.5,645.9 902.0,645.6 903.4,645.3 904.9,645.0 906.4,644.7 907.8,644.3 909.3,643.9 910.7,643.5 912.1,643.0 913.5,642.5 914.9,642.0 916.3,641.3 917.6,640.6 918.9,639.8 920.1,638.9 921.2,638.0 922.3,637.0 923.5,636.0 924.6,635.0 925.6,634.0 926.7,632.9 927.8,631.8 928.8,630.7 929.7,629.6 930.6,628.4 931.5,627.1 932.2,625.9 933.0,624.5 933.7,623.2 934.4,621.9 935.0,620.5 935.7,619.2 936.3,617.8 937.0,616.5 937.6,615.1 938.3,613.8 939.0,612.5 939.7,611.1 940.3,609.8 941.0,608.4 941.6,607.1 942.3,605.7 942.9,604.4 943.5,603.0 944.1,601.6 944.7,600.2 945.3,598.9 945.9,597.5 946.4,596.1 946.9,594.7 947.5,593.3 948.0,591.9 948.5,590.5 949.1,589.1 949.6,587.6 950.1,586.2 950.6,584.8 951.2,583.4 951.7,582.0 952.2,580.6 952.8,579.2 953.3,577.9 953.9,576.5 954.7,574.6 955.2,573.2 955.8,571.8 956.4,570.4 957.0,569.1 957.5,567.7 958.1,566.3 958.7,564.9 959.3,563.5 959.9,562.2 960.5,560.8 961.1,559.4 961.7,558.1 962.3,556.7 962.9,555.3 963.5,553.9 964.2,552.6 964.8,551.2 965.5,549.9 966.2,548.5 966.9,547.2 967.6,545.9 968.4,544.6 969.2,543.4 970.0,542.1 970.9,540.9 971.8,539.7 972.7,538.5 973.7,537.4 974.7,536.3 975.8,535.2 976.9,534.2 978.0,533.2 979.2,532.4 980.5,531.7 981.9,531.2 983.3,530.8 984.8,530.5 986.3,530.3 987.8,530.1 989.3,529.9 990.8,529.8 992.3,529.8 993.7,529.9 995.2,530.2 996.6,530.6 998.0,531.1 999.4,531.7 1000.7,532.4 1002.1,533.1 1003.4,533.8 1004.7,534.6 1005.9,535.4 1007.1,536.3 1008.3,537.3 1009.4,538.2 1010.5,539.2 1011.6,540.2 1012.7,541.3 1013.8,542.3 1014.8,543.4 1015.9,544.5 1016.9,545.6 1017.9,546.7 1018.8,547.9 1019.8,549.0 1020.7,550.2 1021.6,551.4 1022.6,552.6 1023.5,553.7 1024.4,554.9 1025.3,556.1 1026.3,557.3 1027.2,558.4 1028.2,559.6 1029.2,560.7 1030.2,561.8 1031.2,562.9 1032.2,564.1 1033.2,565.2 1034.2,566.3 1035.2,567.4 1036.2,568.6 1037.1,569.7 1038.1,570.9 1039.0,572.1 1039.9,573.3 1040.7,574.5 1041.6,575.7 1042.4,577.0 1043.3,578.2 1044.1,579.4 1045.0,580.7 1045.8,581.9 1046.7,583.2 1047.5,584.4 1048.4,585.6 1049.3,586.8 1050.2,588.0 1051.1,589.2 1051.9,590.4 1052.8,591.6 1053.8,592.8 1054.7,594.0 1055.6,595.2 1056.6,596.3 1057.6,597.5 1058.6,598.5 1059.7,599.6 1060.8,600.6 1061.9,601.6 1063.0,602.6 1064.2,603.6 1065.3,604.5 1066.5,605.4 1067.7,606.3 1068.9,607.2 1070.2,608.1 1071.4,608.9 1072.6,609.8 1073.9,610.6 1075.1,611.4 1076.4,612.2 1077.7,613.0 1079.0,613.8 1080.2,614.6 1081.5,615.3 1082.8,616.1 1084.2,616.8 1085.5,617.5 1086.8,618.2 1088.1,619.0 1089.4,619.7 1090.7,620.4 1092.1,621.1 1093.4,621.8 1094.7,622.5 1096.0,623.2 1097.4,623.9 1098.7,624.6 1100.0,625.2 1101.4,625.9 1102.8,626.5 1104.1,627.1 1105.5,627.7 1107.4,628.4 1108.8,629.0 1110.2,629.5 1111.6,630.0 1113.0,630.6 1114.4,631.1 1115.8,631.5 1117.2,632.0 1118.7,632.5 1120.1,633.0 1121.5,633.4 1122.9,633.9 1124.4,634.4 1125.8,634.8 1127.2,635.3 1128.7,635.7 1130.1,636.2 1131.5,636.6 1132.9,637.1 1134.4,637.5 1135.8,637.9 1137.3,638.3 1138.7,638.7 1140.2,639.0 1141.6,639.4 1143.1,639.7 1144.6,640.0 1146.0,640.3 1147.5,640.6 1149.0,640.9 1150.5,641.2 1151.9,641.5 1153.4,641.7 1154.9,642.0 1156.4,642.2 1157.9,642.4 1159.3,642.6 1160.8,642.9 1162.3,643.0 1163.8,643.2 1165.3,643.4 1166.8,643.6 1168.3,643.8 1169.8,644.0 1171.2,644.1 1172.7,644.3 1174.2,644.4 1175.7,644.6 1177.2,644.7 1178.7,644.9 1180.2,645.0 1181.7,645.1 1183.2,645.2 1184.7,645.3 1186.2,645.4 1187.7,645.4 1189.2,645.5 1190.7,645.6 1192.2,645.7 1193.7,645.7 1195.2,645.8 1196.7,645.9 1198.2,645.9 1199.7,646.0 1201.2,646.1 1202.7,646.1 1204.2,646.2 1205.7,646.2 1207.2,646.2 1208.7,646.3 1210.2,646.3 1211.6,646.3 1213.0,646.3" fill="none" stroke="#007d00" stroke-width="4.0" stroke-linejoin="round" stroke-linecap="butt" />
<path d="M725.2,765.6 726.7,765.5 728.2,765.4 729.7,765.2 731.2,765.1 732.7,765.0 734.2,764.9 735.7,764.7 737.2,764.6 738.7,764.5 740.1,764.3 741.6,764.2 743.1,764.1 744.6,763.9 746.1,763.8 747.6,763.7 749.1,763.5 750.6,763.4 752.1,763.2 753.6,763.0 755.1,762.7 756.5,762.5 758.0,762.2 759.5,761.8 760.9,761.4 762.4,761.0 763.8,760.6 765.2,760.2 766.7,759.8 768.1,759.4 769.6,759.0 771.0,758.6 772.4,758.2 773.9,757.7 775.3,757.2 776.7,756.8 778.1,756.3 779.6,755.8 781.0,755.3 782.4,754.7 783.8,754.2 785.2,753.6 786.5,753.0 787.9,752.4 789.3,751.8 790.6,751.2 792.0,750.6 793.3,749.9 794.7,749.2 796.0,748.5 797.3,747.8 798.6,747.1 799.9,746.3 801.1,745.4 802.3,744.5 803.4,743.5 804.5,742.4 805.5,741.3 806.4,740.2 807.4,739.0 808.3,737.8 809.1,736.6 810.0,735.4 810.9,734.1 811.7,732.9 812.6,731.6 813.4,730.4 814.2,729.1 815.2,727.4 816.0,726.1 816.7,724.8 817.5,723.5 818.3,722.3 819.1,721.0 819.9,719.7 820.6,718.4 821.4,717.1 822.2,715.9 823.0,714.6 823.8,713.3 824.5,712.0 825.3,710.7 826.0,709.4 826.8,708.1 827.5,706.8 828.2,705.5 828.9,704.1 829.6,702.8 830.2,701.4 830.8,700.1 831.5,698.7 832.1,697.4 832.7,696.0 833.4,694.6 834.0,693.3 834.7,691.9 835.4,690.6 836.1,689.3 836.9,688.0 837.7,686.8 838.6,685.6 839.5,684.4 840.5,683.2 841.4,682.1 842.4,681.0 843.5,679.9 844.5,678.8 845.5,677.7 846.5,676.6 847.6,675.5 848.6,674.4 849.7,673.3 850.7,672.3 851.8,671.2 852.8,670.2 853.9,669.1 855.0,668.1 856.1,667.0 857.1,666.0 858.2,664.9 859.2,663.8 860.2,662.7 861.2,661.5 862.1,660.4 863.2,659.3 864.2,658.2 865.3,657.3 866.6,656.4 867.8,655.7 869.2,655.0 870.6,654.5 872.0,654.1 873.5,653.8 875.0,653.7 876.4,653.9 877.8,654.2 879.2,654.7 880.6,655.4 881.8,656.2 883.0,657.0 884.2,658.0 885.2,659.1 886.2,660.2 887.2,661.3 888.2,662.4 889.2,663.5 890.3,664.6 891.4,665.6 892.6,666.5 893.8,667.4 895.0,668.3 896.2,669.2 897.4,670.0 898.7,670.9 899.9,671.8 901.1,672.6 902.3,673.5 903.5,674.5 904.6,675.5 905.7,676.5 906.8,677.5 907.8,678.6 908.9,679.6 910.1,680.5 911.3,681.4 912.6,682.0 914.0,682.3 915.4,682.3 916.7,681.9 918.0,681.2 919.2,680.4 920.5,679.5 921.7,678.7 923.0,678.0 924.4,677.4 925.8,677.0 927.3,676.5 928.7,676.1 930.2,675.8 931.6,675.4 933.1,675.0 934.5,674.5 935.9,674.1 937.3,673.6 938.7,673.0 940.1,672.5 941.5,672.0 942.9,671.5 944.4,671.0 945.8,670.7 947.3,670.4 948.8,670.3 950.2,670.3 951.7,670.6 953.1,671.0 954.5,671.6 955.8,672.2 957.1,673.0 958.4,673.8 959.6,674.6 960.9,675.5 962.1,676.3 963.3,677.2 964.5,678.1 966.1,679.3 967.2,680.3 968.4,681.3 969.5,682.3 970.6,683.3 971.7,684.3 972.8,685.3 973.9,686.3 975.0,687.3 976.2,688.3 977.3,689.3 978.4,690.3 979.5,691.3 980.7,692.3 981.8,693.3 982.9,694.3 984.0,695.3 985.1,696.3 986.2,697.3 987.3,698.4 988.4,699.4 989.4,700.5 990.5,701.5 991.6,702.6 992.7,703.6 993.7,704.7 994.8,705.7 995.8,706.8 996.8,707.9 997.9,709.0 998.9,710.1 999.9,711.2 1000.9,712.3 1001.9,713.5 1002.8,714.6 1003.8,715.8 1004.8,716.9 1005.7,718.1 1006.6,719.3 1007.5,720.5 1008.4,721.7 1009.3,722.9 1010.2,724.1 1011.1,725.3 1012.0,726.5 1012.9,727.7 1013.8,728.9 1014.7,730.1 1015.6,731.3 1016.5,732.5 1017.4,733.7 1018.3,734.9 1019.2,736.1 1020.1,737.3 1021.0,738.5 1021.9,739.7 1022.8,740.9 1023.8,742.0 1024.7,743.2 1025.6,744.4 1026.5,745.6 1027.5,746.7 1028.5,747.9 1029.4,749.0 1030.4,750.1 1031.4,751.2 1032.4,752.3 1033.4,753.4" fill="none" stroke="#ff00ff" stroke-width="4.0" stroke-linejoin="round" stroke-linecap="butt" />
<path d="M884.2,766.9 885.7,766.9 887.2,766.8 888.7,766.8 890.2,766.7 891.7,766.6 893.2,766.5 894.7,766.4 896.2,766.2 897.7,766.1 899.2,765.9 900.6,765.7 902.1,765.5 903.6,765.3 905.1,765.0 906.5,764.6 908.0,764.2 909.4,763.7 910.8,763.1 912.2,762.6 913.5,761.9 914.8,761.2 916.1,760.5 917.4,759.7 918.7,758.9 919.9,758.0 921.1,757.1 922.3,756.2 923.4,755.2 924.5,754.2 925.5,753.1 926.5,752.0 927.5,750.8 928.4,749.7 929.3,748.4 930.1,747.2 931.0,746.0 931.8,744.7 932.5,743.4 933.3,742.1 934.0,740.8 934.7,739.5 935.4,738.1 936.1,736.8 936.7,735.4 937.4,734.1 938.0,732.7 938.6,731.3 939.2,730.0 939.9,728.1 940.5,726.7 941.1,725.3 941.6,723.9 942.2,722.6 942.8,721.2 943.3,719.8 943.9,718.4 944.5,717.0 945.1,715.6 945.7,714.2 946.2,712.9 946.8,711.5 947.4,710.1 948.0,708.7 948.6,707.4 949.2,706.0 949.8,704.6 950.4,703.2 951.0,701.8 951.6,700.5 952.2,699.1 952.7,697.7 953.3,696.3 953.9,694.9 954.5,693.6 955.1,692.2 955.6,690.8 956.2,689.4 956.7,688.0 957.3,686.6 957.8,685.2 958.4,683.8 958.9,682.4 959.5,681.0 960.1,679.6 960.7,678.3 961.3,676.9 962.0,675.5 962.6,674.2 963.4,672.9 964.1,671.6 964.9,670.3 965.7,669.0 966.5,667.8 967.3,666.5 968.2,665.3 969.1,664.1 970.0,662.9 970.9,661.7 971.8,660.6 972.8,659.4 973.8,658.3 974.7,657.1 975.7,656.0 976.7,654.9 977.8,653.8 978.9,652.9 980.1,652.0 981.4,651.2 982.7,650.5 984.1,649.8 985.4,649.2 986.8,648.7 988.3,648.4 989.7,648.1 991.2,648.1 992.7,648.4 994.1,648.8 995.5,649.3 996.8,650.0 998.1,650.7 999.4,651.4 1000.8,652.1 1002.1,652.8 1003.4,653.6 1004.7,654.4 1005.9,655.2 1007.2,656.0 1008.4,656.8 1009.7,657.7 1010.9,658.5 1012.1,659.4 1013.3,660.3 1014.4,661.3 1015.6,662.3 1016.7,663.2 1017.8,664.3 1018.9,665.3 1019.9,666.4 1020.9,667.5 1021.9,668.7 1022.8,669.8 1023.8,671.0 1024.7,672.2 1025.6,673.4 1026.5,674.6 1027.7,676.1 1028.6,677.4 1029.5,678.6 1030.4,679.8 1031.2,681.0 1032.1,682.2 1033.0,683.5 1033.8,684.7 1034.7,685.9 1035.6,687.1 1036.5,688.3 1037.4,689.5 1038.3,690.8 1039.2,692.0 1040.1,693.2 1041.0,694.4 1041.9,695.5 1042.8,696.7 1043.7,697.9 1044.6,699.1 1045.5,700.3 1046.4,701.5 1047.3,702.7 1048.2,703.9 1049.2,705.1 1050.1,706.3 1051.0,707.4 1052.0,708.6 1052.9,709.8 1053.9,710.9 1054.8,712.1 1055.8,713.2 1056.8,714.3 1057.8,715.5 1058.8,716.6 1059.8,717.7 1060.8,718.8 1061.9,719.8 1062.9,720.9 1064.0,721.9 1065.1,723.0 1066.2,724.0 1067.4,725.0 1068.5,725.9 1069.6,726.9 1070.8,727.9 1071.9,728.8 1073.1,729.8 1074.3,730.7 1075.5,731.6 1076.7,732.5 1077.9,733.4 1079.1,734.3 1080.3,735.2 1081.5,736.0 1082.8,736.9 1084.0,737.7 1085.3,738.5 1086.6,739.3 1087.9,740.1 1089.2,740.8 1090.5,741.5 1091.8,742.3 1093.1,743.0 1094.4,743.6 1095.8,744.3 1097.1,745.0 1098.5,745.6 1099.8,746.3 1101.2,746.9 1102.6,747.5 1104.0,748.1 1105.4,748.6 1106.7,749.2 1108.2,749.7 1109.6,750.2 1111.0,750.7 1112.4,751.2 1113.8,751.7 1115.2,752.2 1116.7,752.6 1118.1,753.1 1119.5,753.5 1121.0,754.0 1122.4,754.4 1123.8,754.8 1125.3,755.2 1126.7,755.6 1128.2,756.1 1129.6,756.5 1131.1,756.9 1132.5,757.2 1134.0,757.6 1135.4,758.0 1136.9,758.3 1138.3,758.6 1139.8,758.9 1141.8,759.3 1143.2,759.6 1144.7,759.9 1146.2,760.1 1147.7,760.4 1149.2,760.6 1150.6,760.8 1152.1,761.0 1153.6,761.3 1155.1,761.5 1156.6,761.7 1158.1,761.9 1159.6,762.1 1161.0,762.3 1162.5,762.5 1164.0,762.7 1165.5,762.9 1167.0,763.1 1168.5,763.3 1170.0,763.4 1171.5,763.6 1172.9,763.8 1174.4,764.0 1175.9,764.1 1177.4,764.3 1178.9,764.5 1180.4,764.6 1181.9,764.7 1183.4,764.9 1184.9,765.0 1186.4,765.1 1187.9,765.2 1189.4,765.3 1190.9,765.4 1192.4,765.5 1193.9,765.6 1195.4,765.7 1196.9,765.8 1198.4,765.9 1199.8,766.0 1201.3,766.1 1202.8,766.1 1204.3,766.2 1205.8,766.3 1207.3,766.3 1208.8,766.4 1210.3,766.4 1211.7,766.5 1213.0,766.5" fill="none" stroke="#0000ff" stroke-width="4.0" stroke-linejoin="round" stroke-linecap="butt" />
<path d="M724.8,885.0 726.3,884.8 727.8,884.5 729.2,884.3 730.7,884.1 732.2,883.8 733.7,883.6 735.2,883.3 736.6,883.1 738.1,882.8 739.6,882.6 741.1,882.3 742.6,882.1 744.0,881.8 745.5,881.5 747.0,881.3 748.5,881.0 749.9,880.7 751.4,880.5 752.9,880.2 754.4,879.9 755.8,879.7 757.3,879.5 758.8,879.2 760.3,879.0 761.8,878.7 763.3,878.5 764.7,878.2 766.2,877.9 767.7,877.6 769.1,877.3 770.6,877.0 772.0,876.6 773.5,876.2 774.9,875.7 776.3,875.1 777.6,874.5 778.9,873.7 780.1,872.9 781.3,872.0 782.5,871.1 783.7,870.1 784.8,869.1 786.3,867.8 787.5,866.8 788.6,865.8 789.7,864.8 790.7,863.8 791.8,862.7 792.8,861.6 793.8,860.5 794.8,859.3 795.7,858.1 796.6,856.9 797.5,855.7 798.3,854.5 799.1,853.2 800.0,852.0 800.8,850.7 801.5,849.4 802.3,848.1 803.1,846.9 803.9,845.6 804.6,844.3 805.3,843.0 806.1,841.6 806.8,840.3 807.5,839.0 808.2,837.7 808.8,836.3 809.5,835.0 810.2,833.6 810.8,832.3 811.5,830.9 812.1,829.6 812.8,828.2 813.4,826.9 814.0,825.5 814.7,824.1 815.3,822.8 815.9,821.4 816.5,820.0 817.0,818.6 817.6,817.2 818.1,815.8 818.7,814.5 819.3,813.1 819.8,811.7 820.4,810.3 820.9,808.9 821.5,807.5 822.1,806.1 822.7,804.8 823.3,803.4 824.0,802.0 824.6,800.7 825.2,799.3 825.9,798.0 826.5,796.6 827.2,795.3 827.9,793.9 828.6,792.6 829.3,791.3 830.0,790.0 830.8,788.7 831.6,787.4 832.4,786.1 833.2,784.9 834.0,783.6 834.9,782.4 835.7,781.2 836.6,780.0 837.6,778.8 838.6,777.7 839.6,776.6 840.7,775.6 841.9,774.7 843.1,773.8 844.3,772.9 845.6,772.2 846.9,771.5 848.3,770.9 849.7,770.5 851.2,770.1 852.7,769.9 854.1,769.7 856.1,769.5 857.6,769.5 859.1,769.5 860.6,769.5 862.1,769.7 863.5,769.9 864.9,770.4 866.2,771.1 867.4,772.0 868.6,772.9 869.8,773.8 871.0,774.7 872.2,775.6 873.3,776.6 874.5,777.5 875.7,778.5 876.8,779.4 878.1,780.3 879.3,781.1 880.6,781.8 882.0,782.5 883.3,783.2 884.7,783.8 886.0,784.4 887.4,785.1 888.7,785.7 890.1,786.4 891.4,787.2 892.6,787.9 893.9,788.8 895.1,789.6 896.3,790.5 897.6,791.4 898.8,792.3 900.0,793.2 901.1,794.1 902.3,795.0 903.5,795.9 904.7,796.9 905.8,797.9 906.9,798.8 908.1,799.8 909.2,800.8 910.4,801.8 911.5,802.7 912.7,803.6 913.9,804.5 915.2,805.2 916.5,806.0 917.9,806.6 919.2,807.3 920.6,807.9 921.9,808.7 923.1,809.6 924.2,810.5 925.3,811.6 926.3,812.7 927.2,813.9 928.1,815.0 929.0,816.2 930.0,817.4 930.9,818.6 931.9,819.7 932.9,820.8 934.0,821.8 935.1,822.8 936.3,823.7 937.6,824.5 938.9,825.3 940.1,826.1 941.4,826.9 942.6,827.8 943.7,828.7 944.8,829.8 945.8,830.9 946.7,832.1 947.6,833.3 948.4,834.5 949.2,835.8 950.0,837.1 950.7,838.4 951.4,839.7 952.1,841.0 952.8,842.4 953.4,843.7 954.3,845.6 954.9,846.9 955.6,848.3 956.3,849.6 957.0,850.9 957.9,852.1 958.8,853.3 959.7,854.5 960.7,855.6 961.7,856.7 962.8,857.8 963.9,858.8 965.0,859.7 966.2,860.7 967.4,861.6 968.6,862.4 969.9,863.3 971.1,864.1 972.4,864.8 973.7,865.6 975.0,866.3 976.4,867.0 977.7,867.6 979.1,868.3 980.4,868.9 981.8,869.5 983.2,870.1 984.6,870.6 986.0,871.1 987.4,871.6 988.9,872.1 990.3,872.6 991.7,873.1 993.1,873.6 994.5,874.1 995.9,874.6 997.3,875.1 998.7,875.6 1000.1,876.1 1001.5,876.6 1002.8,877.1 1004.0,877.5" fill="none" stroke="#ff0000" stroke-width="4.0" stroke-linejoin="round" stroke-linecap="butt" />
<path d="M884.7,886.7 886.2,886.6 887.7,886.5 889.2,886.3 890.7,886.2 892.2,886.1 893.7,885.9 895.2,885.8 896.7,885.6 898.1,885.5 899.6,885.3 901.1,885.2 902.6,885.0 904.1,884.8 905.6,884.5 907.0,884.1 908.4,883.7 909.8,883.1 911.2,882.5 912.5,881.8 913.8,881.0 915.1,880.3 916.3,879.5 917.6,878.6 918.8,877.7 919.9,876.7 921.0,875.7 922.0,874.6 923.0,873.5 923.9,872.3 924.9,871.1 925.8,869.9 926.7,868.7 927.5,867.5 928.4,866.3 929.2,865.0 930.0,863.8 930.8,862.5 931.6,861.2 932.4,860.0 933.2,858.7 934.0,857.4 934.7,856.1 935.5,854.8 936.2,853.5 936.9,852.2 937.6,850.8 938.2,849.5 938.8,848.1 939.4,846.7 940.0,845.3 940.5,843.9 941.0,842.5 941.5,841.1 942.0,839.7 942.5,838.2 942.9,836.8 943.4,835.4 943.9,834.0 944.4,832.6 944.8,831.1 945.3,829.7 945.8,828.3 946.4,826.9 946.9,825.5 947.4,824.1 948.0,822.7 948.5,821.3 949.1,819.9 949.6,818.5 950.2,817.1 950.8,815.7 951.3,814.4 952.1,812.5 952.7,811.1 953.3,809.8 954.0,808.4 954.6,807.1 955.3,805.7 956.0,804.4 956.7,803.1 957.4,801.7 958.1,800.4 958.8,799.1 959.6,797.8 960.4,796.5 961.1,795.2 961.9,794.0 962.7,792.7 963.5,791.4 964.3,790.1 965.1,788.8 965.8,787.6 966.6,786.3 967.5,785.0 968.3,783.8 969.1,782.6 970.0,781.4 971.0,780.2 971.9,779.0 972.9,777.9 974.0,776.9 975.1,775.8 976.2,774.8 977.3,773.8 978.5,772.9 979.6,772.0 980.9,771.1 982.1,770.3 983.5,769.7 984.9,769.1 986.3,768.8 987.8,768.5 989.3,768.3 990.8,768.2 992.2,768.1 993.7,768.0 995.2,768.1 996.7,768.3 998.1,768.7 999.4,769.4 1000.6,770.2 1001.8,771.1 1002.9,772.1 1004.0,773.1 1005.1,774.2 1006.1,775.3 1007.2,776.3 1008.2,777.4 1009.3,778.4 1010.4,779.5 1011.5,780.5 1012.5,781.6 1013.6,782.7 1014.6,783.8 1015.6,784.9 1016.6,786.0 1017.6,787.1 1018.6,788.3 1019.5,789.4 1020.5,790.5 1021.5,791.7 1022.5,792.8 1023.4,793.9 1024.4,795.1 1025.4,796.2 1026.4,797.4 1027.3,798.5 1028.3,799.7 1029.3,800.8 1030.2,802.0 1031.2,803.1 1032.1,804.3 1033.1,805.4 1034.0,806.6 1035.0,807.8 1035.9,808.9 1036.9,810.1 1037.9,811.2 1038.8,812.4 1039.8,813.5 1040.7,814.7 1041.7,815.9 1042.6,817.0 1043.5,818.2 1044.5,819.4 1045.4,820.5 1046.4,821.7 1047.3,822.8 1048.3,824.0 1049.3,825.1 1050.3,826.3 1051.3,827.4 1052.3,828.5 1053.3,829.6 1054.3,830.7 1055.3,831.8 1056.4,832.9 1057.4,834.0 1058.4,835.0 1059.5,836.1 1060.6,837.2 1061.6,838.2 1062.7,839.2 1063.9,840.2 1065.0,841.2 1066.1,842.2 1067.3,843.1 1068.5,844.1 1069.7,845.0 1070.9,845.8 1072.1,846.7 1073.3,847.6 1074.6,848.4 1075.8,849.3 1077.1,850.1 1078.3,850.9 1079.6,851.7 1080.8,852.5 1082.1,853.4 1083.4,854.2 1084.6,855.0 1085.9,855.8 1087.1,856.6 1088.4,857.4 1089.7,858.2 1091.0,859.0 1092.3,859.7 1093.5,860.5 1094.9,861.2 1096.2,862.0 1097.5,862.7 1098.8,863.4 1100.1,864.1 1101.5,864.7 1102.8,865.4 1104.2,866.0 1105.6,866.6 1107.4,867.5 1108.8,868.1 1110.1,868.6 1111.5,869.2 1112.9,869.8 1114.3,870.3 1115.7,870.9 1117.1,871.4 1118.5,871.9 1120.0,872.4 1121.4,872.8 1122.8,873.3 1124.2,873.8 1125.7,874.2 1127.1,874.6 1128.5,875.1 1130.0,875.5 1131.4,875.9 1132.9,876.3 1134.3,876.6 1135.8,877.0 1137.2,877.4 1138.7,877.7 1140.2,878.0 1141.6,878.3 1143.1,878.7 1144.6,879.0 1146.0,879.2 1147.5,879.5 1149.0,879.8 1150.5,880.1 1151.9,880.3 1153.4,880.6 1154.9,880.8 1156.4,881.1 1157.9,881.3 1159.4,881.5 1160.8,881.7 1162.3,881.9 1163.8,882.2 1165.3,882.4 1166.8,882.6 1168.3,882.8 1169.7,883.0 1171.2,883.2 1172.7,883.4 1174.2,883.5 1175.7,883.7 1177.2,883.8 1178.7,883.9 1180.2,884.0 1181.7,884.1 1183.2,884.2 1184.7,884.2 1186.2,884.3 1187.7,884.4 1189.2,884.4 1190.7,884.5 1192.2,884.6 1193.7,884.6 1195.2,884.7 1196.7,884.7 1198.2,884.8 1199.7,884.8 1201.2,884.8 1202.7,884.9 1204.2,884.9 1205.7,884.9 1207.2,885.0 1208.7,885.0 1210.2,885.0 1211.6,885.0 1213.0,885.0" fill="none" stroke="#000" stroke-width="4.0" stroke-linejoin="round" stroke-linecap="butt" />
<line x1="1172" y1="714.3" x2="1172" y2="662" stroke="#000" stroke-width="3.3"/>
<path d="M1172,649.1 L1179,663.5 L1165,663.5 Z" fill="#000"/>
<line x1="1172" y1="755.8" x2="1172" y2="862" stroke="#000" stroke-width="3.3"/>
<path d="M1172,873.7 L1179,860.5 L1165,860.5 Z" fill="#000"/>
<rect x="1350.8" y="513.8" width="523.2" height="382.8" fill="none" stroke="#111" stroke-width="1.3"/>
<line x1="1350.85" y1="896.6" x2="1350.85" y2="900.3" stroke="#111" stroke-width="1.3"/>
<line x1="1398.4" y1="896.6" x2="1398.4" y2="904.6" stroke="#111" stroke-width="1.3"/>
<line x1="1445.95" y1="896.6" x2="1445.95" y2="900.3" stroke="#111" stroke-width="1.3"/>
<line x1="1493.5" y1="896.6" x2="1493.5" y2="904.6" stroke="#111" stroke-width="1.3"/>
<line x1="1541.05" y1="896.6" x2="1541.05" y2="900.3" stroke="#111" stroke-width="1.3"/>
<line x1="1588.6" y1="896.6" x2="1588.6" y2="904.6" stroke="#111" stroke-width="1.3"/>
<line x1="1636.15" y1="896.6" x2="1636.15" y2="900.3" stroke="#111" stroke-width="1.3"/>
<line x1="1683.7" y1="896.6" x2="1683.7" y2="904.6" stroke="#111" stroke-width="1.3"/>
<line x1="1731.25" y1="896.6" x2="1731.25" y2="900.3" stroke="#111" stroke-width="1.3"/>
<line x1="1778.8" y1="896.6" x2="1778.8" y2="904.6" stroke="#111" stroke-width="1.3"/>
<line x1="1826.35" y1="896.6" x2="1826.35" y2="900.3" stroke="#111" stroke-width="1.3"/>
<line x1="1873.9" y1="896.6" x2="1873.9" y2="904.6" stroke="#111" stroke-width="1.3"/>
<line x1="1346.8" y1="887.7" x2="1350.8" y2="887.7" stroke="#111" stroke-width="1.3"/>
<line x1="1343.5" y1="861.6" x2="1350.8" y2="861.6" stroke="#111" stroke-width="1.3"/>
<line x1="1346.8" y1="835.5" x2="1350.8" y2="835.5" stroke="#111" stroke-width="1.3"/>
<line x1="1343.5" y1="809.4" x2="1350.8" y2="809.4" stroke="#111" stroke-width="1.3"/>
<line x1="1346.8" y1="783.3" x2="1350.8" y2="783.3" stroke="#111" stroke-width="1.3"/>
<line x1="1343.5" y1="757.2" x2="1350.8" y2="757.2" stroke="#111" stroke-width="1.3"/>
<line x1="1346.8" y1="731.1" x2="1350.8" y2="731.1" stroke="#111" stroke-width="1.3"/>
<line x1="1343.5" y1="705" x2="1350.8" y2="705" stroke="#111" stroke-width="1.3"/>
<line x1="1346.8" y1="678.9" x2="1350.8" y2="678.9" stroke="#111" stroke-width="1.3"/>
<line x1="1343.5" y1="652.8" x2="1350.8" y2="652.8" stroke="#111" stroke-width="1.3"/>
<line x1="1346.8" y1="626.7" x2="1350.8" y2="626.7" stroke="#111" stroke-width="1.3"/>
<line x1="1343.5" y1="600.6" x2="1350.8" y2="600.6" stroke="#111" stroke-width="1.3"/>
<line x1="1346.8" y1="574.5" x2="1350.8" y2="574.5" stroke="#111" stroke-width="1.3"/>
<line x1="1343.5" y1="548.4" x2="1350.8" y2="548.4" stroke="#111" stroke-width="1.3"/>
<line x1="1346.8" y1="522.3" x2="1350.8" y2="522.3" stroke="#111" stroke-width="1.3"/>
<text x="1266.71" y="514" font-size="59.21" textLength="19.11" lengthAdjust="spacingAndGlyphs" font-family="DejaVu Sans, sans-serif" fill="#000">f</text>
<text transform="translate(1284.5,856.08) rotate(-90)" font-size="30.72" letter-spacing="0.727" fill="#000">Quantum yield (%)</text>
<text x="1302.59" y="870.3" font-size="30.86" letter-spacing="0.097" fill="#000">18</text>
<text x="1305.69" y="818.1" font-size="30.86" textLength="31.34" lengthAdjust="spacingAndGlyphs" fill="#000">21</text>
<text x="1303.4" y="765.9" font-size="30.86" textLength="33.26" lengthAdjust="spacingAndGlyphs" fill="#000">24</text>
<text x="1303.38" y="713.7" font-size="30.86" textLength="33.92" lengthAdjust="spacingAndGlyphs" fill="#000">27</text>
<text x="1303.71" y="661.5" font-size="30.86" textLength="33.1" lengthAdjust="spacingAndGlyphs" fill="#000">30</text>
<text x="1303.7" y="609.3" font-size="30.86" textLength="33.26" lengthAdjust="spacingAndGlyphs" fill="#000">33</text>
<text x="1303.7" y="557.1" font-size="30.86" textLength="33.26" lengthAdjust="spacingAndGlyphs" fill="#000">36</text>
<text x="1376.18" y="932.7" font-size="30.43" letter-spacing="0.243" fill="#000">0.0</text>
<text x="1471.28" y="932.7" font-size="30.43" letter-spacing="0.471" fill="#000">0.2</text>
<text x="1566.38" y="932.7" font-size="30.43" letter-spacing="0.167" fill="#000">0.4</text>
<text x="1661.48" y="932.7" font-size="30.43" letter-spacing="0.319" fill="#000">0.6</text>
<text x="1756.58" y="932.7" font-size="30.43" letter-spacing="0.319" fill="#000">0.8</text>
<text x="1850.62" y="932.7" font-size="30.43" letter-spacing="0.776" fill="#000">1.0</text>
<text x="1425.84" y="972.3" font-size="30.72" letter-spacing="0.319" fill="#000">Metal concentration (mole)</text>
<path d="M1398.4,861.6 L1445.95,826.8 L1541.05,739.8 L1636.15,635.4 L1731.25,548.4" fill="none" stroke="#f00000" stroke-width="4" stroke-linejoin="round"/>
<line x1="1734.25" y1="559.4" x2="1824.35" y2="834.2" stroke="#f00000" stroke-width="4"/>
<rect x="1391.4" y="854.6" width="14" height="14" fill="#007800"/>
<rect x="1438.95" y="819.8" width="14" height="14" fill="#007800"/>
<rect x="1534.05" y="732.8" width="14" height="14" fill="#007800"/>
<rect x="1629.15" y="628.4" width="14" height="14" fill="#007800"/>
<rect x="1724.25" y="541.4" width="14" height="14" fill="#007800"/>
<rect x="1819.35" y="837.2" width="14" height="14" fill="#007800"/>
</svg>
</body></html>
